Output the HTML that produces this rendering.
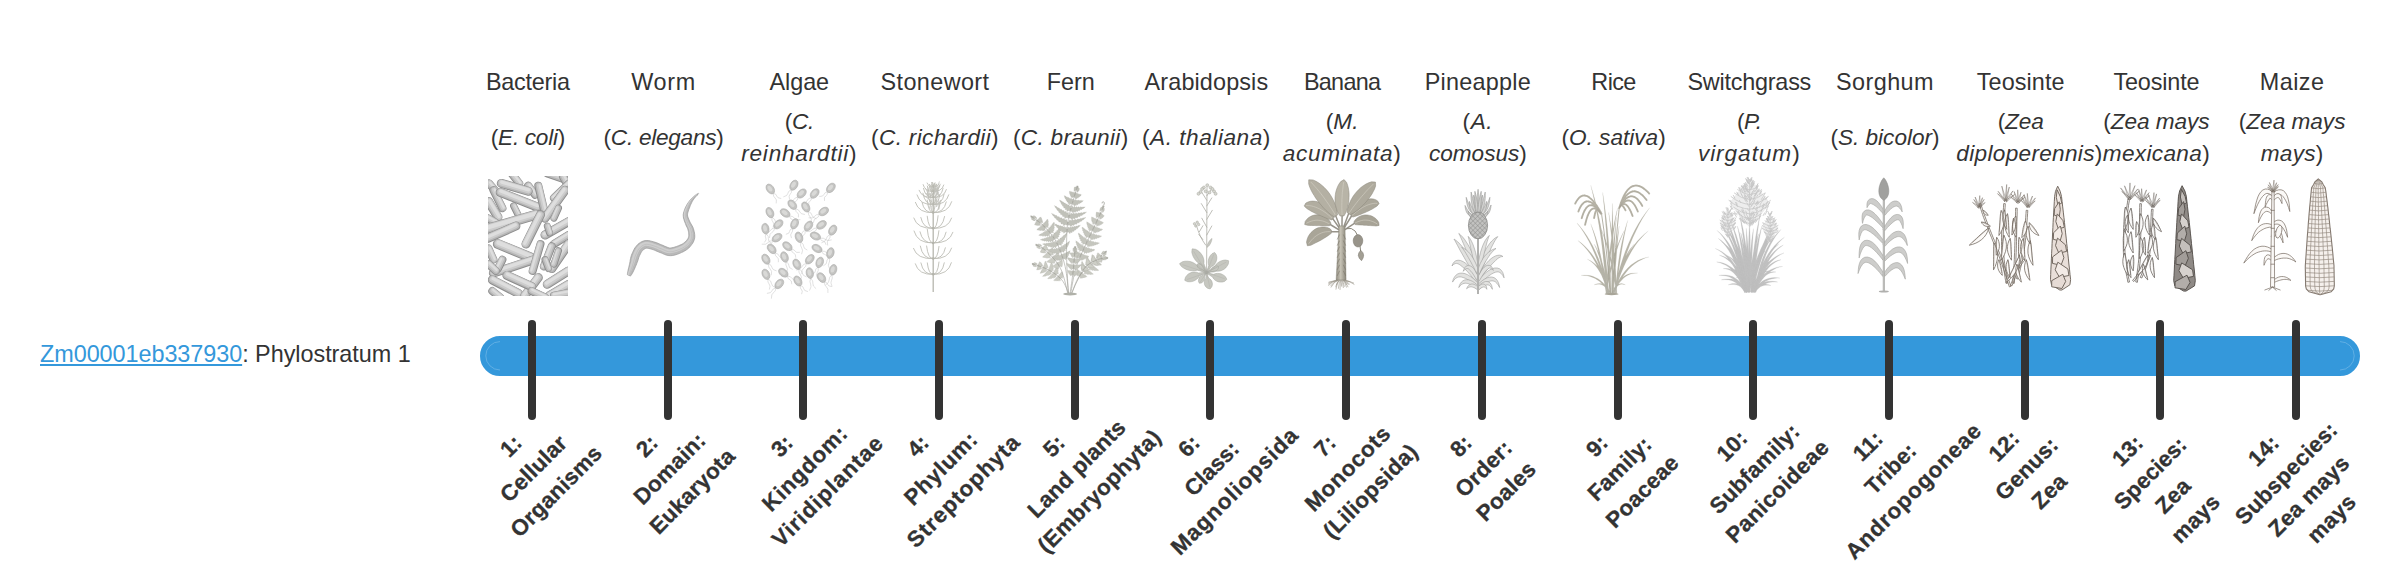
<!DOCTYPE html>
<html lang="en"><head><meta charset="utf-8"><title>Phylostratum timeline</title>
<style>

html,body{margin:0;padding:0}
body{width:2400px;height:580px;background:#fff;position:relative;overflow:hidden;font-family:"Liberation Sans",sans-serif;color:#333}
.t{position:absolute;white-space:nowrap;text-align:center;width:300px}
.cn{font-size:23.40px;line-height:30px;height:30px}
.sn{font-size:22.60px;line-height:30px;height:30px}
.gene{position:absolute;left:40px;white-space:nowrap;font-size:23.4px;line-height:30px}
.gene a{color:#3498db;text-decoration:underline;text-decoration-thickness:1.6px;text-underline-offset:2.2px}
.bar{position:absolute;left:480px;top:336px;width:1868px;height:28px;border:6px solid #3498db;background:#3498db;border-radius:20px}
.tick{position:absolute;top:320px;width:8px;height:100px;border-radius:4px;background:#333}
.lab{position:absolute;width:300px;text-align:center;font-weight:bold;font-size:22.30px;line-height:32px;white-space:nowrap;letter-spacing:0.25px;-webkit-text-stroke:0.3px #333;transform:rotate(-45deg);transform-origin:50% 50%}
.lab div{height:32px}
svg.im{position:absolute;top:176px;overflow:visible}

</style></head><body>
<div class="gene" style="top:338.59px"><a id="g0" style="letter-spacing:-0.050px">Zm00001eb337930</a><span id="g1" style="letter-spacing:-0.027px">: Phylostratum 1</span></div>
<div class="t cn" style="left:377.86px;top:67.19px"><span id="cn0" style="letter-spacing:-0.257px">Bacteria</span></div>
<div class="t sn" style="left:377.86px;top:123.07px"><span id="sn0_0" style="letter-spacing:-0.287px">(<i>E. coli</i>)</span></div>
<svg class="im" style="left:487.86px" width="80" height="120" viewBox="0 0 80 120" ><defs><clipPath id="bc"><rect x="0" y="0" width="80" height="120"/></clipPath><filter id="bf" x="-5%" y="-5%" width="110%" height="110%"><feGaussianBlur stdDeviation="0.45"/></filter></defs><g clip-path="url(#bc)"><g stroke-linecap="round" fill="none" filter="url(#bf)"><path d="M23.4 -2.6 L31.2 7.4" stroke="#8c8c8c" stroke-width="8.0"/><path d="M23.6 -2.8 L31.5 7.3" stroke="#b6b6b6" stroke-width="6.7"/><path d="M24.0 -3.1 L31.9 7.0" stroke="#cdcdcd" stroke-width="4.8"/><path d="M24.5 -3.5 L32.3 6.6" stroke="#dedede" stroke-width="2.2"/><path d="M59.3 -2.6 L78.3 4.1" stroke="#8c8c8c" stroke-width="8.0"/><path d="M59.4 -2.9 L78.4 3.8" stroke="#b6b6b6" stroke-width="6.7"/><path d="M59.5 -3.4 L78.6 3.3" stroke="#cdcdcd" stroke-width="4.8"/><path d="M59.7 -4.0 L78.8 2.8" stroke="#dedede" stroke-width="2.2"/><path d="M75.0 0.7 L81.2 11.9" stroke="#8c8c8c" stroke-width="8.0"/><path d="M75.2 0.6 L81.5 11.8" stroke="#b6b6b6" stroke-width="6.7"/><path d="M75.7 0.3 L81.9 11.5" stroke="#cdcdcd" stroke-width="4.8"/><path d="M76.2 0.0 L82.5 11.2" stroke="#dedede" stroke-width="2.2"/><path d="M40.2 9.7 L46.9 18.7" stroke="#8c8c8c" stroke-width="8.0"/><path d="M40.4 9.5 L47.2 18.5" stroke="#b6b6b6" stroke-width="6.7"/><path d="M40.8 9.2 L47.6 18.2" stroke="#cdcdcd" stroke-width="4.8"/><path d="M41.3 8.8 L48.0 17.8" stroke="#dedede" stroke-width="2.2"/><path d="M1.0 7.4 L8.8 16.4" stroke="#8c8c8c" stroke-width="8.0"/><path d="M1.2 7.2 L9.0 16.2" stroke="#b6b6b6" stroke-width="6.7"/><path d="M1.6 6.9 L9.4 15.9" stroke="#cdcdcd" stroke-width="4.8"/><path d="M2.0 6.5 L9.9 15.5" stroke="#dedede" stroke-width="2.2"/><path d="M0.5 25.4 L9.9 41.1" stroke="#8c8c8c" stroke-width="9.0"/><path d="M0.8 25.2 L10.2 40.9" stroke="#b6b6b6" stroke-width="7.7"/><path d="M1.2 25.0 L10.6 40.7" stroke="#cdcdcd" stroke-width="5.8"/><path d="M1.7 24.7 L11.1 40.4" stroke="#dedede" stroke-width="3.2"/><path d="M5.4 14.2 L14.4 32.1" stroke="#8c8c8c" stroke-width="8.0"/><path d="M5.7 14.0 L14.7 32.0" stroke="#b6b6b6" stroke-width="6.7"/><path d="M6.2 13.8 L15.1 31.7" stroke="#cdcdcd" stroke-width="4.8"/><path d="M6.7 13.5 L15.7 31.5" stroke="#dedede" stroke-width="2.2"/><path d="M66.0 22.0 L81.2 7.4" stroke="#8c8c8c" stroke-width="8.0"/><path d="M65.8 21.8 L81.0 7.2" stroke="#b6b6b6" stroke-width="6.7"/><path d="M65.4 21.4 L80.7 6.9" stroke="#cdcdcd" stroke-width="4.8"/><path d="M65.0 21.0 L80.3 6.4" stroke="#dedede" stroke-width="2.2"/><path d="M25.6 29.9 L30.1 38.8" stroke="#8c8c8c" stroke-width="7.0"/><path d="M25.9 29.7 L30.4 38.7" stroke="#b6b6b6" stroke-width="5.7"/><path d="M26.3 29.5 L30.8 38.5" stroke="#cdcdcd" stroke-width="3.8"/><path d="M26.9 29.2 L31.4 38.2" stroke="#dedede" stroke-width="1.2"/><path d="M-0.2 42.2 L7.7 46.7" stroke="#8c8c8c" stroke-width="8.0"/><path d="M-0.0 41.9 L7.8 46.4" stroke="#b6b6b6" stroke-width="6.7"/><path d="M0.2 41.5 L8.1 46.0" stroke="#cdcdcd" stroke-width="4.8"/><path d="M0.5 41.0 L8.4 45.5" stroke="#dedede" stroke-width="2.2"/><path d="M13.3 7.4 L40.2 15.3" stroke="#8c8c8c" stroke-width="9.0"/><path d="M13.4 7.2 L40.3 15.0" stroke="#b6b6b6" stroke-width="7.7"/><path d="M13.5 6.7 L40.4 14.5" stroke="#cdcdcd" stroke-width="5.8"/><path d="M13.7 6.1 L40.6 13.9" stroke="#dedede" stroke-width="3.2"/><path d="M12.2 16.4 L49.2 31.0" stroke="#8c8c8c" stroke-width="9.0"/><path d="M12.3 16.1 L49.3 30.7" stroke="#b6b6b6" stroke-width="7.7"/><path d="M12.5 15.7 L49.5 30.2" stroke="#cdcdcd" stroke-width="5.8"/><path d="M12.7 15.1 L49.7 29.7" stroke="#dedede" stroke-width="3.2"/><path d="M50.3 9.7 L55.9 33.2" stroke="#8c8c8c" stroke-width="8.0"/><path d="M50.6 9.6 L56.2 33.2" stroke="#b6b6b6" stroke-width="6.7"/><path d="M51.1 9.5 L56.7 33.0" stroke="#cdcdcd" stroke-width="4.8"/><path d="M51.7 9.4 L57.3 32.9" stroke="#dedede" stroke-width="2.2"/><path d="M77.2 14.2 L57.0 42.2" stroke="#8c8c8c" stroke-width="9.0"/><path d="M77.0 14.0 L56.8 42.0" stroke="#b6b6b6" stroke-width="7.7"/><path d="M76.5 13.7 L56.4 41.7" stroke="#cdcdcd" stroke-width="5.8"/><path d="M76.1 13.4 L55.9 41.4" stroke="#dedede" stroke-width="3.2"/><path d="M-0.2 52.7 L48.0 38.8" stroke="#8c8c8c" stroke-width="10.0"/><path d="M-0.2 52.4 L48.0 38.5" stroke="#b6b6b6" stroke-width="8.7"/><path d="M-0.4 52.0 L47.8 38.1" stroke="#cdcdcd" stroke-width="6.8"/><path d="M-0.5 51.4 L47.7 37.5" stroke="#dedede" stroke-width="4.2"/><path d="M-0.2 62.4 L27.9 50.0" stroke="#8c8c8c" stroke-width="9.0"/><path d="M-0.3 62.1 L27.7 49.8" stroke="#b6b6b6" stroke-width="7.7"/><path d="M-0.5 61.6 L27.5 49.3" stroke="#cdcdcd" stroke-width="5.8"/><path d="M-0.7 61.1 L27.3 48.8" stroke="#dedede" stroke-width="3.2"/><path d="M52.5 38.8 L38.0 68.0" stroke="#8c8c8c" stroke-width="9.0"/><path d="M52.3 38.7 L37.7 67.8" stroke="#b6b6b6" stroke-width="7.7"/><path d="M51.8 38.5 L37.2 67.6" stroke="#cdcdcd" stroke-width="5.8"/><path d="M51.3 38.2 L36.7 67.4" stroke="#dedede" stroke-width="3.2"/><path d="M80.6 45.6 L57.0 59.0" stroke="#8c8c8c" stroke-width="9.0"/><path d="M80.4 45.3 L56.9 58.8" stroke="#b6b6b6" stroke-width="7.7"/><path d="M80.2 44.9 L56.6 58.3" stroke="#cdcdcd" stroke-width="5.8"/><path d="M79.9 44.3 L56.3 57.8" stroke="#dedede" stroke-width="3.2"/><path d="M59.3 50.0 L61.5 56.8" stroke="#8c8c8c" stroke-width="7.0"/><path d="M59.5 49.9 L61.8 56.7" stroke="#b6b6b6" stroke-width="5.7"/><path d="M60.0 49.8 L62.3 56.5" stroke="#cdcdcd" stroke-width="3.8"/><path d="M60.6 49.6 L62.8 56.3" stroke="#dedede" stroke-width="1.2"/><path d="M80.6 59.0 L66.0 68.0" stroke="#8c8c8c" stroke-width="8.0"/><path d="M80.4 58.8 L65.8 67.7" stroke="#b6b6b6" stroke-width="6.7"/><path d="M80.1 58.3 L65.6 67.3" stroke="#cdcdcd" stroke-width="4.8"/><path d="M79.8 57.8 L65.3 66.8" stroke="#dedede" stroke-width="2.2"/><path d="M0.5 72.5 L5.4 83.7" stroke="#8c8c8c" stroke-width="8.0"/><path d="M0.8 72.3 L5.7 83.6" stroke="#b6b6b6" stroke-width="6.7"/><path d="M1.2 72.1 L6.2 83.4" stroke="#cdcdcd" stroke-width="4.8"/><path d="M1.8 71.9 L6.7 83.1" stroke="#dedede" stroke-width="2.2"/><path d="M66.0 42.2 L70.5 32.1" stroke="#8c8c8c" stroke-width="7.0"/><path d="M65.7 42.1 L70.2 32.0" stroke="#b6b6b6" stroke-width="5.7"/><path d="M65.3 41.9 L69.7 31.8" stroke="#cdcdcd" stroke-width="3.8"/><path d="M64.7 41.6 L69.2 31.5" stroke="#dedede" stroke-width="1.2"/><path d="M9.9 68.0 L42.4 81.4" stroke="#8c8c8c" stroke-width="10.0"/><path d="M10.0 67.7 L42.6 81.2" stroke="#b6b6b6" stroke-width="8.7"/><path d="M10.2 67.2 L42.7 80.7" stroke="#cdcdcd" stroke-width="6.8"/><path d="M10.5 66.7 L43.0 80.1" stroke="#dedede" stroke-width="4.2"/><path d="M5.4 97.1 L45.8 83.7" stroke="#8c8c8c" stroke-width="9.0"/><path d="M5.4 96.8 L45.7 83.4" stroke="#b6b6b6" stroke-width="7.7"/><path d="M5.2 96.4 L45.6 82.9" stroke="#cdcdcd" stroke-width="5.8"/><path d="M5.0 95.8 L45.4 82.3" stroke="#dedede" stroke-width="3.2"/><path d="M63.7 70.2 L55.9 90.4" stroke="#8c8c8c" stroke-width="8.0"/><path d="M63.5 70.1 L55.6 90.3" stroke="#b6b6b6" stroke-width="6.7"/><path d="M63.0 69.9 L55.2 90.1" stroke="#cdcdcd" stroke-width="4.8"/><path d="M62.4 69.7 L54.6 89.9" stroke="#dedede" stroke-width="2.2"/><path d="M80.6 68.0 L63.7 92.6" stroke="#8c8c8c" stroke-width="9.0"/><path d="M80.3 67.8 L63.5 92.5" stroke="#b6b6b6" stroke-width="7.7"/><path d="M79.9 67.5 L63.1 92.2" stroke="#cdcdcd" stroke-width="5.8"/><path d="M79.4 67.2 L62.6 91.9" stroke="#dedede" stroke-width="3.2"/><path d="M52.5 68.0 L44.7 94.9" stroke="#8c8c8c" stroke-width="8.0"/><path d="M52.2 67.9 L44.4 94.8" stroke="#b6b6b6" stroke-width="6.7"/><path d="M51.8 67.8 L43.9 94.7" stroke="#cdcdcd" stroke-width="4.8"/><path d="M51.2 67.6 L43.3 94.5" stroke="#dedede" stroke-width="2.2"/><path d="M14.4 83.7 L9.9 92.6" stroke="#8c8c8c" stroke-width="8.0"/><path d="M14.1 83.5 L9.7 92.5" stroke="#b6b6b6" stroke-width="6.7"/><path d="M13.7 83.3 L9.2 92.3" stroke="#cdcdcd" stroke-width="4.8"/><path d="M13.2 83.1 L8.7 92.0" stroke="#dedede" stroke-width="2.2"/><path d="M57.0 83.7 L60.4 92.6" stroke="#8c8c8c" stroke-width="7.0"/><path d="M57.3 83.6 L60.7 92.5" stroke="#b6b6b6" stroke-width="5.7"/><path d="M57.8 83.4 L61.1 92.4" stroke="#cdcdcd" stroke-width="3.8"/><path d="M58.3 83.2 L61.7 92.2" stroke="#dedede" stroke-width="1.2"/><path d="M70.5 74.7 L66.0 88.2" stroke="#8c8c8c" stroke-width="7.0"/><path d="M70.2 74.6 L65.7 88.1" stroke="#b6b6b6" stroke-width="5.7"/><path d="M69.7 74.5 L65.2 87.9" stroke="#cdcdcd" stroke-width="3.8"/><path d="M69.1 74.3 L64.7 87.7" stroke="#dedede" stroke-width="1.2"/><path d="M4.3 103.9 L30.1 117.3" stroke="#8c8c8c" stroke-width="9.0"/><path d="M4.5 103.6 L30.3 117.0" stroke="#b6b6b6" stroke-width="7.7"/><path d="M4.7 103.1 L30.5 116.6" stroke="#cdcdcd" stroke-width="5.8"/><path d="M5.0 102.6 L30.8 116.1" stroke="#dedede" stroke-width="3.2"/><path d="M80.6 94.9 L59.3 108.3" stroke="#8c8c8c" stroke-width="9.0"/><path d="M80.4 94.6 L59.1 108.1" stroke="#b6b6b6" stroke-width="7.7"/><path d="M80.1 94.2 L58.8 107.7" stroke="#cdcdcd" stroke-width="5.8"/><path d="M79.8 93.7 L58.5 107.2" stroke="#dedede" stroke-width="3.2"/><path d="M50.3 101.6 L36.8 119.6" stroke="#8c8c8c" stroke-width="9.0"/><path d="M50.1 101.4 L36.6 119.4" stroke="#b6b6b6" stroke-width="7.7"/><path d="M49.7 101.1 L36.2 119.1" stroke="#cdcdcd" stroke-width="5.8"/><path d="M49.2 100.8 L35.7 118.7" stroke="#dedede" stroke-width="3.2"/><path d="M80.6 108.3 L61.5 119.6" stroke="#8c8c8c" stroke-width="9.0"/><path d="M80.4 108.1 L61.4 119.3" stroke="#b6b6b6" stroke-width="7.7"/><path d="M80.2 107.7 L61.1 118.9" stroke="#cdcdcd" stroke-width="5.8"/><path d="M79.9 107.1 L60.8 118.3" stroke="#dedede" stroke-width="3.2"/><path d="M18.9 99.4 L43.6 110.6" stroke="#8c8c8c" stroke-width="9.0"/><path d="M19.0 99.1 L43.7 110.3" stroke="#b6b6b6" stroke-width="7.7"/><path d="M19.2 98.6 L43.9 109.9" stroke="#cdcdcd" stroke-width="5.8"/><path d="M19.5 98.1 L44.1 109.3" stroke="#dedede" stroke-width="3.2"/><path d="M4.3 115.1 L12.2 121.3" stroke="#8c8c8c" stroke-width="8.0"/><path d="M4.5 114.8 L12.4 121.1" stroke="#b6b6b6" stroke-width="6.7"/><path d="M4.8 114.4 L12.7 120.7" stroke="#cdcdcd" stroke-width="4.8"/><path d="M5.2 114.0 L13.0 120.3" stroke="#dedede" stroke-width="2.2"/><path d="M43.6 115.1 L57.0 121.3" stroke="#8c8c8c" stroke-width="8.0"/><path d="M43.7 114.8 L57.1 121.1" stroke="#b6b6b6" stroke-width="6.7"/><path d="M43.9 114.3 L57.4 120.6" stroke="#cdcdcd" stroke-width="4.8"/><path d="M44.2 113.8 L57.6 120.1" stroke="#dedede" stroke-width="2.2"/><path d="M0.5 88.2 L7.7 94.9" stroke="#8c8c8c" stroke-width="8.0"/><path d="M0.7 87.9 L7.9 94.7" stroke="#b6b6b6" stroke-width="6.7"/><path d="M1.1 87.6 L8.2 94.3" stroke="#cdcdcd" stroke-width="4.8"/><path d="M1.5 87.1 L8.6 93.9" stroke="#dedede" stroke-width="2.2"/><path d="M66.0 119.6 L80.6 116.9" stroke="#8c8c8c" stroke-width="8.0"/><path d="M65.9 119.3 L80.5 116.6" stroke="#b6b6b6" stroke-width="6.7"/><path d="M65.8 118.8 L80.4 116.1" stroke="#cdcdcd" stroke-width="4.8"/><path d="M65.7 118.2 L80.3 115.5" stroke="#dedede" stroke-width="2.2"/></g></g></svg>
<div class="t cn" style="left:513.57px;top:67.19px"><span id="cn1" style="letter-spacing:0.700px">Worm</span></div>
<div class="t sn" style="left:513.57px;top:123.07px"><span id="sn1_0" style="letter-spacing:-0.264px">(<i>C. elegans</i>)</span></div>
<svg class="im" style="left:623.57px" width="80" height="120" viewBox="0 0 80 120" ><defs><filter id="wf" x="-5%" y="-5%" width="110%" height="110%"><feGaussianBlur stdDeviation="0.30"/></filter></defs><g filter="url(#wf)"><path d="M74.2 17.3L73.5 17.8L72.6 18.4L71.5 19.2L70.3 20.1L69.1 21.0L68.0 22.0L67.0 23.0L66.1 24.1L65.2 25.3L64.3 26.5L63.4 27.8L62.7 29.1L61.9 30.5L61.2 32.0L60.6 33.6L60.0 35.3L59.5 37.0L59.2 38.8L59.3 40.5L59.5 42.1L60.0 43.7L60.4 45.1L60.9 46.4L61.4 47.6L61.9 48.9L62.4 50.2L63.0 51.3L63.5 52.3L63.8 53.2L64.1 54.2L64.4 55.3L64.6 56.5L64.7 57.8L64.8 58.9L64.8 59.9L64.6 60.7L64.4 61.5L64.1 62.3L63.6 63.0L63.1 63.8L62.5 64.5L61.8 65.3L61.0 66.0L60.2 66.7L59.3 67.4L58.3 68.0L57.2 68.6L56.0 69.1L54.5 69.7L52.7 70.4L50.9 71.0L49.2 71.5L47.6 71.8L46.3 72.0L45.3 71.9L44.3 71.6L43.1 71.2L41.8 70.6L40.3 70.0L38.8 69.3L37.5 68.8L36.2 68.3L34.9 67.7L33.6 67.1L32.1 66.6L30.7 66.1L29.3 65.7L27.8 65.3L26.3 64.9L24.7 64.6L22.9 64.5L21.1 64.6L19.4 65.0L17.9 65.6L16.4 66.4L15.1 67.3L13.9 68.3L12.8 69.4L11.8 70.7L10.8 72.0L10.0 73.4L9.3 74.9L8.7 76.3L8.0 77.8L7.4 79.3L6.9 81.0L6.5 82.6L6.2 84.2L6.0 85.7L5.7 87.2L5.4 88.6L5.1 90.0L4.7 91.5L4.4 92.8L4.1 94.1L3.9 95.2L3.7 96.0L3.6 96.8L3.5 97.4L3.4 97.9L3.4 98.4L3.4 98.7L6.4 100.0L6.7 99.8L7.0 99.4L7.3 99.0L7.7 98.4L8.1 97.7L8.6 96.9L9.1 95.9L9.7 94.7L10.3 93.4L10.9 92.0L11.5 90.6L12.1 89.2L12.7 87.7L13.3 86.1L13.9 84.6L14.3 83.2L14.7 81.8L15.2 80.6L15.7 79.4L16.3 78.2L16.8 77.1L17.4 76.1L17.9 75.3L18.5 74.6L19.1 74.0L19.8 73.4L20.5 73.0L21.1 72.6L21.7 72.4L22.3 72.2L22.9 72.2L23.7 72.3L24.7 72.5L25.9 72.7L27.2 73.1L28.4 73.5L29.5 73.8L30.7 74.3L31.9 74.8L33.2 75.4L34.6 76.0L36.0 76.5L37.3 77.0L38.6 77.6L40.2 78.3L42.0 79.0L44.1 79.5L46.4 79.7L48.8 79.5L51.1 79.0L53.3 78.3L55.4 77.5L57.4 76.6L59.2 75.8L60.7 74.9L62.2 74.0L63.6 73.0L64.8 72.0L65.8 70.9L66.8 69.8L67.7 68.6L68.6 67.4L69.3 66.1L69.9 64.8L70.4 63.3L70.7 61.8L70.8 60.1L70.7 58.5L70.5 57.0L70.2 55.4L69.8 54.0L69.4 52.6L68.9 51.2L68.2 49.9L67.6 48.8L67.0 47.8L66.4 46.8L65.9 45.8L65.4 44.6L64.8 43.3L64.3 42.1L63.9 41.0L63.6 40.0L63.5 38.9L63.6 37.8L63.9 36.4L64.3 35.0L64.8 33.5L65.4 32.0L66.0 30.6L66.4 29.3L67.0 28.0L67.6 26.8L68.2 25.6L68.9 24.4L69.6 23.4L70.4 22.3L71.3 21.2L72.3 20.1L73.2 19.2L74.0 18.4L74.6 17.7Z" fill="#b9b9b9" stroke="#989898" stroke-width="0.7" stroke-linejoin="round"/><path d="M74.3 17.4L73.6 17.9L72.7 18.6L71.7 19.4L70.5 20.3L69.4 21.3L68.4 22.4L67.5 23.4L66.6 24.5L65.8 25.7L65.0 26.9L64.2 28.2L63.5 29.5L62.8 30.9L62.1 32.4L61.5 34.0L60.9 35.6L60.5 37.2L60.3 38.8L60.4 40.4L60.6 41.9L61.0 43.3L61.5 44.6L62.0 45.9L62.5 47.1L63.0 48.4L63.6 49.6L64.1 50.7L64.7 51.7L65.1 52.7L65.4 53.8L65.7 55.0L66.0 56.3L66.2 57.6L66.3 58.8L66.3 60.0L66.2 61.0L65.9 62.0L65.5 62.9L65.0 63.8L64.5 64.7L63.8 65.6L63.0 66.4L62.2 67.2L61.3 68.0L60.4 68.8L59.3 69.5L58.1 70.2L56.8 70.8L55.2 71.5L53.4 72.2L51.5 72.8L49.6 73.4L47.9 73.7L46.3 73.9L45.0 73.8L43.7 73.5L42.4 73.0L41.0 72.4L39.6 71.7L38.1 71.1L36.8 70.6L35.5 70.1L34.2 69.5L32.9 68.9L31.5 68.4L30.1 67.9L28.8 67.5L27.4 67.1L25.9 66.8L24.4 66.5L22.9 66.4L21.4 66.5L20.0 66.9L18.7 67.4L17.4 68.1L16.3 68.8L15.2 69.7L14.2 70.7L13.3 71.8L12.5 73.1L11.7 74.4L11.0 75.7L10.4 77.1L9.8 78.5L9.3 80.0L8.8 81.5L8.3 83.1L8.0 84.7L7.7 86.2L7.3 87.7L6.9 89.1L6.5 90.5L6.1 92.0L5.7 93.3L5.4 94.5L5.1 95.6L4.8 96.4L4.6 97.2L4.4 97.8L4.3 98.3L4.2 98.7L4.1 99.1L5.6 99.7L5.8 99.4L6.1 99.0L6.4 98.6L6.7 98.0L7.0 97.3L7.4 96.4L7.9 95.4L8.4 94.2L8.9 92.9L9.4 91.5L10.0 90.1L10.5 88.7L11.0 87.2L11.5 85.7L12.0 84.1L12.5 82.6L12.9 81.2L13.4 79.9L13.9 78.6L14.5 77.4L15.1 76.2L15.7 75.1L16.4 74.1L17.1 73.3L17.8 72.6L18.6 71.9L19.4 71.3L20.3 70.9L21.1 70.5L22.0 70.3L22.9 70.3L23.9 70.4L25.1 70.6L26.4 70.9L27.7 71.2L29.0 71.6L30.2 72.0L31.4 72.5L32.6 73.0L33.9 73.6L35.3 74.2L36.7 74.7L38.0 75.3L39.4 75.9L40.9 76.6L42.6 77.2L44.4 77.6L46.4 77.8L48.5 77.6L50.6 77.1L52.7 76.5L54.8 75.7L56.7 74.9L58.4 74.1L59.9 73.3L61.3 72.5L62.5 71.6L63.6 70.7L64.6 69.7L65.6 68.7L66.4 67.6L67.2 66.5L67.9 65.4L68.4 64.1L68.9 62.9L69.2 61.5L69.3 60.1L69.3 58.6L69.1 57.2L68.8 55.7L68.5 54.3L68.1 53.0L67.6 51.7L67.1 50.5L66.4 49.4L65.8 48.4L65.3 47.3L64.8 46.2L64.3 45.0L63.7 43.8L63.2 42.5L62.8 41.3L62.5 40.1L62.5 38.9L62.6 37.6L62.9 36.1L63.4 34.6L63.9 33.1L64.5 31.7L65.1 30.3L65.7 28.9L66.3 27.7L67.0 26.4L67.7 25.2L68.4 24.1L69.2 23.0L70.0 22.0L71.0 20.9L72.1 19.9L73.1 19.0L73.9 18.2L74.5 17.6Z" fill="#cecece" transform="translate(-0.5,-0.5)"/><path d="M68.8 22.7L68.0 23.7L67.2 24.9L66.4 26.0L65.6 27.3L64.9 28.5L64.3 29.9L63.7 31.3L63.0 32.8L62.4 34.3L61.9 35.9L61.6 37.4L61.4 38.8L61.5 40.2L61.7 41.6L62.1 42.9L62.6 44.2L63.1 45.5L63.6 46.7L64.1 47.9L64.7 49.0L65.3 50.0L65.9 51.1L66.4 52.2L66.8 53.4L67.1 54.7L67.4 56.0L67.6 57.4L67.8 58.7L67.8 60.0L67.7 61.3L67.4 62.4L67.0 63.5L66.5 64.6L65.8 65.6L65.1 66.6L64.3 67.5L63.4 68.5L62.5 69.3L61.4 70.2L60.3 71.0L59.0 71.8L57.6 72.5L55.9 73.2L54.1 73.9L52.1 74.6L50.1 75.2L48.2 75.7L46.4 75.8L44.7 75.7L43.2 75.3L41.7 74.8L40.2 74.1L38.8 73.5L37.4 72.9L36.0 72.4L34.7 71.8L33.4 71.2L32.1 70.7L30.8 70.2L29.6 69.8L28.2 69.4L26.9 69.0L25.5 68.7L24.2 68.4L22.9 68.3L21.7 68.4L20.6 68.7L19.5 69.1L18.4 69.7L17.5 70.4L16.5 71.2L15.7 72.0L14.8 73.0L14.1 74.1L13.4 75.3L12.8 76.5L12.2 77.9L11.6 79.2L11.1 80.6L10.6 82.1L10.2 83.6L9.8 85.2L9.4 86.7L8.9 88.2L8.5 89.6L8.0 91.0L7.5 92.4L7.0 93.8L6.6 95.0L6.2 96.0L5.9 96.9L5.6 97.6L5.4 98.2" fill="none" stroke="#a9a9a9" stroke-width="0.35"/></g></svg>
<div class="t cn" style="left:649.29px;top:67.19px"><span id="cn2" style="letter-spacing:-0.075px">Algae</span></div>
<div class="t sn" style="left:649.29px;top:107.17px"><span id="sn2_0" style="letter-spacing:-0.300px">(<i>C.</i></span></div>
<div class="t sn" style="left:649.29px;top:138.57px"><span id="sn2_1" style="letter-spacing:0.791px"><i>reinhardtii</i>)</span></div>
<svg class="im" style="left:759.29px" width="80" height="120" viewBox="0 0 80 120" ><defs><filter id="af" x="-5%" y="-5%" width="110%" height="110%"><feGaussianBlur stdDeviation="0.30"/></filter></defs><g filter="url(#af)"><path d="M14.2 17.1 q3.3 0.9 3.6 3.0 t4.4 2.4M14.2 17.1 q-0.1 3.8 1.9 4.9 t1.1 5.4M32.4 13.6 q0.5 3.6 -1.3 4.7 t-0.5 5.2M32.4 13.6 q-3.5 1.6 -3.6 3.9 t-4.5 3.4M39.2 21.1 q-0.7 3.8 -2.9 4.6 t-2.2 5.3M39.2 21.1 q-3.3 0.2 -3.8 2.1 t-4.5 1.4M52.5 21.4 q0.1 3.3 -1.7 3.9 t-0.9 4.5M52.5 21.4 q-3.9 1.2 -4.6 3.6 t-5.3 2.9M68.7 15.8 q-0.1 3.5 -2.0 4.2 t-1.2 4.9M68.7 15.8 q-3.4 0.6 -3.8 2.7 t-4.6 2.0M13.0 41.1 q3.5 2.3 3.6 4.9 t4.5 4.5M13.0 41.1 q-0.7 3.6 1.0 5.0 t0.1 5.4M30.2 39.9 q4.1 0.2 5.3 2.3 t5.9 1.5M30.2 39.9 q1.2 3.5 3.4 3.8 t2.8 4.6M36.5 32.6 q3.7 1.0 4.3 3.3 t5.1 2.6M36.5 32.6 q-0.0 3.4 1.8 4.1 t1.1 4.7M49.3 35.3 q3.5 1.6 3.7 4.0 t4.5 3.5M49.3 35.3 q-0.2 4.1 1.8 5.6 t1.0 6.1M60.6 38.3 q-1.2 3.5 -3.4 3.9 t-2.9 4.7M60.6 38.3 q-4.0 0.1 -5.2 2.2 t-5.8 1.3M7.3 57.7 q2.7 2.8 2.1 5.1 t3.1 4.9M7.3 57.7 q-1.7 2.8 -0.5 4.3 t-1.4 4.4M15.9 51.8 q-0.8 3.9 -3.1 4.7 t-2.3 5.5M15.9 51.8 q-3.8 0.6 -4.5 2.8 t-5.2 2.1M33.4 52.3 q0.8 3.4 -0.9 4.7 t0.0 5.1M33.4 52.3 q-3.0 1.3 -2.8 3.2 t-3.7 2.8M46.6 54.1 q-0.2 4.1 -2.3 5.4 t-1.5 6.0M46.6 54.1 q-3.5 1.2 -3.8 3.4 t-4.6 2.8M58.4 51.8 q-1.4 3.7 -3.8 4.1 t-3.2 4.9M58.4 51.8 q-4.1 0.2 -5.4 2.3 t-6.0 1.5M71.2 58.4 q0.3 3.9 -1.7 5.3 t-0.8 5.8M71.2 58.4 q-3.7 1.9 -4.0 4.5 t-4.8 4.0M14.0 64.6 q-1.1 3.5 -3.2 3.7 t-2.7 4.5M14.0 64.6 q-4.0 0.1 -5.3 2.2 t-5.9 1.4M41.8 66.0 q3.1 2.0 2.8 4.2 t3.7 3.8M41.8 66.0 q-0.9 4.1 0.9 5.9 t-0.1 6.3M60.9 62.2 q4.1 -0.5 5.7 1.3 t6.1 0.4M60.9 62.2 q1.4 3.1 3.3 2.9 t2.9 3.8M32.2 73.4 q3.4 -0.0 4.0 1.8 t4.7 1.1M32.2 73.4 q0.6 3.4 2.6 3.8 t2.0 4.5M62.3 75.0 q4.2 -0.1 5.7 1.9 t6.2 1.1M62.3 75.0 q1.4 3.4 3.6 3.5 t3.1 4.3M70.1 81.8 q1.3 3.6 -0.2 5.4 t0.8 5.6M70.1 81.8 q-2.8 2.1 -2.4 4.1 t-3.3 3.9M15.9 76.7 q3.6 0.9 4.1 3.1 t4.9 2.4M15.9 76.7 q0.2 3.6 2.1 4.4 t1.4 5.1M27.2 85.7 q3.0 1.9 2.7 4.0 t3.7 3.7M27.2 85.7 q-1.0 3.7 0.6 5.3 t-0.3 5.6M9.4 87.6 q3.5 1.6 3.6 3.9 t4.5 3.4M9.4 87.6 q-0.2 4.1 1.9 5.6 t1.0 6.1M39.9 92.7 q3.4 2.0 3.4 4.4 t4.3 3.9M39.9 92.7 q-0.5 4.1 1.4 5.8 t0.5 6.2M47.6 87.1 q-0.5 4.0 -2.8 5.1 t-2.0 5.8M47.6 87.1 q-4.0 1.3 -4.8 3.8 t-5.5 3.2M59.0 91.1 q1.0 3.8 -0.7 5.4 t0.2 5.8M59.0 91.1 q-3.0 1.7 -2.6 3.7 t-3.5 3.3M72.8 98.6 q1.2 3.9 -0.3 5.8 t0.6 6.1M72.8 98.6 q-3.0 2.9 -2.7 5.4 t-3.7 5.2M9.0 102.8 q3.5 2.2 3.5 4.8 t4.4 4.3M9.0 102.8 q-0.7 3.7 1.1 5.2 t0.2 5.6M28.2 99.9 q3.9 0.4 4.9 2.6 t5.6 1.8M28.2 99.9 q0.6 3.4 2.6 3.8 t2.0 4.5M17.1 111.7 q-0.5 4.0 -2.7 5.1 t-2.0 5.8M17.1 111.7 q-3.7 1.0 -4.2 3.2 t-5.0 2.5M41.4 109.3 q3.3 1.3 3.3 3.4 t4.2 2.9M41.4 109.3 q-0.7 3.2 1.0 4.2 t0.2 4.7M51.7 102.1 q2.8 3.0 2.2 5.4 t3.2 5.2M51.7 102.1 q-1.5 3.9 -0.1 6.1 t-1.1 6.3M65.3 105.7 q3.2 0.8 3.4 2.7 t4.2 2.2M65.3 105.7 q0.1 4.0 2.2 5.3 t1.4 5.9" fill="none" stroke="#bdbdbb" stroke-width="0.45"/><g fill="#c4c4c2" stroke="#a9a9a7" stroke-width="0.55"><ellipse cx="11.3" cy="13.0" rx="5.4" ry="3.6" transform="rotate(55 11.3 13.0)"/><ellipse cx="34.9" cy="9.2" rx="5.4" ry="3.6" transform="rotate(-60 34.9 9.2)"/><ellipse cx="42.7" cy="17.5" rx="5.4" ry="3.6" transform="rotate(-45 42.7 17.5)"/><ellipse cx="55.7" cy="17.5" rx="5.4" ry="3.6" transform="rotate(-50 55.7 17.5)"/><ellipse cx="71.9" cy="11.9" rx="5.4" ry="3.6" transform="rotate(-50 71.9 11.9)"/><ellipse cx="10.9" cy="36.6" rx="5.4" ry="3.6" transform="rotate(65 10.9 36.6)"/><ellipse cx="26.1" cy="37.0" rx="5.4" ry="3.6" transform="rotate(35 26.1 37.0)"/><ellipse cx="33.3" cy="28.7" rx="5.4" ry="3.6" transform="rotate(50 33.3 28.7)"/><ellipse cx="46.8" cy="31.0" rx="5.4" ry="3.6" transform="rotate(60 46.8 31.0)"/><ellipse cx="64.7" cy="35.5" rx="5.4" ry="3.6" transform="rotate(-35 64.7 35.5)"/><ellipse cx="6.4" cy="52.7" rx="5.4" ry="3.6" transform="rotate(80 6.4 52.7)"/><ellipse cx="19.4" cy="48.3" rx="5.4" ry="3.6" transform="rotate(-45 19.4 48.3)"/><ellipse cx="35.6" cy="47.8" rx="5.4" ry="3.6" transform="rotate(-65 35.6 47.8)"/><ellipse cx="49.5" cy="50.0" rx="5.4" ry="3.6" transform="rotate(-55 49.5 50.0)"/><ellipse cx="62.5" cy="48.9" rx="5.4" ry="3.6" transform="rotate(-35 62.5 48.9)"/><ellipse cx="73.7" cy="54.1" rx="5.4" ry="3.6" transform="rotate(-60 73.7 54.1)"/><ellipse cx="18.1" cy="61.7" rx="5.4" ry="3.6" transform="rotate(-35 18.1 61.7)"/><ellipse cx="40.0" cy="61.3" rx="5.4" ry="3.6" transform="rotate(70 40.0 61.3)"/><ellipse cx="56.4" cy="60.1" rx="5.4" ry="3.6" transform="rotate(25 56.4 60.1)"/><ellipse cx="28.4" cy="70.2" rx="5.4" ry="3.6" transform="rotate(40 28.4 70.2)"/><ellipse cx="58.0" cy="72.5" rx="5.4" ry="3.6" transform="rotate(30 58.0 72.5)"/><ellipse cx="71.4" cy="77.0" rx="5.4" ry="3.6" transform="rotate(-75 71.4 77.0)"/><ellipse cx="12.7" cy="72.9" rx="5.4" ry="3.6" transform="rotate(50 12.7 72.9)"/><ellipse cx="25.5" cy="81.0" rx="5.4" ry="3.6" transform="rotate(70 25.5 81.0)"/><ellipse cx="6.9" cy="83.2" rx="5.4" ry="3.6" transform="rotate(60 6.9 83.2)"/><ellipse cx="37.8" cy="88.2" rx="5.4" ry="3.6" transform="rotate(65 37.8 88.2)"/><ellipse cx="50.8" cy="83.2" rx="5.4" ry="3.6" transform="rotate(-50 50.8 83.2)"/><ellipse cx="60.7" cy="86.4" rx="5.4" ry="3.6" transform="rotate(-70 60.7 86.4)"/><ellipse cx="74.1" cy="93.8" rx="5.4" ry="3.6" transform="rotate(-75 74.1 93.8)"/><ellipse cx="6.9" cy="98.3" rx="5.4" ry="3.6" transform="rotate(65 6.9 98.3)"/><ellipse cx="24.3" cy="96.7" rx="5.4" ry="3.6" transform="rotate(40 24.3 96.7)"/><ellipse cx="20.3" cy="107.9" rx="5.4" ry="3.6" transform="rotate(-50 20.3 107.9)"/><ellipse cx="38.9" cy="105.0" rx="5.4" ry="3.6" transform="rotate(60 38.9 105.0)"/><ellipse cx="50.8" cy="97.1" rx="5.4" ry="3.6" transform="rotate(80 50.8 97.1)"/><ellipse cx="62.5" cy="101.6" rx="5.4" ry="3.6" transform="rotate(55 62.5 101.6)"/></g><g fill="#d9d9d7" transform="translate(-0.4,-0.4)"><ellipse cx="11.3" cy="13.0" rx="3.2" ry="1.9" transform="rotate(55 11.3 13.0)"/><ellipse cx="34.9" cy="9.2" rx="3.2" ry="1.9" transform="rotate(-60 34.9 9.2)"/><ellipse cx="42.7" cy="17.5" rx="3.2" ry="1.9" transform="rotate(-45 42.7 17.5)"/><ellipse cx="55.7" cy="17.5" rx="3.2" ry="1.9" transform="rotate(-50 55.7 17.5)"/><ellipse cx="71.9" cy="11.9" rx="3.2" ry="1.9" transform="rotate(-50 71.9 11.9)"/><ellipse cx="10.9" cy="36.6" rx="3.2" ry="1.9" transform="rotate(65 10.9 36.6)"/><ellipse cx="26.1" cy="37.0" rx="3.2" ry="1.9" transform="rotate(35 26.1 37.0)"/><ellipse cx="33.3" cy="28.7" rx="3.2" ry="1.9" transform="rotate(50 33.3 28.7)"/><ellipse cx="46.8" cy="31.0" rx="3.2" ry="1.9" transform="rotate(60 46.8 31.0)"/><ellipse cx="64.7" cy="35.5" rx="3.2" ry="1.9" transform="rotate(-35 64.7 35.5)"/><ellipse cx="6.4" cy="52.7" rx="3.2" ry="1.9" transform="rotate(80 6.4 52.7)"/><ellipse cx="19.4" cy="48.3" rx="3.2" ry="1.9" transform="rotate(-45 19.4 48.3)"/><ellipse cx="35.6" cy="47.8" rx="3.2" ry="1.9" transform="rotate(-65 35.6 47.8)"/><ellipse cx="49.5" cy="50.0" rx="3.2" ry="1.9" transform="rotate(-55 49.5 50.0)"/><ellipse cx="62.5" cy="48.9" rx="3.2" ry="1.9" transform="rotate(-35 62.5 48.9)"/><ellipse cx="73.7" cy="54.1" rx="3.2" ry="1.9" transform="rotate(-60 73.7 54.1)"/><ellipse cx="18.1" cy="61.7" rx="3.2" ry="1.9" transform="rotate(-35 18.1 61.7)"/><ellipse cx="40.0" cy="61.3" rx="3.2" ry="1.9" transform="rotate(70 40.0 61.3)"/><ellipse cx="56.4" cy="60.1" rx="3.2" ry="1.9" transform="rotate(25 56.4 60.1)"/><ellipse cx="28.4" cy="70.2" rx="3.2" ry="1.9" transform="rotate(40 28.4 70.2)"/><ellipse cx="58.0" cy="72.5" rx="3.2" ry="1.9" transform="rotate(30 58.0 72.5)"/><ellipse cx="71.4" cy="77.0" rx="3.2" ry="1.9" transform="rotate(-75 71.4 77.0)"/><ellipse cx="12.7" cy="72.9" rx="3.2" ry="1.9" transform="rotate(50 12.7 72.9)"/><ellipse cx="25.5" cy="81.0" rx="3.2" ry="1.9" transform="rotate(70 25.5 81.0)"/><ellipse cx="6.9" cy="83.2" rx="3.2" ry="1.9" transform="rotate(60 6.9 83.2)"/><ellipse cx="37.8" cy="88.2" rx="3.2" ry="1.9" transform="rotate(65 37.8 88.2)"/><ellipse cx="50.8" cy="83.2" rx="3.2" ry="1.9" transform="rotate(-50 50.8 83.2)"/><ellipse cx="60.7" cy="86.4" rx="3.2" ry="1.9" transform="rotate(-70 60.7 86.4)"/><ellipse cx="74.1" cy="93.8" rx="3.2" ry="1.9" transform="rotate(-75 74.1 93.8)"/><ellipse cx="6.9" cy="98.3" rx="3.2" ry="1.9" transform="rotate(65 6.9 98.3)"/><ellipse cx="24.3" cy="96.7" rx="3.2" ry="1.9" transform="rotate(40 24.3 96.7)"/><ellipse cx="20.3" cy="107.9" rx="3.2" ry="1.9" transform="rotate(-50 20.3 107.9)"/><ellipse cx="38.9" cy="105.0" rx="3.2" ry="1.9" transform="rotate(60 38.9 105.0)"/><ellipse cx="50.8" cy="97.1" rx="3.2" ry="1.9" transform="rotate(80 50.8 97.1)"/><ellipse cx="62.5" cy="101.6" rx="3.2" ry="1.9" transform="rotate(55 62.5 101.6)"/></g></g></svg>
<div class="t cn" style="left:785.00px;top:67.19px"><span id="cn3" style="letter-spacing:0.387px">Stonewort</span></div>
<div class="t sn" style="left:785.00px;top:123.07px"><span id="sn3_0" style="letter-spacing:0.338px">(<i>C. richardii</i>)</span></div>
<svg class="im" style="left:895.00px" width="80" height="120" viewBox="0 0 80 120" ><path d="M38.2 52.3 Q22.2 53.1 18.8 42.0M38.2 52.3 Q28.2 53.1 25.8 41.5M38.2 52.3 Q33.6 53.1 32.2 40.2M38.2 52.3 Q41.8 53.1 43.1 39.7M38.2 52.3 Q47.3 53.1 49.6 40.5M38.2 52.3 Q53.3 53.1 56.6 42.1M38.2 66.9 Q22.4 67.7 19.0 55.0M38.2 66.9 Q27.5 67.7 25.0 55.8M38.2 66.9 Q33.7 67.7 32.3 53.4M38.2 66.9 Q42.6 67.7 43.9 54.7M38.2 66.9 Q48.6 67.7 51.1 56.2M38.2 66.9 Q54.4 67.7 57.9 56.3M38.2 82.6 Q22.0 83.4 18.5 72.4M38.2 82.6 Q27.7 83.4 25.3 70.1M38.2 82.6 Q33.1 83.4 31.6 70.0M38.2 82.6 Q42.6 83.4 44.0 70.4M38.2 82.6 Q48.0 83.4 50.4 71.8M38.2 82.6 Q53.3 83.4 56.6 72.1M38.2 98.3 Q23.5 99.1 20.3 87.8M38.2 98.3 Q28.3 99.1 25.9 86.9M38.2 98.3 Q33.7 99.1 32.3 86.9M38.2 98.3 Q42.6 99.1 44.0 86.0M38.2 98.3 Q47.1 99.1 49.3 86.8M38.2 98.3 Q53.2 99.1 56.4 86.7M38.2 36.6 Q23.6 37.4 20.4 26.4M38.2 36.6 Q29.2 37.4 27.0 26.2M38.2 36.6 Q33.6 37.4 32.2 24.1M38.2 36.6 Q36.1 37.4 35.1 24.5M38.2 36.6 Q39.6 37.4 40.4 24.0M38.2 36.6 Q43.8 37.4 45.4 24.7M38.2 36.6 Q48.8 37.4 51.3 25.9M38.2 36.6 Q53.4 37.4 56.7 25.7M38.2 28.5 Q24.9 29.2 22.0 18.9M38.2 28.5 Q30.0 29.2 27.9 17.2M38.2 28.5 Q34.2 29.2 32.9 17.5M38.2 28.5 Q36.2 29.2 35.2 17.2M38.2 28.5 Q40.2 29.2 41.2 16.5M38.2 28.5 Q43.3 29.2 44.8 18.5M38.2 28.5 Q47.1 29.2 49.2 17.9M38.2 28.5 Q50.9 29.2 53.8 18.8M38.2 21.5 Q26.7 22.1 24.1 14.3M38.2 21.5 Q30.5 22.1 28.5 12.4M38.2 21.5 Q34.4 22.1 33.2 13.3M38.2 21.5 Q36.9 22.1 36.0 11.6M38.2 21.5 Q39.1 22.1 39.9 12.6M38.2 21.5 Q42.1 22.1 43.4 11.8M38.2 21.5 Q46.1 22.1 48.1 12.2M38.2 21.5 Q48.9 22.1 51.4 13.5M38.2 15.5 Q30.1 15.9 28.1 8.6M38.2 15.5 Q33.7 15.9 32.3 10.1M38.2 15.5 Q35.4 15.9 34.3 9.8M38.2 15.5 Q37.0 15.9 36.2 9.1M38.2 15.5 Q39.4 15.9 40.2 9.6M38.2 15.5 Q40.3 15.9 41.3 9.3M38.2 15.5 Q43.3 15.9 44.8 9.1M38.2 15.5 Q46.7 15.9 48.8 9.0M38.2 11.0 Q33.5 11.2 32.1 7.0M38.2 11.0 Q35.4 11.2 34.3 8.3M38.2 11.0 Q37.3 11.2 36.6 6.5M38.2 11.0 Q38.2 11.2 37.6 6.4M38.2 11.0 Q38.7 11.2 39.4 7.4M38.2 11.0 Q39.3 11.2 40.1 6.8M38.2 11.0 Q40.8 11.2 41.8 8.2M38.2 11.0 Q42.5 11.2 43.9 8.1" fill="none" stroke="#bdbdb6" stroke-width="0.9" stroke-linecap="round"/><path d="M34.0 19.5 l-3.1 -2.5M42.7 14.2 l-1.1 -4.0M36.4 25.5 l-3.4 -4.0M44.1 20.0 l-5.6 -6.0M33.4 22.3 l-0.1 -4.4M34.1 19.5 l-3.7 -7.3M34.0 12.5 l5.2 -4.1M43.9 23.9 l-5.4 -3.9M36.6 31.0 l2.0 -4.9M41.5 15.7 l3.4 -5.7M44.0 19.3 l-4.2 -6.9M41.1 30.8 l4.6 -6.6M32.5 17.0 l0.2 -5.8M40.5 12.6 l-2.3 -4.8M44.1 33.0 l-0.9 -8.6M34.9 33.0 l-1.4 -4.9M43.0 16.3 l-4.0 -5.9M41.8 30.5 l-0.3 -7.3M41.6 13.9 l2.7 -8.1M41.7 28.5 l-0.2 -4.9M37.0 19.3 l5.0 -7.3M34.2 20.8 l5.9 -4.8M41.9 14.8 l-5.5 -6.5M40.1 15.2 l5.4 -7.1M32.4 19.7 l0.5 -4.6M43.4 33.4 l2.0 -6.3M34.7 21.5 l5.5 -6.0M39.2 17.5 l-2.1 -4.8M43.1 17.7 l-0.8 -4.6M43.1 19.8 l-0.6 -6.9M38.6 21.3 l4.8 -4.4M34.4 23.5 l-5.1 -3.5M37.9 12.1 l2.7 -4.0M38.4 28.0 l0.6 -5.6" fill="none" stroke="#c2c2bb" stroke-width="0.7" stroke-linecap="round"/><path d="M38.2 116 L38.2 9" stroke="#b6b6ae" stroke-width="1.3" fill="none"/><g fill="#b4b4ac"><circle cx="38.2" cy="52.3" r="1.25"/><circle cx="38.2" cy="66.9" r="1.25"/><circle cx="38.2" cy="82.6" r="1.25"/><circle cx="38.2" cy="98.3" r="1.25"/><circle cx="38.2" cy="36.6" r="1.25"/></g></svg>
<div class="t cn" style="left:920.71px;top:67.19px"><span id="cn4" style="letter-spacing:-0.100px">Fern</span></div>
<div class="t sn" style="left:920.71px;top:123.07px"><span id="sn4_0" style="letter-spacing:0.318px">(<i>C. braunii</i>)</span></div>
<svg class="im" style="left:1030.71px" width="80" height="120" viewBox="0 0 80 120" ><defs><filter id="ff" x="-5%" y="-5%" width="110%" height="110%"><feGaussianBlur stdDeviation="0.30"/></filter></defs><g filter="url(#ff)"><path d="M28.3 100.8L27.9 101.1L26.8 99.9L26.9 101.1L26.1 100.6L26.2 101.7L25.5 101.3L25.5 102.3L24.9 102.0L24.7 102.9L24.1 102.7L23.9 103.4L23.4 103.4L23.0 104.0L22.6 104.3L22.6 104.3L23.1 104.5L23.7 104.8L24.2 104.6L24.8 105.0L25.2 104.6L26.0 105.1L26.3 104.5L27.1 105.2L27.3 104.3L28.3 105.1L28.4 104.1L29.4 104.9L29.1 103.3L29.5 103.1ZM30.1 102.5L30.3 102.0L31.9 102.2L31.1 101.3L32.1 101.1L31.2 100.2L32.1 99.9L31.3 99.2L32.0 98.8L31.4 98.1L31.8 97.7L31.3 97.0L31.5 96.6L31.1 96.0L31.0 95.5L31.0 95.5L30.7 95.9L30.1 96.3L30.1 96.8L29.4 97.1L29.6 97.6L28.8 97.9L29.1 98.4L28.1 98.6L28.6 99.2L27.4 99.2L28.0 100.0L26.8 99.9L28.0 101.0L27.8 101.4ZM23.8 97.2L23.2 97.6L21.8 96.7L22.0 98.0L21.0 97.7L21.1 98.9L20.2 98.7L20.2 99.8L19.4 99.6L19.2 100.6L18.5 100.6L18.2 101.4L17.5 101.5L17.1 102.2L16.6 102.7L16.6 102.7L17.3 102.7L18.1 102.8L18.6 102.5L19.5 102.8L20.0 102.2L20.9 102.6L21.3 101.8L22.4 102.3L22.6 101.3L23.8 101.9L23.9 100.8L25.1 101.3L24.7 99.7L25.3 99.3ZM25.8 98.6L25.9 98.0L27.6 97.8L26.7 96.8L27.6 96.3L26.7 95.4L27.5 94.9L26.7 94.0L27.3 93.4L26.6 92.6L27.0 92.0L26.4 91.3L26.6 90.6L26.2 90.0L25.9 89.3L25.9 89.3L25.7 89.9L25.2 90.6L25.3 91.2L24.6 91.8L24.9 92.5L24.0 93.0L24.4 93.7L23.4 94.1L23.9 94.8L22.8 95.2L23.4 96.0L22.2 96.3L23.5 97.3L23.3 97.9ZM18.8 94.1L18.3 94.6L16.8 93.8L17.0 95.1L16.0 94.9L16.2 96.1L15.2 95.9L15.2 97.1L14.4 97.0L14.2 98.0L13.5 98.1L13.2 98.9L12.6 99.1L12.1 99.8L11.6 100.3L11.6 100.4L12.4 100.3L13.2 100.4L13.8 100.0L14.7 100.2L15.1 99.5L16.2 99.8L16.5 99.0L17.6 99.4L17.8 98.4L19.1 98.9L19.1 97.8L20.4 98.2L20.0 96.5L20.5 96.1ZM21.0 95.4L21.1 94.7L22.7 94.3L21.8 93.4L22.7 92.8L21.7 91.9L22.5 91.3L21.6 90.5L22.2 89.8L21.5 89.0L21.8 88.3L21.2 87.6L21.3 86.9L20.8 86.2L20.5 85.5L20.5 85.5L20.3 86.2L19.9 86.9L20.0 87.6L19.4 88.3L19.7 89.0L18.9 89.6L19.3 90.3L18.3 90.8L18.9 91.5L17.7 92.0L18.4 92.8L17.2 93.2L18.6 94.2L18.4 94.8ZM13.6 91.6L13.3 92.0L11.8 91.4L12.3 92.5L11.3 92.3L11.8 93.4L10.9 93.2L11.2 94.2L10.5 94.2L10.6 95.1L10.0 95.1L10.0 95.9L9.5 96.2L9.3 96.8L9.0 97.3L9.0 97.3L9.6 97.2L10.3 97.3L10.7 96.9L11.5 97.1L11.7 96.5L12.6 96.7L12.7 96.0L13.8 96.3L13.8 95.4L14.9 95.8L14.7 94.8L15.9 95.2L15.2 93.7L15.5 93.3ZM15.9 92.6L15.9 92.0L17.4 91.6L16.3 90.9L17.2 90.4L16.1 89.8L16.8 89.2L15.8 88.7L16.3 88.1L15.5 87.6L15.7 87.0L15.0 86.6L15.0 86.0L14.5 85.6L14.2 85.1L14.1 85.1L14.0 85.7L13.7 86.3L13.8 86.8L13.3 87.4L13.7 87.8L13.0 88.4L13.5 88.8L12.6 89.4L13.2 89.8L12.2 90.3L13.0 90.8L11.8 91.3L13.3 91.9L13.3 92.4ZM8.1 89.6L8.0 89.9L6.5 89.2L7.2 90.2L6.4 89.9L7.0 90.8L6.3 90.6L6.8 91.4L6.2 91.3L6.5 92.1L6.0 92.1L6.2 92.7L5.8 92.9L5.8 93.4L5.7 93.8L5.7 93.9L6.1 93.8L6.7 94.0L6.9 93.7L7.6 93.9L7.7 93.4L8.5 93.7L8.4 93.1L9.3 93.5L9.1 92.7L10.2 93.1L9.8 92.3L10.9 92.7L10.0 91.5L10.2 91.2ZM10.5 90.4L10.4 90.1L12.0 89.7L10.8 89.3L11.7 88.9L10.6 88.6L11.2 88.1L10.2 87.8L10.7 87.4L9.8 87.1L10.1 86.7L9.4 86.5L9.4 86.1L8.9 85.9L8.6 85.6L8.6 85.6L8.4 86.0L8.1 86.4L8.2 86.7L7.7 87.2L8.1 87.4L7.4 87.9L7.9 88.1L7.0 88.5L7.7 88.8L6.6 89.1L7.5 89.4L6.4 89.7L7.9 90.1L7.9 90.4ZM2.6 87.8L2.6 88.0L1.3 87.2L2.1 88.0L1.4 87.5L2.1 88.3L1.5 87.9L2.1 88.7L1.7 88.4L2.2 89.0L1.8 88.9L2.1 89.4L2.0 89.5L2.1 89.9L2.2 90.2L2.2 90.2L2.4 90.3L2.9 90.5L2.9 90.3L3.5 90.7L3.4 90.3L4.1 90.8L3.8 90.3L4.7 90.8L4.3 90.2L5.2 90.7L4.7 90.0L5.7 90.6L4.6 89.5L4.7 89.4ZM5.0 88.6L5.0 88.4L6.5 88.2L5.3 88.1L6.2 87.8L5.1 87.7L5.7 87.4L4.8 87.4L5.2 87.1L4.4 87.0L4.7 86.8L4.1 86.8L4.1 86.6L3.6 86.5L3.4 86.5L3.4 86.5L3.2 86.7L2.8 86.9L2.9 87.1L2.3 87.3L2.7 87.4L1.9 87.7L2.5 87.7L1.5 87.9L2.2 88.0L1.2 88.2L2.0 88.2L0.9 88.4L2.4 88.5L2.4 88.6Z" fill="#cacbc3" stroke="#adaea6" stroke-width="0.25"/><path d="M37.5 117.3L37.0 116.2L36.4 114.8L35.8 113.1L35.0 111.2L34.1 109.2L33.1 107.3L32.0 105.5L30.8 103.9L29.4 102.4L27.9 101.0L26.3 99.6L24.6 98.3L22.9 97.1L21.0 95.9L19.2 94.8L17.3 93.8L15.3 92.8L13.0 91.8L10.7 90.9L8.3 90.1L6.0 89.4L4.0 88.7L2.2 88.2L0.9 87.7" fill="none" stroke="#9fa098" stroke-width="0.6"/><path d="M50.3 98.3L50.0 97.9L51.1 96.6L49.8 96.9L50.4 96.0L49.1 96.2L49.5 95.4L48.4 95.5L48.7 94.8L47.7 94.8L47.8 94.2L47.0 94.0L46.9 93.5L46.3 93.2L45.8 92.8L45.8 92.8L45.7 93.4L45.5 94.0L45.7 94.5L45.3 95.2L45.8 95.6L45.3 96.4L46.0 96.7L45.3 97.7L46.3 97.8L45.5 98.9L46.6 98.9L45.8 100.0L47.6 99.5L47.8 100.0ZM48.6 100.5L49.1 100.7L49.1 102.5L50.0 101.4L50.2 102.5L51.1 101.5L51.5 102.3L52.2 101.4L52.7 102.1L53.4 101.3L53.8 101.7L54.4 101.1L55.0 101.3L55.5 100.8L56.0 100.6L56.1 100.6L55.6 100.2L55.1 99.7L54.6 99.8L54.2 99.0L53.6 99.3L53.3 98.4L52.8 98.8L52.5 97.7L51.9 98.3L51.8 97.1L51.1 97.8L51.0 96.5L50.0 98.0L49.5 97.8ZM54.9 93.9L54.7 93.3L56.0 92.0L54.6 91.9L55.2 91.0L53.9 90.8L54.4 90.0L53.2 89.7L53.6 88.9L52.6 88.5L52.8 87.8L52.0 87.2L52.0 86.5L51.4 86.0L51.0 85.3L51.0 85.3L50.8 86.0L50.4 86.8L50.7 87.5L50.1 88.3L50.6 88.9L49.9 89.8L50.7 90.4L49.9 91.4L50.8 91.8L49.9 92.9L51.0 93.3L50.1 94.4L52.0 94.4L52.2 95.1ZM52.9 95.8L53.5 96.1L53.3 98.0L54.5 97.2L54.7 98.4L55.9 97.6L56.3 98.6L57.4 97.9L57.8 98.7L58.8 98.1L59.4 98.7L60.3 98.2L60.9 98.5L61.7 98.2L62.4 98.1L62.4 98.1L61.8 97.7L61.3 97.0L60.6 96.9L60.2 96.1L59.5 96.2L59.2 95.2L58.4 95.5L58.2 94.2L57.3 94.7L57.3 93.3L56.3 93.8L56.3 92.4L54.9 93.6L54.3 93.2ZM59.9 89.8L59.7 89.1L61.0 87.8L59.6 87.6L60.3 86.7L58.9 86.4L59.4 85.6L58.2 85.2L58.6 84.4L57.6 83.9L57.9 83.2L57.1 82.6L57.1 81.9L56.5 81.2L56.1 80.5L56.1 80.5L55.9 81.3L55.5 82.1L55.7 82.8L55.2 83.6L55.6 84.3L54.9 85.2L55.7 85.8L54.9 86.9L55.8 87.4L54.9 88.5L56.0 88.9L55.1 90.1L57.0 90.2L57.2 90.8ZM57.8 91.6L58.5 91.9L58.2 93.8L59.5 93.1L59.7 94.3L61.0 93.5L61.3 94.6L62.5 93.9L63.0 94.7L64.0 94.2L64.6 94.8L65.5 94.4L66.2 94.7L67.0 94.4L67.8 94.4L67.8 94.4L67.2 93.9L66.6 93.2L65.9 93.1L65.5 92.2L64.7 92.3L64.4 91.3L63.5 91.5L63.4 90.3L62.4 90.7L62.4 89.3L61.4 89.8L61.4 88.3L59.9 89.4L59.3 89.1ZM64.8 85.4L64.5 84.9L65.9 83.7L64.6 83.7L65.3 82.9L63.9 82.9L64.5 82.2L63.3 82.0L63.8 81.3L62.8 81.1L63.0 80.5L62.2 80.1L62.3 79.5L61.7 79.1L61.3 78.6L61.3 78.6L61.1 79.1L60.7 79.8L60.9 80.3L60.3 81.0L60.8 81.5L60.1 82.3L60.8 82.7L60.0 83.6L60.9 83.9L59.9 84.9L61.0 85.1L60.1 86.2L61.9 86.0L62.1 86.6ZM62.7 87.3L63.2 87.5L62.9 89.3L64.0 88.5L64.1 89.6L65.2 88.7L65.4 89.7L66.4 88.9L66.8 89.7L67.6 89.0L68.0 89.6L68.8 89.1L69.3 89.3L70.0 89.0L70.6 88.9L70.6 88.9L70.1 88.5L69.7 87.8L69.2 87.8L68.9 87.0L68.3 87.1L68.1 86.1L67.4 86.5L67.3 85.3L66.6 85.8L66.7 84.5L65.8 85.1L65.9 83.7L64.6 85.0L64.1 84.7ZM69.6 81.1L69.5 80.7L71.0 79.8L69.6 79.9L70.4 79.3L69.2 79.4L69.8 78.9L68.7 78.9L69.1 78.4L68.2 78.3L68.5 77.9L67.8 77.7L67.8 77.3L67.3 77.1L66.9 76.7L66.9 76.7L66.7 77.1L66.3 77.6L66.4 77.9L65.8 78.4L66.3 78.8L65.5 79.4L66.1 79.6L65.2 80.3L66.1 80.5L65.1 81.3L66.1 81.3L65.1 82.1L66.8 81.8L66.9 82.2ZM67.6 82.9L67.9 83.1L67.4 84.8L68.4 83.8L68.3 84.9L69.2 84.0L69.3 84.8L70.1 84.0L70.2 84.7L70.9 84.0L71.2 84.5L71.7 83.9L72.1 84.1L72.6 83.7L73.0 83.6L73.0 83.6L72.7 83.2L72.5 82.6L72.1 82.6L72.0 81.9L71.6 82.1L71.6 81.2L71.1 81.6L71.2 80.5L70.6 81.0L70.9 79.8L70.1 80.5L70.5 79.2L69.3 80.6L69.0 80.4ZM74.5 76.8L74.4 76.6L76.0 75.8L74.8 76.2L75.6 75.7L74.4 76.0L75.1 75.7L74.1 75.9L74.6 75.6L73.7 75.7L74.0 75.5L73.3 75.5L73.4 75.3L72.9 75.3L72.6 75.1L72.6 75.1L72.3 75.3L71.8 75.6L72.0 75.7L71.3 76.0L71.7 76.2L70.9 76.5L71.5 76.6L70.6 77.1L71.3 77.1L70.3 77.7L71.2 77.5L70.1 78.2L71.8 77.7L71.8 77.9ZM72.4 78.6L72.6 78.6L71.9 80.3L72.7 79.2L72.5 80.2L73.2 79.2L73.1 79.9L73.7 79.1L73.7 79.7L74.1 78.9L74.2 79.3L74.6 78.7L74.7 78.8L75.0 78.4L75.3 78.2L75.3 78.2L75.2 77.9L75.2 77.3L75.0 77.4L75.1 76.7L74.8 77.0L75.0 76.1L74.7 76.6L75.0 75.6L74.6 76.2L75.0 75.1L74.5 75.9L75.0 74.7L74.0 76.1L73.9 76.0Z" fill="#c8c9c1" stroke="#adaea6" stroke-width="0.25"/><path d="M40.9 117.3L41.4 116.0L42.0 114.2L42.8 112.0L43.6 109.7L44.6 107.2L45.7 104.8L46.8 102.5L48.0 100.5L49.4 98.7L50.8 97.1L52.4 95.6L54.1 94.1L55.8 92.6L57.5 91.2L59.3 89.7L61.0 88.2L62.9 86.5L64.9 84.7L67.0 82.8L69.1 80.9L71.1 79.1L72.9 77.5L74.5 76.2L75.6 75.2" fill="none" stroke="#9fa098" stroke-width="0.6"/><path d="M27.5 88.0L27.1 88.2L26.2 86.4L26.1 87.9L25.5 86.9L25.4 88.3L24.9 87.6L24.6 88.8L24.1 88.2L23.8 89.2L23.4 88.8L23.0 89.6L22.5 89.5L22.1 90.0L21.6 90.3L21.6 90.3L22.1 90.6L22.5 91.2L23.0 91.0L23.5 91.8L24.0 91.4L24.5 92.3L25.0 91.6L25.6 92.7L26.0 91.8L26.7 93.0L27.0 91.9L27.8 93.1L27.8 91.2L28.3 91.1ZM29.2 90.6L29.4 90.2L31.2 91.0L30.4 89.7L31.5 89.9L30.7 88.7L31.7 88.8L31.0 87.7L31.8 87.6L31.2 86.7L31.7 86.5L31.3 85.7L31.6 85.3L31.3 84.7L31.2 84.2L31.2 84.1L30.7 84.4L30.0 84.6L30.0 85.1L29.1 85.1L29.2 85.7L28.2 85.6L28.5 86.2L27.3 86.0L27.8 86.8L26.5 86.3L27.1 87.2L25.7 86.7L27.0 88.2L26.6 88.6ZM23.2 82.3L22.6 82.6L21.4 81.0L21.4 82.5L20.5 81.7L20.4 83.1L19.6 82.5L19.4 83.7L18.7 83.2L18.4 84.3L17.7 84.0L17.3 84.8L16.7 84.8L16.1 85.4L15.5 85.7L15.6 85.7L16.2 86.0L16.9 86.4L17.4 86.2L18.2 86.9L18.7 86.4L19.5 87.2L20.0 86.5L21.0 87.5L21.4 86.5L22.4 87.6L22.7 86.4L23.8 87.5L23.7 85.5L24.3 85.3ZM25.1 84.7L25.4 84.1L27.3 84.6L26.5 83.3L27.7 83.3L26.8 82.1L27.9 81.8L27.1 80.8L27.9 80.4L27.3 79.5L27.9 79.0L27.4 78.2L27.7 77.6L27.4 76.9L27.3 76.2L27.3 76.2L26.8 76.7L26.1 77.1L26.0 77.7L25.1 78.0L25.3 78.6L24.2 78.8L24.5 79.5L23.2 79.5L23.7 80.4L22.3 80.2L22.9 81.2L21.4 81.0L22.7 82.5L22.4 83.0ZM18.3 77.1L17.8 77.4L16.5 75.9L16.6 77.4L15.7 76.7L15.8 78.1L15.0 77.5L14.9 78.7L14.3 78.3L14.0 79.4L13.4 79.1L13.1 80.0L12.5 80.0L12.1 80.6L11.6 81.0L11.6 81.1L12.3 81.2L12.9 81.7L13.4 81.4L14.2 82.0L14.6 81.5L15.5 82.2L15.9 81.5L16.8 82.3L17.1 81.4L18.2 82.3L18.3 81.2L19.4 82.2L19.1 80.2L19.7 80.0ZM20.4 79.3L20.6 78.8L22.6 79.1L21.6 77.9L22.7 77.8L21.8 76.7L22.8 76.5L21.9 75.5L22.7 75.1L21.9 74.3L22.4 73.8L21.9 73.1L22.1 72.6L21.7 71.9L21.5 71.3L21.5 71.3L21.1 71.8L20.4 72.2L20.4 72.7L19.6 73.1L19.8 73.7L18.7 73.9L19.2 74.5L17.9 74.6L18.5 75.4L17.1 75.3L17.8 76.2L16.3 76.1L17.8 77.4L17.5 77.9ZM12.8 72.5L12.5 72.7L11.2 71.3L11.7 72.7L10.9 72.0L11.3 73.3L10.6 72.7L10.9 73.9L10.3 73.5L10.4 74.5L10.0 74.2L9.9 75.1L9.6 75.1L9.4 75.7L9.2 76.1L9.2 76.1L9.6 76.3L10.2 76.7L10.5 76.4L11.1 77.0L11.3 76.5L12.1 77.2L12.2 76.4L13.1 77.2L13.1 76.3L14.1 77.2L13.9 76.1L15.0 77.1L14.3 75.3L14.6 75.1ZM15.2 74.3L15.3 73.9L17.3 74.1L16.0 73.3L17.1 73.2L16.0 72.4L16.9 72.2L15.8 71.6L16.5 71.3L15.6 70.7L16.0 70.4L15.3 69.9L15.5 69.5L15.0 69.1L14.7 68.7L14.7 68.7L14.4 69.1L13.8 69.4L13.9 69.8L13.1 70.0L13.4 70.4L12.4 70.6L13.0 71.0L11.8 71.1L12.5 71.6L11.2 71.6L12.1 72.1L10.6 72.1L12.3 73.0L12.2 73.3ZM6.6 68.9L6.5 69.1L5.1 67.8L5.9 68.9L5.1 68.2L5.9 69.3L5.3 68.7L5.9 69.7L5.5 69.3L5.9 70.1L5.6 69.9L5.9 70.6L5.7 70.6L5.8 71.1L5.8 71.5L5.8 71.5L6.1 71.6L6.6 72.0L6.6 71.8L7.2 72.4L7.2 72.0L7.9 72.6L7.7 72.0L8.5 72.8L8.2 72.0L9.2 72.9L8.7 72.0L9.8 72.8L8.6 71.3L8.8 71.2ZM9.2 70.3L9.2 70.2L11.1 70.2L9.8 69.8L10.8 69.7L9.5 69.4L10.4 69.2L9.2 69.0L9.8 68.8L8.9 68.6L9.3 68.4L8.5 68.2L8.6 68.1L8.0 67.9L7.7 67.8L7.7 67.8L7.4 68.0L6.9 68.2L7.0 68.4L6.3 68.5L6.7 68.7L5.7 68.8L6.3 68.9L5.2 69.0L6.0 69.2L4.7 69.1L5.7 69.4L4.3 69.3L6.1 69.7L6.1 69.9Z" fill="#cccdc5" stroke="#adaea6" stroke-width="0.25"/><path d="M36.8 117.3L36.3 115.4L35.7 112.7L34.9 109.5L34.1 106.0L33.1 102.4L32.0 98.8L30.9 95.5L29.6 92.6L28.2 90.1L26.7 87.7L25.0 85.4L23.2 83.2L21.4 81.1L19.6 79.2L17.8 77.4L16.2 75.8L14.6 74.4L12.9 73.1L11.2 72.0L9.5 71.1L8.0 70.2L6.6 69.5L5.4 68.9L4.5 68.4" fill="none" stroke="#9fa098" stroke-width="0.6"/><path d="M54.2 91.9L54.0 91.6L55.1 90.4L54.0 90.8L54.5 90.1L53.4 90.5L53.8 89.9L52.9 90.1L53.2 89.6L52.3 89.7L52.5 89.2L51.7 89.2L51.7 88.8L51.1 88.7L50.8 88.5L50.7 88.5L50.7 88.9L50.4 89.4L50.6 89.7L50.2 90.3L50.6 90.5L50.1 91.2L50.7 91.3L50.1 92.1L50.9 92.1L50.2 93.0L51.1 92.9L50.3 93.9L51.9 93.2L52.1 93.5ZM52.8 94.0L53.1 94.1L53.1 95.7L53.7 94.7L53.9 95.6L54.5 94.6L54.8 95.4L55.3 94.5L55.6 95.0L56.1 94.3L56.5 94.6L56.9 94.0L57.2 94.1L57.6 93.7L57.9 93.4L57.9 93.4L57.6 93.1L57.3 92.7L56.9 92.8L56.6 92.1L56.3 92.4L56.1 91.6L55.7 92.0L55.6 91.0L55.1 91.7L55.1 90.5L54.6 91.3L54.6 90.0L53.8 91.5L53.5 91.4ZM58.7 88.0L58.6 87.6L60.0 86.7L58.7 86.6L59.4 86.0L58.2 85.9L58.8 85.3L57.8 85.1L58.2 84.6L57.3 84.3L57.6 83.9L56.9 83.5L57.0 83.0L56.5 82.6L56.2 82.2L56.2 82.2L56.0 82.6L55.5 83.1L55.7 83.6L55.1 84.2L55.5 84.6L54.8 85.2L55.4 85.6L54.5 86.3L55.3 86.6L54.4 87.4L55.3 87.7L54.3 88.5L56.0 88.4L56.1 88.9ZM56.7 89.6L57.1 89.8L56.6 91.4L57.6 90.7L57.6 91.7L58.6 91.0L58.7 91.9L59.6 91.3L59.9 91.9L60.6 91.4L61.0 91.9L61.6 91.5L62.0 91.7L62.6 91.5L63.2 91.4L63.2 91.4L62.8 91.0L62.6 90.4L62.1 90.3L61.9 89.6L61.4 89.7L61.3 88.8L60.7 89.1L60.8 88.0L60.1 88.4L60.4 87.2L59.5 87.8L59.8 86.5L58.6 87.6L58.2 87.3ZM64.0 85.3L63.9 84.9L65.5 84.3L64.3 84.0L65.1 83.5L64.0 83.2L64.7 82.8L63.7 82.4L64.2 82.0L63.4 81.6L63.8 81.2L63.2 80.7L63.4 80.3L63.0 79.8L62.8 79.3L62.8 79.3L62.5 79.7L61.9 80.1L62.0 80.6L61.3 80.9L61.6 81.4L60.7 81.9L61.2 82.3L60.3 82.8L61.0 83.3L59.9 83.8L60.8 84.2L59.6 84.8L61.3 85.1L61.3 85.6ZM61.7 86.4L62.0 86.7L61.1 88.1L62.3 87.6L62.1 88.6L63.2 88.1L63.1 88.9L64.1 88.5L64.1 89.2L65.0 88.8L65.2 89.4L65.9 89.1L66.2 89.4L66.9 89.3L67.4 89.3L67.4 89.3L67.1 88.8L67.0 88.2L66.6 88.1L66.6 87.3L66.1 87.3L66.3 86.4L65.6 86.6L66.0 85.6L65.2 85.9L65.7 84.8L64.8 85.1L65.4 84.0L63.9 84.8L63.6 84.5ZM69.6 83.2L69.6 82.9L71.2 82.7L70.0 82.4L70.9 82.2L69.8 81.8L70.6 81.7L69.6 81.3L70.2 81.1L69.5 80.7L69.9 80.5L69.3 80.1L69.5 79.8L69.2 79.4L69.0 79.1L69.0 79.0L68.7 79.3L68.1 79.4L68.1 79.7L67.4 79.8L67.7 80.2L66.8 80.4L67.2 80.8L66.2 81.0L66.9 81.4L65.7 81.6L66.5 82.0L65.3 82.3L66.9 82.7L66.9 83.0ZM67.1 83.8L67.3 84.1L66.1 85.2L67.3 84.8L66.8 85.6L67.9 85.2L67.5 85.9L68.5 85.5L68.3 86.1L69.2 85.8L69.1 86.3L69.8 86.0L70.0 86.3L70.5 86.2L70.9 86.2L70.9 86.2L70.9 85.8L71.0 85.3L70.7 85.1L70.9 84.5L70.5 84.5L70.9 83.8L70.4 83.9L70.9 83.1L70.2 83.4L71.0 82.5L70.1 82.8L71.0 81.9L69.5 82.6L69.3 82.3ZM75.5 82.5L75.5 82.3L77.1 82.7L76.0 82.2L76.8 82.4L75.8 81.9L76.5 82.1L75.6 81.7L76.1 81.8L75.4 81.3L75.8 81.4L75.3 81.0L75.4 80.9L75.1 80.6L74.9 80.3L74.9 80.3L74.6 80.3L74.1 80.2L74.2 80.4L73.5 80.2L73.7 80.5L72.9 80.3L73.3 80.7L72.4 80.5L73.0 80.9L71.8 80.8L72.6 81.2L71.4 81.0L72.9 81.6L72.9 81.7ZM72.9 82.6L73.0 82.7L71.6 83.5L72.7 83.2L72.0 83.7L73.1 83.4L72.6 83.9L73.5 83.6L73.1 84.0L73.9 83.7L73.7 84.0L74.4 83.8L74.4 84.0L74.8 83.8L75.1 83.8L75.1 83.8L75.2 83.5L75.5 83.1L75.4 83.1L75.8 82.6L75.5 82.7L76.1 82.2L75.6 82.4L76.4 81.8L75.8 82.1L76.8 81.5L75.9 81.8L77.0 81.2L75.4 81.7L75.4 81.6Z" fill="#cecfc7" stroke="#adaea6" stroke-width="0.25"/><path d="M40.4 117.3L41.4 115.3L42.7 112.5L44.2 109.2L46.0 105.5L47.8 101.8L49.6 98.3L51.5 95.1L53.2 92.6L54.9 90.7L56.6 89.1L58.3 87.8L60.1 86.7L61.8 85.8L63.5 85.0L65.1 84.3L66.6 83.7L68.2 83.1L69.7 82.7L71.3 82.4L72.7 82.2L74.1 82.1L75.3 82.0L76.4 82.0L77.2 81.9" fill="none" stroke="#9fa098" stroke-width="0.6"/><path d="M31.7 80.2L31.0 80.2L30.4 78.3L29.6 79.7L29.0 78.6L28.2 79.9L27.6 79.0L26.8 80.0L26.2 79.3L25.3 80.1L24.7 79.6L23.9 80.2L23.2 79.9L22.3 80.2L21.5 80.3L21.5 80.3L22.2 80.8L22.7 81.5L23.5 81.6L24.1 82.5L24.9 82.3L25.5 83.4L26.3 82.9L27.0 84.2L27.9 83.4L28.5 84.8L29.4 83.8L30.1 85.3L30.9 83.4L31.7 83.4ZM32.7 83.1L33.3 82.7L35.0 83.7L34.8 82.1L36.0 82.5L35.8 80.9L36.9 81.0L36.7 79.6L37.7 79.5L37.6 78.3L38.4 78.0L38.3 76.9L38.9 76.4L38.9 75.5L39.2 74.7L39.2 74.7L38.5 75.1L37.6 75.3L37.2 75.9L36.1 76.0L35.9 76.8L34.8 76.6L34.7 77.5L33.4 77.1L33.5 78.2L32.1 77.6L32.2 78.8L30.8 78.1L31.4 80.1L30.7 80.5ZM29.3 73.4L28.3 73.5L27.3 71.6L26.4 73.0L25.4 72.0L24.5 73.3L23.6 72.4L22.6 73.5L21.8 72.8L20.7 73.6L19.8 73.1L18.8 73.6L17.8 73.3L16.8 73.7L15.7 73.8L15.7 73.8L16.6 74.3L17.5 75.0L18.5 75.1L19.3 76.0L20.4 75.8L21.3 76.9L22.3 76.4L23.3 77.6L24.4 76.8L25.4 78.2L26.4 77.2L27.4 78.6L28.4 76.6L29.4 76.6ZM30.3 76.3L31.1 75.6L33.1 76.4L32.9 74.7L34.4 74.8L34.2 73.1L35.6 73.0L35.4 71.4L36.6 71.1L36.5 69.7L37.5 69.2L37.5 67.9L38.2 67.2L38.3 66.1L38.7 65.1L38.6 65.1L37.8 65.7L36.8 66.2L36.3 67.0L35.1 67.3L34.8 68.3L33.5 68.3L33.3 69.4L31.8 69.3L31.8 70.5L30.2 70.2L30.2 71.5L28.5 71.1L29.0 73.2L28.3 73.8ZM26.3 66.8L25.3 66.9L24.0 65.1L23.1 66.6L22.0 65.6L21.1 67.0L20.0 66.2L19.0 67.3L18.0 66.7L16.9 67.5L15.9 67.1L14.8 67.7L13.7 67.4L12.6 67.8L11.5 68.0L11.5 68.0L12.5 68.4L13.5 69.1L14.6 69.2L15.6 70.1L16.7 69.8L17.8 70.8L18.9 70.2L20.0 71.4L21.2 70.6L22.3 71.9L23.4 70.8L24.6 72.1L25.6 70.1L26.6 70.0ZM27.6 69.6L28.4 68.8L30.5 69.4L30.3 67.6L31.8 67.6L31.6 65.8L33.0 65.5L32.9 63.9L34.0 63.4L33.9 62.0L34.9 61.3L34.9 60.0L35.6 59.1L35.7 57.9L36.1 56.8L36.0 56.8L35.2 57.6L34.2 58.2L33.7 59.1L32.4 59.6L32.1 60.6L30.8 60.9L30.6 62.1L29.1 62.1L29.0 63.4L27.3 63.2L27.3 64.7L25.6 64.4L26.2 66.5L25.4 67.2ZM22.6 60.5L21.7 60.8L20.3 59.1L19.6 60.7L18.5 59.9L17.8 61.4L16.8 60.7L16.0 62.0L15.0 61.5L14.2 62.5L13.2 62.2L12.2 63.0L11.3 62.8L10.3 63.4L9.3 63.7L9.3 63.7L10.3 64.0L11.3 64.6L12.3 64.4L13.3 65.2L14.3 64.7L15.4 65.6L16.4 64.9L17.6 65.9L18.5 64.9L19.7 66.1L20.5 64.8L21.9 66.0L22.4 63.9L23.4 63.7ZM24.3 63.1L24.9 62.3L27.0 62.7L26.5 61.0L28.0 60.8L27.5 59.1L28.7 58.7L28.3 57.2L29.4 56.6L29.0 55.3L29.8 54.6L29.6 53.3L30.1 52.5L30.0 51.3L30.2 50.3L30.1 50.3L29.5 51.1L28.6 51.7L28.2 52.7L27.1 53.2L27.0 54.2L25.7 54.6L25.8 55.7L24.3 55.9L24.5 57.1L22.9 57.1L23.1 58.5L21.4 58.4L22.4 60.3L21.7 61.1ZM18.1 54.8L17.3 55.1L15.9 53.6L15.7 55.2L14.6 54.5L14.4 56.0L13.4 55.4L13.0 56.8L12.1 56.3L11.6 57.4L10.8 57.2L10.1 58.1L9.3 58.1L8.6 58.7L7.8 59.1L7.8 59.2L8.7 59.4L9.6 59.8L10.3 59.5L11.3 60.2L12.0 59.6L13.1 60.4L13.7 59.6L14.9 60.5L15.5 59.4L16.7 60.4L17.2 59.2L18.4 60.2L18.5 58.1L19.3 57.8ZM20.1 57.1L20.5 56.4L22.5 56.7L21.7 55.2L23.0 55.0L22.2 53.6L23.4 53.2L22.7 51.9L23.6 51.4L23.0 50.2L23.6 49.6L23.1 48.6L23.5 47.8L23.2 46.9L23.1 46.0L23.1 46.0L22.6 46.7L21.8 47.3L21.7 48.1L20.8 48.6L20.9 49.5L19.7 49.8L20.0 50.8L18.6 51.0L19.0 52.0L17.5 52.0L18.1 53.2L16.4 53.2L17.7 54.8L17.3 55.5ZM13.1 49.6L12.6 49.8L11.2 48.4L11.3 49.9L10.4 49.1L10.4 50.6L9.6 50.0L9.4 51.3L8.7 50.9L8.5 52.0L7.8 51.7L7.4 52.6L6.8 52.6L6.3 53.3L5.8 53.7L5.8 53.7L6.5 53.9L7.2 54.3L7.8 54.0L8.5 54.6L9.1 54.1L9.9 54.9L10.4 54.1L11.4 54.9L11.7 53.9L12.8 54.9L13.0 53.7L14.2 54.7L13.9 52.7L14.5 52.5ZM15.2 51.7L15.5 51.2L17.5 51.5L16.5 50.3L17.7 50.1L16.7 49.0L17.7 48.7L16.9 47.7L17.7 47.2L16.9 46.3L17.5 45.8L16.9 45.0L17.2 44.5L16.8 43.7L16.6 43.1L16.6 43.1L16.2 43.6L15.5 44.1L15.5 44.7L14.6 45.1L14.8 45.7L13.7 46.0L14.1 46.7L12.8 46.8L13.4 47.6L12.0 47.6L12.7 48.5L11.2 48.4L12.6 49.8L12.3 50.3ZM7.5 44.9L7.2 45.1L5.9 43.7L6.3 45.1L5.5 44.4L5.9 45.7L5.2 45.1L5.4 46.3L4.8 45.9L4.9 46.9L4.4 46.7L4.4 47.6L4.0 47.6L3.8 48.2L3.5 48.6L3.5 48.7L4.0 48.8L4.6 49.2L4.9 48.9L5.6 49.5L5.8 49.0L6.6 49.7L6.7 48.9L7.6 49.8L7.6 48.8L8.7 49.8L8.5 48.6L9.7 49.6L9.0 47.8L9.3 47.6ZM9.9 46.7L10.0 46.4L12.0 46.6L10.8 45.7L11.9 45.6L10.7 44.8L11.6 44.6L10.6 43.9L11.3 43.6L10.4 43.0L10.9 42.6L10.1 42.1L10.3 41.8L9.8 41.3L9.5 40.9L9.5 40.9L9.2 41.3L8.6 41.6L8.7 42.0L7.9 42.3L8.2 42.7L7.2 42.9L7.7 43.3L6.5 43.4L7.3 43.9L5.9 43.9L6.8 44.5L5.3 44.4L7.0 45.3L6.9 45.7ZM1.6 40.7L1.5 40.8L0.2 39.4L0.9 40.6L0.2 39.8L0.9 41.0L0.4 40.4L0.8 41.4L0.4 40.9L0.8 41.8L0.5 41.6L0.7 42.3L0.5 42.3L0.5 42.8L0.5 43.2L0.5 43.2L0.8 43.4L1.1 43.9L1.3 43.7L1.8 44.3L1.8 43.8L2.4 44.6L2.3 44.0L3.1 44.8L2.8 44.0L3.8 45.0L3.4 44.0L4.3 45.1L3.4 43.4L3.5 43.3ZM4.1 42.5L4.1 42.3L6.0 42.6L4.7 42.0L5.8 42.1L4.5 41.5L5.4 41.5L4.3 41.1L4.9 40.9L4.0 40.6L4.4 40.5L3.6 40.2L3.8 40.0L3.2 39.8L2.9 39.7L2.9 39.7L2.6 39.8L2.0 40.0L2.1 40.1L1.4 40.2L1.7 40.4L0.8 40.4L1.4 40.6L0.2 40.6L1.0 40.8L-0.3 40.7L0.6 41.0L-0.8 40.8L1.1 41.4L1.0 41.6Z" fill="#c3c4bc" stroke="#adaea6" stroke-width="0.25"/><path d="M37.5 117.3L37.3 115.2L37.0 112.4L36.7 109.1L36.4 105.4L35.9 101.5L35.4 97.6L34.8 93.8L34.1 90.4L33.3 87.2L32.4 83.9L31.3 80.6L30.2 77.4L29.0 74.2L27.8 71.2L26.5 68.4L25.2 65.7L23.8 63.3L22.3 61.1L20.8 59.0L19.3 57.0L17.7 55.1L16.0 53.4L14.4 51.7L12.8 50.0L11.1 48.4L9.3 46.9L7.3 45.4L5.4 44.0L3.6 42.8L2.0 41.6L0.6 40.7L-0.4 40.0" fill="none" stroke="#9fa098" stroke-width="0.6"/><path d="M50.2 79.6L49.7 79.2L50.6 77.3L49.2 78.0L49.5 76.8L48.1 77.4L48.3 76.3L47.0 76.7L47.2 75.8L46.0 76.0L46.0 75.3L44.9 75.2L44.7 74.7L43.9 74.5L43.2 74.1L43.2 74.1L43.3 74.8L43.2 75.7L43.7 76.1L43.4 77.1L44.1 77.4L43.8 78.6L44.7 78.7L44.3 80.0L45.4 80.0L44.9 81.4L46.1 81.1L45.6 82.7L47.5 81.7L47.9 82.1ZM48.9 82.6L49.6 82.6L50.1 84.6L50.9 83.2L51.5 84.3L52.2 82.9L52.9 83.8L53.6 82.5L54.3 83.1L54.9 82.1L55.6 82.4L56.2 81.5L56.8 81.5L57.4 80.9L58.0 80.4L58.0 80.4L57.3 80.2L56.6 79.8L55.9 80.0L55.2 79.3L54.7 79.7L54.0 78.8L53.5 79.5L52.8 78.3L52.3 79.2L51.7 77.7L51.1 78.8L50.6 77.3L49.8 79.2L49.2 79.2ZM53.4 72.8L52.7 72.2L53.6 70.2L51.9 70.7L52.2 69.3L50.6 69.7L50.7 68.6L49.3 68.7L49.3 67.7L48.0 67.7L47.9 66.8L46.8 66.5L46.4 65.7L45.5 65.3L44.8 64.8L44.8 64.8L45.0 65.7L44.9 66.7L45.5 67.4L45.3 68.5L46.1 69.0L45.9 70.3L46.9 70.6L46.6 72.1L47.8 72.2L47.4 73.8L48.8 73.7L48.4 75.4L50.4 74.6L51.0 75.2ZM52.0 75.7L52.9 75.7L53.5 77.8L54.5 76.4L55.4 77.6L56.3 76.2L57.2 77.1L58.1 75.9L59.0 76.5L59.9 75.5L60.8 75.8L61.5 74.9L62.4 74.9L63.2 74.3L64.0 73.8L64.0 73.8L63.1 73.6L62.2 73.1L61.4 73.4L60.5 72.7L59.7 73.1L58.8 72.2L58.1 72.8L57.3 71.6L56.5 72.5L55.8 71.0L54.9 72.1L54.2 70.5L53.2 72.4L52.4 72.3ZM56.6 66.0L55.9 65.3L56.7 63.3L55.0 63.7L55.2 62.3L53.6 62.6L53.7 61.4L52.2 61.5L52.1 60.4L50.8 60.2L50.6 59.3L49.5 59.0L49.1 58.1L48.1 57.6L47.3 57.0L47.3 57.0L47.5 58.0L47.5 59.1L48.2 59.8L48.0 61.0L48.9 61.6L48.7 63.0L49.8 63.4L49.5 64.9L50.8 65.1L50.4 66.8L51.9 66.7L51.5 68.5L53.6 67.7L54.2 68.4ZM55.2 68.9L56.2 68.9L56.9 71.0L58.0 69.7L58.9 70.8L60.0 69.5L60.9 70.4L61.9 69.2L62.9 69.8L63.9 68.7L64.8 69.1L65.7 68.2L66.7 68.2L67.5 67.5L68.4 67.1L68.4 67.0L67.4 66.8L66.5 66.4L65.6 66.6L64.6 65.9L63.7 66.4L62.8 65.4L61.9 66.1L61.0 64.9L60.2 65.7L59.4 64.3L58.4 65.3L57.7 63.7L56.5 65.6L55.6 65.5ZM59.8 59.1L59.1 58.5L59.9 56.5L58.3 57.0L58.5 55.6L56.9 56.0L57.1 54.8L55.6 55.0L55.6 53.9L54.3 53.9L54.2 53.0L53.0 52.7L52.7 51.9L51.7 51.5L51.0 51.0L51.0 51.0L51.2 51.9L51.2 52.9L51.7 53.6L51.6 54.8L52.4 55.3L52.2 56.6L53.2 56.9L52.9 58.4L54.2 58.5L53.8 60.2L55.2 60.1L54.8 61.7L56.8 60.9L57.4 61.6ZM58.4 62.0L59.3 62.1L60.0 64.2L61.0 62.8L61.9 63.9L62.9 62.5L63.8 63.4L64.7 62.2L65.6 62.8L66.5 61.8L67.4 62.1L68.2 61.2L69.1 61.2L69.9 60.5L70.7 60.1L70.7 60.1L69.8 59.9L68.8 59.4L68.0 59.7L67.1 59.0L66.3 59.4L65.4 58.5L64.6 59.2L63.8 57.9L63.0 58.8L62.3 57.4L61.4 58.4L60.7 56.8L59.6 58.8L58.8 58.6ZM63.0 52.3L62.5 51.8L63.5 49.9L61.9 50.5L62.3 49.3L60.8 49.7L61.0 48.7L59.7 48.9L59.8 48.0L58.6 48.1L58.6 47.3L57.5 47.2L57.3 46.5L56.4 46.2L55.8 45.8L55.7 45.8L55.8 46.6L55.7 47.5L56.2 48.0L55.9 49.1L56.7 49.4L56.3 50.6L57.3 50.8L56.8 52.2L58.0 52.2L57.5 53.7L58.8 53.5L58.2 55.1L60.2 54.2L60.7 54.7ZM61.6 55.2L62.4 55.2L62.9 57.3L63.8 55.9L64.4 57.1L65.3 55.7L66.0 56.6L66.8 55.4L67.5 56.0L68.2 55.0L69.0 55.3L69.7 54.5L70.4 54.5L71.0 53.8L71.7 53.4L71.7 53.4L70.9 53.2L70.2 52.7L69.5 52.9L68.7 52.2L68.1 52.6L67.4 51.7L66.8 52.3L66.1 51.1L65.4 52.0L64.9 50.5L64.2 51.5L63.6 50.0L62.7 51.9L62.0 51.8ZM66.3 45.5L65.9 45.1L67.0 43.4L65.6 44.1L66.1 43.0L64.7 43.6L65.1 42.6L63.8 43.0L64.1 42.3L62.9 42.5L63.0 41.8L62.1 41.8L61.9 41.3L61.1 41.2L60.6 40.9L60.6 40.9L60.6 41.5L60.3 42.3L60.7 42.7L60.4 43.6L61.0 43.8L60.5 44.9L61.4 44.9L60.8 46.1L61.9 46.0L61.2 47.4L62.4 47.1L61.8 48.5L63.6 47.5L63.9 47.9ZM64.9 48.4L65.5 48.4L65.8 50.5L66.5 49.1L67.0 50.2L67.7 48.8L68.2 49.7L68.8 48.5L69.4 49.2L70.0 48.1L70.5 48.5L71.0 47.6L71.6 47.7L72.0 47.1L72.5 46.7L72.5 46.7L72.0 46.4L71.4 45.9L70.9 46.1L70.3 45.3L69.8 45.8L69.3 44.8L68.8 45.5L68.4 44.2L67.9 45.1L67.5 43.7L66.9 44.7L66.6 43.2L65.9 45.1L65.3 45.0ZM69.6 38.7L69.3 38.4L70.5 36.8L69.2 37.6L69.8 36.7L68.6 37.4L69.0 36.6L67.9 37.2L68.2 36.5L67.2 36.9L67.4 36.4L66.6 36.6L66.5 36.2L65.8 36.3L65.4 36.1L65.3 36.1L65.3 36.6L65.0 37.2L65.3 37.4L64.8 38.2L65.4 38.3L64.8 39.2L65.5 39.1L64.9 40.2L65.8 39.9L65.0 41.2L66.1 40.7L65.3 42.0L67.0 40.8L67.2 41.1ZM68.2 41.6L68.6 41.6L68.7 43.6L69.3 42.2L69.6 43.3L70.0 41.9L70.4 42.8L70.8 41.6L71.3 42.2L71.6 41.2L72.0 41.5L72.3 40.7L72.6 40.8L72.9 40.2L73.2 39.8L73.2 39.8L72.8 39.5L72.4 39.0L72.1 39.2L71.7 38.4L71.4 38.8L71.0 37.8L70.8 38.5L70.5 37.3L70.2 38.2L70.0 36.7L69.6 37.8L69.4 36.3L68.9 38.3L68.6 38.2ZM72.5 31.7L72.3 31.6L73.5 30.0L72.5 31.0L73.1 30.1L72.1 31.1L72.6 30.4L71.7 31.2L72.1 30.7L71.3 31.2L71.5 30.9L70.8 31.3L70.8 31.1L70.3 31.3L69.9 31.4L69.9 31.4L69.7 31.7L69.4 32.2L69.6 32.2L69.0 32.8L69.5 32.7L68.8 33.5L69.4 33.3L68.7 34.2L69.5 33.8L68.7 35.0L69.6 34.3L68.7 35.5L70.2 34.1L70.3 34.3ZM71.3 34.7L71.5 34.6L71.6 36.6L71.8 35.2L72.0 36.3L72.2 34.8L72.4 35.7L72.6 34.5L72.8 35.1L72.9 34.1L73.2 34.5L73.2 33.6L73.4 33.7L73.4 33.1L73.5 32.8L73.5 32.8L73.3 32.5L73.0 31.9L72.9 32.1L72.7 31.3L72.6 31.8L72.4 30.8L72.3 31.4L72.2 30.2L72.1 31.1L72.0 29.7L71.9 30.8L71.8 29.3L71.6 31.3L71.4 31.3Z" fill="#c5c6be" stroke="#adaea6" stroke-width="0.25"/><path d="M39.7 117.3L40.1 115.2L40.6 112.5L41.1 109.2L41.8 105.6L42.5 101.8L43.3 97.8L44.3 94.0L45.3 90.4L46.6 86.9L48.0 83.4L49.5 79.8L51.2 76.2L52.8 72.6L54.5 69.1L56.1 65.7L57.7 62.4L59.2 59.1L60.7 55.8L62.3 52.6L63.8 49.4L65.3 46.4L66.6 43.6L67.8 41.1L68.9 38.8L69.7 36.9L70.4 35.3L71.0 33.9L71.5 32.7L71.9 31.6L72.2 30.8L72.4 30.0L72.7 29.4" fill="none" stroke="#9fa098" stroke-width="0.6"/><path d="M36.6 53.4L35.6 53.0L35.4 50.9L33.9 51.8L33.5 50.4L32.0 51.2L31.5 50.0L30.1 50.6L29.5 49.6L28.2 49.9L27.5 49.0L26.3 49.0L25.5 48.3L24.3 48.2L23.3 47.8L23.3 47.8L24.0 48.7L24.5 49.7L25.4 50.2L25.9 51.5L27.0 51.7L27.4 53.1L28.7 53.1L29.1 54.7L30.4 54.4L30.8 56.1L32.3 55.6L32.7 57.3L34.4 56.0L35.4 56.4ZM36.4 56.4L37.4 56.1L39.0 57.7L39.6 56.0L41.0 56.7L41.6 55.0L42.9 55.4L43.5 54.0L44.7 54.1L45.3 52.8L46.4 52.6L47.0 51.5L48.0 51.0L48.6 50.0L49.4 49.3L49.4 49.3L48.3 49.5L47.2 49.5L46.3 50.2L45.1 50.0L44.3 50.8L43.0 50.3L42.4 51.3L41.0 50.6L40.4 51.7L39.0 50.7L38.4 52.0L37.0 51.0L36.6 53.1L35.6 53.3ZM37.3 46.3L36.1 45.7L35.7 43.4L33.9 44.1L33.2 42.5L31.4 43.1L30.7 41.7L28.9 41.9L28.2 40.7L26.5 40.7L25.7 39.6L24.1 39.3L23.1 38.4L21.7 37.9L20.5 37.3L20.5 37.3L21.3 38.4L22.0 39.7L23.2 40.5L23.8 42.0L25.2 42.5L25.8 44.1L27.3 44.4L27.9 46.1L29.6 46.1L30.2 48.0L32.0 47.8L32.6 49.7L34.7 48.6L35.9 49.2ZM37.0 49.3L38.3 49.0L40.1 50.6L41.2 48.9L42.8 49.5L43.9 47.9L45.5 48.3L46.5 46.7L48.0 46.8L49.0 45.4L50.5 45.2L51.4 43.9L52.7 43.5L53.8 42.3L54.9 41.5L54.9 41.5L53.5 41.8L52.0 41.9L50.8 42.6L49.3 42.5L48.2 43.3L46.6 42.9L45.5 44.0L43.9 43.3L42.9 44.5L41.3 43.5L40.2 44.8L38.6 43.8L37.7 45.9L36.3 46.2ZM38.7 39.3L37.5 38.7L37.4 36.4L35.6 36.9L35.1 35.4L33.3 35.8L32.8 34.4L31.1 34.6L30.5 33.3L28.9 33.2L28.2 32.1L26.7 31.8L25.9 30.8L24.6 30.3L23.4 29.6L23.4 29.6L24.1 30.8L24.7 32.1L25.7 32.9L26.2 34.3L27.5 34.9L27.9 36.5L29.3 36.9L29.7 38.6L31.3 38.7L31.7 40.6L33.4 40.5L33.8 42.4L35.9 41.4L37.1 42.1ZM38.1 42.3L39.4 42.1L41.0 43.8L42.1 42.2L43.6 43.0L44.7 41.4L46.2 42.0L47.2 40.5L48.7 40.8L49.7 39.5L51.1 39.4L52.1 38.2L53.4 37.9L54.4 36.9L55.5 36.1L55.5 36.1L54.2 36.3L52.8 36.3L51.6 36.9L50.1 36.6L49.0 37.3L47.6 36.8L46.5 37.7L45.0 36.9L44.0 38.0L42.5 36.9L41.4 38.1L40.0 36.9L39.0 39.0L37.7 39.1ZM40.5 32.4L39.6 31.9L39.9 29.7L38.2 30.2L38.0 28.8L36.4 29.3L36.2 28.0L34.7 28.2L34.3 27.1L32.9 27.1L32.5 26.1L31.2 25.8L30.6 25.0L29.5 24.6L28.5 24.0L28.5 24.0L29.0 25.0L29.3 26.1L30.1 26.8L30.3 28.2L31.4 28.7L31.5 30.1L32.7 30.4L32.8 32.0L34.2 32.1L34.3 33.8L35.8 33.6L35.9 35.4L37.9 34.5L38.7 35.1ZM39.7 35.4L40.8 35.3L42.0 37.1L43.0 35.6L44.2 36.5L45.2 35.1L46.4 35.7L47.3 34.4L48.5 34.8L49.3 33.6L50.5 33.7L51.3 32.7L52.4 32.5L53.2 31.7L54.2 31.0L54.2 31.0L53.1 31.1L51.9 30.9L50.9 31.3L49.7 30.8L48.8 31.5L47.6 30.7L46.7 31.5L45.6 30.6L44.7 31.5L43.5 30.3L42.6 31.5L41.5 30.1L40.6 32.1L39.5 32.1ZM42.4 25.5L41.7 25.1L42.2 23.1L40.8 23.8L40.8 22.5L39.4 23.2L39.3 22.0L38.0 22.5L37.9 21.5L36.7 21.7L36.4 20.9L35.3 20.9L34.9 20.2L33.9 20.0L33.2 19.6L33.2 19.6L33.5 20.4L33.6 21.4L34.2 21.9L34.3 23.0L35.1 23.3L35.1 24.6L36.1 24.7L36.0 26.1L37.2 26.0L37.0 27.5L38.3 27.2L38.2 28.8L40.0 27.7L40.6 28.2ZM41.6 28.4L42.4 28.4L43.4 30.2L44.1 28.7L45.0 29.7L45.7 28.2L46.7 28.9L47.3 27.6L48.2 28.1L48.8 26.9L49.7 27.1L50.3 26.2L51.1 26.0L51.7 25.3L52.3 24.7L52.3 24.7L51.5 24.7L50.6 24.4L49.9 24.7L48.9 24.2L48.3 24.8L47.3 24.0L46.7 24.8L45.8 23.8L45.2 24.7L44.3 23.5L43.7 24.6L42.8 23.2L42.2 25.2L41.4 25.2ZM44.4 18.6L44.0 18.4L44.7 16.5L43.5 17.4L43.8 16.3L42.6 17.1L42.8 16.1L41.7 16.7L41.8 15.9L40.8 16.3L40.7 15.7L39.8 15.8L39.6 15.4L38.8 15.4L38.3 15.2L38.3 15.2L38.4 15.8L38.3 16.5L38.7 16.8L38.5 17.7L39.2 17.8L38.9 18.9L39.7 18.8L39.3 20.1L40.3 19.8L39.9 21.2L41.0 20.7L40.6 22.2L42.1 20.9L42.5 21.3ZM43.5 21.6L44.0 21.5L44.7 23.4L45.1 22.0L45.8 22.9L46.2 21.6L46.9 22.3L47.2 21.1L47.9 21.6L48.2 20.5L48.8 20.8L49.2 19.9L49.7 19.9L50.0 19.2L50.4 18.8L50.4 18.8L49.9 18.6L49.2 18.3L48.8 18.5L48.1 17.9L47.7 18.4L47.1 17.5L46.8 18.2L46.1 17.1L45.8 18.0L45.2 16.7L44.9 17.8L44.3 16.4L43.9 18.3L43.4 18.3ZM46.6 11.8L46.4 11.7L47.4 10.1L46.4 11.1L46.9 10.2L45.9 11.1L46.4 10.4L45.5 11.1L45.8 10.6L45.0 11.1L45.1 10.7L44.5 11.1L44.4 10.9L43.9 11.1L43.5 11.1L43.5 11.1L43.4 11.4L43.1 12.0L43.3 12.1L42.9 12.7L43.4 12.6L42.9 13.5L43.5 13.2L42.9 14.3L43.6 13.8L43.0 15.0L43.8 14.4L43.2 15.6L44.5 14.2L44.6 14.4ZM45.6 14.7L45.9 14.7L46.1 16.6L46.3 15.2L46.7 16.2L46.8 14.8L47.2 15.6L47.3 14.4L47.6 15.0L47.7 14.0L48.0 14.4L48.1 13.6L48.3 13.6L48.4 13.0L48.5 12.7L48.5 12.7L48.2 12.4L47.9 12.0L47.7 12.1L47.4 11.4L47.3 11.8L46.9 10.9L46.9 11.6L46.6 10.4L46.5 11.3L46.2 10.0L46.1 11.0L45.9 9.6L45.8 11.5L45.6 11.5Z" fill="#c0c1b9" stroke="#adaea6" stroke-width="0.25"/><path d="M37.5 117.3L37.3 114.7L37.1 111.3L36.8 107.2L36.5 102.6L36.3 97.8L36.0 92.9L35.8 88.1L35.7 83.7L35.6 79.4L35.6 75.0L35.6 70.6L35.6 66.2L35.7 61.8L35.8 57.7L36.1 53.7L36.4 50.0L36.8 46.7L37.3 43.5L37.9 40.6L38.5 37.9L39.2 35.2L39.9 32.7L40.6 30.1L41.3 27.6L42.0 25.0L42.7 22.4L43.5 19.8L44.3 17.3L45.0 14.9L45.7 12.8L46.3 11.0L46.7 9.7" fill="none" stroke="#9fa098" stroke-width="0.6"/><path d="M42.4 96.6L42.0 96.4L42.4 94.8L41.4 95.6L41.5 94.7L40.6 95.5L40.6 94.7L39.7 95.3L39.7 94.6L38.9 95.1L38.7 94.5L38.0 94.8L37.7 94.4L37.0 94.5L36.5 94.4L36.5 94.4L36.7 94.9L36.8 95.6L37.2 95.8L37.2 96.6L37.7 96.6L37.7 97.6L38.4 97.4L38.3 98.5L39.1 98.1L39.0 99.4L39.8 98.8L39.7 100.1L40.8 98.9L41.3 99.1ZM42.1 99.2L42.6 99.1L43.4 100.6L43.6 99.3L44.3 100.0L44.5 98.8L45.2 99.3L45.3 98.2L46.0 98.5L46.1 97.6L46.7 97.7L46.9 96.9L47.3 96.8L47.5 96.2L47.8 95.8L47.8 95.7L47.3 95.7L46.7 95.5L46.3 95.8L45.7 95.4L45.4 95.8L44.7 95.2L44.5 95.9L43.8 95.0L43.6 95.8L42.9 94.8L42.8 95.8L42.1 94.7L42.0 96.4L41.6 96.5ZM43.1 90.5L42.5 90.2L42.7 88.5L41.6 89.3L41.5 88.3L40.5 89.1L40.4 88.2L39.4 88.8L39.2 88.0L38.3 88.4L38.0 87.8L37.1 88.0L36.7 87.5L36.0 87.5L35.3 87.4L35.3 87.4L35.6 88.0L35.8 88.7L36.4 89.0L36.5 89.9L37.2 90.0L37.3 91.0L38.1 90.9L38.2 92.1L39.1 91.8L39.1 93.1L40.1 92.6L40.2 93.9L41.4 92.7L42.0 93.0ZM42.8 93.1L43.4 92.9L44.4 94.3L44.7 93.0L45.6 93.7L45.9 92.4L46.7 92.9L47.0 91.7L47.8 92.0L48.1 91.0L48.8 91.0L49.0 90.1L49.6 90.0L50.0 89.2L50.4 88.7L50.4 88.7L49.7 88.8L49.0 88.6L48.5 89.0L47.7 88.7L47.3 89.2L46.4 88.7L46.1 89.4L45.3 88.6L45.0 89.5L44.1 88.5L43.8 89.5L42.9 88.5L42.8 90.3L42.2 90.4ZM43.6 84.3L43.1 84.1L43.3 82.4L42.3 83.3L42.2 82.3L41.2 83.1L41.1 82.2L40.2 82.8L40.1 82.1L39.2 82.5L38.9 81.9L38.1 82.1L37.7 81.7L37.0 81.8L36.4 81.6L36.4 81.6L36.7 82.2L36.8 82.9L37.4 83.2L37.4 84.0L38.1 84.1L38.2 85.1L38.9 84.9L39.0 86.1L39.8 85.8L39.8 87.1L40.8 86.5L40.8 87.9L42.0 86.6L42.5 86.9ZM43.4 86.9L43.9 86.8L44.9 88.2L45.2 86.9L46.0 87.6L46.2 86.3L47.0 86.8L47.2 85.6L48.0 85.9L48.2 84.9L48.8 85.0L49.1 84.1L49.6 84.0L49.9 83.3L50.3 82.8L50.2 82.8L49.6 82.8L48.9 82.7L48.5 83.0L47.7 82.6L47.4 83.2L46.6 82.6L46.3 83.3L45.5 82.6L45.2 83.4L44.4 82.4L44.2 83.4L43.4 82.4L43.3 84.1L42.7 84.2ZM44.1 78.2L43.7 78.0L44.1 76.4L43.3 77.4L43.4 76.4L42.6 77.3L42.6 76.5L41.8 77.2L41.8 76.6L41.1 77.1L41.0 76.7L40.4 77.0L40.1 76.7L39.6 76.9L39.1 76.8L39.1 76.9L39.2 77.3L39.2 77.9L39.6 78.0L39.6 78.8L40.1 78.7L40.0 79.6L40.6 79.4L40.5 80.5L41.2 80.0L41.0 81.3L41.8 80.6L41.6 81.9L42.7 80.5L43.0 80.7ZM43.9 80.8L44.2 80.7L45.0 82.1L45.1 80.9L45.7 81.6L45.8 80.4L46.4 80.9L46.5 79.8L47.0 80.2L47.1 79.3L47.6 79.4L47.6 78.6L48.0 78.5L48.1 77.9L48.3 77.5L48.3 77.5L47.8 77.5L47.3 77.2L47.0 77.5L46.4 77.1L46.3 77.5L45.6 76.9L45.5 77.5L44.9 76.7L44.8 77.5L44.2 76.5L44.1 77.4L43.5 76.4L43.5 78.0L43.2 78.1ZM44.5 72.0L44.4 72.0L44.9 70.4L44.3 71.5L44.5 70.6L43.9 71.6L44.2 70.9L43.6 71.7L43.7 71.2L43.2 71.8L43.3 71.5L42.8 71.9L42.7 71.8L42.3 72.0L42.0 72.1L42.0 72.2L42.0 72.5L41.8 72.9L42.0 73.0L41.8 73.6L42.1 73.4L41.9 74.2L42.3 73.9L42.0 74.8L42.5 74.3L42.2 75.4L42.8 74.7L42.5 75.9L43.3 74.5L43.4 74.6ZM44.3 74.6L44.5 74.6L45.1 76.1L45.0 74.9L45.4 75.7L45.3 74.5L45.7 75.1L45.5 74.1L45.9 74.5L45.8 73.7L46.1 73.9L46.0 73.2L46.2 73.3L46.1 72.8L46.1 72.5L46.1 72.4L45.8 72.3L45.5 72.0L45.4 72.1L45.0 71.6L45.0 72.0L44.5 71.3L44.6 71.8L44.2 70.9L44.3 71.6L43.8 70.6L44.0 71.4L43.5 70.3L43.8 71.9L43.6 72.0Z" fill="#c6c7bf" stroke="#adaea6" stroke-width="0.25"/><path d="M39.1 117.3L39.3 115.6L39.6 113.3L40.1 110.6L40.5 107.6L41.0 104.4L41.4 101.2L41.8 98.0L42.2 94.9L42.5 91.7L42.8 88.3L43.1 84.7L43.4 81.2L43.7 77.8L43.9 74.7L44.1 72.1L44.2 70.2" fill="none" stroke="#9fa098" stroke-width="0.6"/><path d="M72.7 29.4 q1.5 -3 0 -3.6 q-2 -0.3 -1.6 1.6" fill="none" stroke="#a5a69e" stroke-width="0.8"/><ellipse cx="39.1" cy="118.0" rx="7" ry="1.5" fill="#b0b1a9"/></g></svg>
<div class="t cn" style="left:1056.43px;top:67.19px"><span id="cn5" style="letter-spacing:0.130px">Arabidopsis</span></div>
<div class="t sn" style="left:1056.43px;top:123.07px"><span id="sn5_0" style="letter-spacing:0.542px">(<i>A. thaliana</i>)</span></div>
<svg class="im" style="left:1166.43px" width="80" height="120" viewBox="0 0 80 120" ><path d="M40.8 96.2L38.7 95.0L36.7 93.8L34.6 92.6L32.5 91.3L30.8 89.1L28.7 87.5L26.5 86.3L24.1 85.5L21.6 85.2L19.1 85.2L16.5 85.7L13.7 87.5L13.6 87.9L15.5 90.6L17.6 92.1L19.7 93.2L21.8 94.0L24.0 94.5L26.3 94.8L28.7 94.7L31.3 94.2L33.6 94.8L35.9 95.5L38.1 96.3L40.4 97.1ZM41.0 96.5L40.3 94.3L39.5 92.0L38.7 89.8L37.9 87.6L38.0 84.8L37.5 82.3L36.6 80.0L35.3 78.0L33.7 76.1L31.8 74.5L29.6 73.3L26.4 72.8L26.1 73.0L25.8 76.2L26.4 78.6L27.3 80.8L28.4 82.7L29.7 84.5L31.2 86.1L33.0 87.6L35.3 88.9L36.6 90.8L37.8 92.8L39.0 94.8L40.1 96.9ZM41.0 96.9L42.0 95.4L43.1 93.9L44.1 92.4L45.2 90.8L47.2 89.7L48.6 88.2L49.7 86.5L50.4 84.8L50.8 82.9L50.8 80.9L50.4 78.9L48.8 76.6L48.5 76.5L46.0 77.7L44.6 79.2L43.6 80.7L42.9 82.3L42.4 83.9L42.2 85.6L42.3 87.5L42.7 89.6L42.2 91.4L41.6 93.1L40.9 94.8L40.2 96.5ZM40.8 97.2L42.8 96.6L44.9 96.0L46.9 95.4L49.0 94.9L51.5 95.2L53.9 95.0L56.0 94.3L58.0 93.3L59.7 91.9L61.1 90.1L62.3 88.1L62.7 85.0L62.4 84.6L59.4 84.0L57.1 84.3L55.1 84.9L53.3 85.8L51.7 86.9L50.2 88.2L48.9 89.9L47.7 92.1L45.9 93.2L44.1 94.2L42.3 95.2L40.4 96.2ZM40.4 97.1L41.9 98.1L43.4 99.0L45.0 100.0L46.5 101.0L47.7 102.9L49.2 104.3L50.9 105.3L52.7 105.9L54.6 106.1L56.5 106.0L58.5 105.4L60.7 103.6L60.8 103.2L59.5 100.7L58.0 99.4L56.4 98.4L54.9 97.8L53.3 97.5L51.6 97.4L49.7 97.6L47.6 98.3L45.9 97.9L44.2 97.4L42.5 96.8L40.8 96.2ZM40.5 96.2L38.5 96.4L36.6 96.6L34.6 96.8L32.6 97.0L30.3 96.2L28.1 96.0L26.1 96.3L24.1 97.0L22.3 98.0L20.8 99.4L19.5 101.2L18.7 104.1L18.9 104.5L21.7 105.7L23.8 105.8L25.8 105.6L27.5 105.1L29.2 104.3L30.7 103.2L32.1 101.9L33.5 100.0L35.2 99.1L37.0 98.5L38.9 97.8L40.7 97.2ZM40.1 96.7L40.1 98.1L40.0 99.5L39.9 101.0L39.8 102.4L38.8 104.0L38.3 105.6L38.3 107.2L38.6 108.7L39.2 110.0L40.2 111.2L41.6 112.3L44.0 112.9L44.3 112.8L45.8 110.8L46.3 109.2L46.4 107.8L46.2 106.5L45.8 105.3L45.1 104.1L44.1 103.0L42.6 102.0L42.1 100.7L41.7 99.3L41.4 98.0L41.0 96.6ZM40.3 96.5L39.5 97.2L38.7 97.9L37.9 98.6L37.1 99.4L35.7 99.7L34.6 100.3L33.7 101.1L33.1 102.1L32.7 103.1L32.5 104.3L32.5 105.6L33.3 107.2L33.5 107.3L35.3 107.0L36.3 106.4L37.1 105.6L37.8 104.8L38.2 104.0L38.5 103.0L38.7 101.9L38.6 100.5L39.1 99.6L39.6 98.7L40.2 97.8L40.8 96.9ZM40.7 97.0L41.8 96.7L42.9 96.4L44.0 96.1L45.1 95.8L46.5 96.1L47.8 96.0L49.0 95.6L50.0 95.1L51.0 94.3L51.7 93.4L52.4 92.2L52.5 90.5L52.4 90.3L50.7 89.9L49.5 90.0L48.4 90.3L47.4 90.8L46.5 91.3L45.8 92.1L45.0 93.0L44.4 94.2L43.5 94.8L42.5 95.4L41.5 95.9L40.5 96.4ZM40.8 96.5L40.2 95.6L39.6 94.7L39.0 93.8L38.4 92.9L38.2 91.5L37.7 90.4L37.0 89.5L36.2 88.7L35.2 88.1L34.1 87.8L32.9 87.6L31.2 88.1L31.1 88.3L31.2 89.9L31.7 91.0L32.3 91.9L33.0 92.6L33.8 93.2L34.7 93.7L35.8 94.0L37.1 94.1L38.0 94.8L38.8 95.4L39.6 96.2L40.4 96.9Z" fill="#c6c7c0" stroke="#a3a49d" stroke-width="0.5"/><path d="M40.6 96.7 L16.4 88.6M40.6 96.7 L27.7 75.3M40.6 96.7 L47.8 78.5M40.6 96.7 L60.4 86.0M40.6 96.7 L58.7 102.7M40.6 96.7 L21.0 103.5M40.6 96.7 L43.8 111.2M40.6 96.7 L34.1 106.2M40.6 96.7 L51.3 91.0M40.6 96.7 L32.1 89.0" stroke="#aeafa8" stroke-width="0.4" fill="none"/><path d="M40.6 97.1 L41.0 11.5M39.7 69.1 Q33.5 61.0 30.3 48.9M40.8 59.0 l5.0 -9.0M40.8 51.2 l-5.0 -9.0M40.8 43.3 l5.5 -9.0M40.8 36.6 l-5.5 -9.0M40.8 29.9 l5.0 -8.0M40.8 24.3 l-5.0 -8.0M40.8 19.8 l5.0 -7.0M36.8 63.5 l-4.0 -5.0M33.4 55.7 l3.5 -6.0" fill="none" stroke="#a9aaa2" stroke-width="0.75" stroke-linecap="round"/><path d="M41.0 71.4L42.0 70.7L42.8 70.0L43.5 69.2L44.1 68.3L44.6 67.4L45.0 66.5L45.4 65.5L45.7 64.5L45.9 63.5L46.0 62.4L46.0 62.3L45.2 63.0L44.4 63.8L43.7 64.6L43.0 65.4L42.5 66.3L42.0 67.2L41.6 68.1L41.3 69.1L41.1 70.2L41.0 71.3Z" fill="#c6c7c0" stroke="#a3a49d" stroke-width="0.4"/><g fill="#d6d7d0" stroke="#a6a79f" stroke-width="0.5"><circle cx="34.5" cy="16.0" r="1.5"/><circle cx="37.9" cy="11.5" r="1.5"/><circle cx="41.3" cy="9.2" r="1.5"/><circle cx="44.6" cy="11.5" r="1.5"/><circle cx="48.0" cy="15.3" r="1.5"/><circle cx="39.7" cy="15.3" r="1.5"/><circle cx="43.5" cy="16.4" r="1.5"/><circle cx="36.1" cy="13.0" r="1.5"/><circle cx="46.4" cy="13.0" r="1.5"/><circle cx="32.5" cy="17.8" r="1.5"/><circle cx="49.6" cy="17.8" r="1.5"/><circle cx="28.5" cy="47.8" r="1.2"/><circle cx="31.2" cy="46.2" r="1.2"/><circle cx="32.7" cy="48.5" r="1.2"/><circle cx="29.8" cy="50.0" r="1.2"/></g></svg>
<div class="t cn" style="left:1192.14px;top:67.19px"><span id="cn6" style="letter-spacing:-0.700px">Banana</span></div>
<div class="t sn" style="left:1192.14px;top:107.17px"><span id="sn6_0" style="letter-spacing:0.100px">(<i>M.</i></span></div>
<div class="t sn" style="left:1192.14px;top:138.57px"><span id="sn6_1" style="letter-spacing:0.678px"><i>acuminata</i>)</span></div>
<svg class="im" style="left:1302.14px" width="80" height="120" viewBox="0 0 80 120" ><defs><linearGradient id="bng" x1="0" x2="1"><stop offset="0" stop-color="#928e82"/><stop offset="0.45" stop-color="#c6c2b5"/><stop offset="1" stop-color="#8b877b"/></linearGradient><filter id="bnf" x="-5%" y="-5%" width="110%" height="110%"><feGaussianBlur stdDeviation="0.35"/></filter></defs><g filter="url(#bnf)"><path d="M36.0 103.9 Q30.4 105.4 26.7 106.0M36.1 103.9 Q30.0 105.4 26.1 107.1M36.2 103.9 Q30.1 105.4 26.3 108.3M36.4 103.9 Q30.1 105.4 26.3 109.6M36.6 103.9 Q31.7 105.4 28.5 110.2M36.9 103.9 Q31.9 105.4 28.9 111.5M37.2 103.9 Q35.6 105.4 34.1 109.3M37.6 103.9 Q35.3 105.4 33.6 111.3M38.0 103.9 Q35.5 105.4 33.9 113.6M38.4 103.9 Q37.1 105.4 36.4 112.7M38.8 103.9 Q38.3 105.4 38.0 113.9M39.2 103.9 Q39.4 105.4 39.6 110.6M39.6 103.9 Q40.7 105.4 41.4 112.0M40.0 103.9 Q41.3 105.4 42.4 110.8M40.4 103.9 Q42.9 105.4 44.6 111.6M40.8 103.9 Q44.0 105.4 46.1 111.2M41.1 103.9 Q43.0 105.4 44.7 108.8M41.4 103.9 Q44.3 105.4 46.6 108.8M41.6 103.9 Q45.1 105.4 47.7 108.3M41.8 103.9 Q48.4 105.4 52.4 108.5M41.9 103.9 Q48.1 105.4 52.0 107.2M42.0 103.9 Q45.3 105.4 48.1 105.8" fill="none" stroke="#9a968a" stroke-width="0.6"/><path d="M29.4 54.0L27.3 52.3L24.9 51.4L22.5 51.0L20.0 51.0L17.5 51.4L15.2 52.1L12.9 53.3L10.9 54.8L9.0 56.5L7.4 58.6L6.1 60.8L5.1 63.4L4.5 66.2L5.4 69.8L5.4 69.8L8.9 69.2L11.2 68.1L13.1 67.1L14.9 66.2L16.5 65.4L17.9 64.7L19.2 64.0L20.5 63.2L21.7 62.5L22.9 61.7L24.2 60.9L25.7 59.9L27.3 58.8L29.3 57.3Z" fill="#a9a598" stroke="#8b877b" stroke-width="0.5"/><path d="M29.3 55.7L27.3 55.6L25.3 55.7L23.3 55.9L21.4 56.3L19.6 56.9L17.8 57.7L16.1 58.6L14.4 59.7L12.7 61.0L11.2 62.4L9.6 64.0L8.2 65.8L6.7 67.7" fill="none" stroke="#d6d3c8" stroke-width="0.55"/><path d="M29.0 47.2L27.7 44.9L26.0 43.0L24.0 41.5L22.0 40.3L19.7 39.5L17.4 39.0L15.1 38.8L12.8 39.0L10.5 39.6L8.4 40.5L6.4 41.8L4.7 43.4L3.2 45.4L2.7 48.5L2.7 48.5L5.6 49.3L7.6 49.4L9.4 49.4L11.0 49.5L12.4 49.5L13.8 49.6L15.1 49.6L16.4 49.6L17.8 49.6L19.3 49.7L21.0 49.7L22.9 49.8L25.0 49.8L27.5 49.7Z" fill="#ada99c" stroke="#8b877b" stroke-width="0.5"/><path d="M28.2 48.5L26.3 47.3L24.4 46.4L22.5 45.6L20.7 45.0L18.8 44.6L16.9 44.3L15.1 44.2L13.3 44.3L11.5 44.6L9.7 45.0L7.9 45.6L6.2 46.4L4.4 47.3" fill="none" stroke="#d6d3c8" stroke-width="0.55"/><path d="M53.1 48.6L55.5 48.8L57.4 48.9L59.1 49.0L60.6 49.1L62.0 49.2L63.3 49.3L64.6 49.3L65.9 49.4L67.2 49.5L68.7 49.6L70.3 49.7L72.1 49.8L74.1 50.0L77.1 49.4L77.1 49.4L76.7 46.3L75.3 44.2L73.7 42.5L71.8 41.2L69.8 40.1L67.7 39.4L65.4 39.0L63.2 38.9L60.9 39.3L58.7 39.9L56.7 40.9L54.8 42.3L53.1 43.9L51.8 46.1Z" fill="#a7a396" stroke="#8b877b" stroke-width="0.5"/><path d="M52.4 47.4L54.3 46.4L56.1 45.6L57.9 45.0L59.7 44.5L61.5 44.2L63.2 44.1L65.0 44.2L66.8 44.4L68.5 44.8L70.2 45.4L72.0 46.1L73.7 47.0L75.4 48.1" fill="none" stroke="#d6d3c8" stroke-width="0.55"/><path d="M32.0 41.7L30.6 38.5L28.9 35.8L27.0 33.4L24.9 31.3L22.7 29.5L20.4 27.9L18.1 26.7L15.6 25.8L13.2 25.3L10.7 25.1L8.3 25.3L6.0 26.0L3.8 27.1L2.2 29.9L2.2 29.9L4.2 32.1L5.8 33.2L7.3 34.1L8.7 34.9L10.1 35.7L11.7 36.5L13.3 37.3L15.0 38.1L17.0 39.0L19.1 39.9L21.4 40.9L23.9 42.0L26.6 43.1L29.9 44.0Z" fill="#b1ada0" stroke="#8b877b" stroke-width="0.5"/><path d="M30.9 42.9L28.6 40.8L26.4 38.9L24.2 37.1L22.0 35.6L19.8 34.2L17.7 33.0L15.7 32.0L13.6 31.2L11.6 30.5L9.7 30.0L7.8 29.7L5.9 29.6L4.0 29.6" fill="none" stroke="#d6d3c8" stroke-width="0.55"/><path d="M50.6 41.1L53.7 40.2L56.4 39.2L58.9 38.3L61.1 37.3L63.1 36.5L65.0 35.6L66.6 34.9L68.2 34.1L69.6 33.4L71.0 32.6L72.3 31.8L73.7 30.9L75.2 29.9L77.1 27.6L77.1 27.6L75.6 24.9L73.6 23.7L71.4 23.0L69.0 22.8L66.7 22.9L64.3 23.5L61.9 24.3L59.6 25.5L57.4 26.9L55.3 28.7L53.3 30.7L51.4 33.0L49.8 35.7L48.5 38.8Z" fill="#aba79a" stroke="#8b877b" stroke-width="0.5"/><path d="M49.5 40.0L51.8 38.0L53.9 36.1L56.1 34.5L58.2 33.0L60.3 31.7L62.3 30.6L64.3 29.6L66.2 28.8L68.1 28.2L70.0 27.7L71.8 27.4L73.6 27.3L75.4 27.4" fill="none" stroke="#d6d3c8" stroke-width="0.55"/><path d="M35.5 39.0L35.1 35.1L34.3 31.5L33.1 28.1L31.7 24.9L30.1 21.8L28.4 18.9L26.4 16.1L24.3 13.6L22.0 11.2L19.5 9.0L16.9 7.0L14.0 5.3L11.0 3.9L6.7 3.8L6.7 3.9L6.7 8.1L7.7 11.1L9.0 14.0L10.4 16.7L12.0 19.3L13.6 21.9L15.4 24.4L17.3 26.9L19.3 29.3L21.4 31.8L23.7 34.2L26.2 36.5L29.0 38.8L32.2 40.9Z" fill="#b4b0a3" stroke="#8b877b" stroke-width="0.5"/><path d="M33.8 40.0L32.1 36.9L30.3 34.0L28.4 31.1L26.6 28.3L24.7 25.6L22.8 22.9L20.9 20.3L18.9 17.7L17.0 15.3L15.0 12.8L12.9 10.5L10.9 8.2L8.8 6.0" fill="none" stroke="#d6d3c8" stroke-width="0.55"/><path d="M48.2 38.8L51.4 37.1L54.2 35.2L56.7 33.2L59.0 31.1L61.2 29.0L63.2 26.9L65.1 24.7L66.8 22.5L68.5 20.2L70.0 17.9L71.3 15.5L72.6 12.9L73.6 10.1L73.5 6.1L73.5 6.1L69.5 5.8L66.6 6.8L63.9 8.1L61.3 9.7L58.9 11.5L56.7 13.6L54.6 15.8L52.6 18.2L50.8 20.8L49.2 23.6L47.8 26.5L46.5 29.6L45.5 33.0L45.1 36.6Z" fill="#aeaa9d" stroke="#8b877b" stroke-width="0.5"/><path d="M46.6 37.7L48.5 35.0L50.3 32.4L52.2 29.8L54.1 27.4L56.0 24.9L57.9 22.6L59.8 20.3L61.8 18.1L63.7 15.9L65.6 13.8L67.6 11.8L69.6 9.8L71.5 7.9" fill="none" stroke="#d6d3c8" stroke-width="0.55"/><path d="M42.0 39.9L43.6 37.1L44.7 34.4L45.5 31.8L46.1 29.2L46.6 26.7L46.9 24.2L47.0 21.7L47.1 19.3L47.0 16.8L46.7 14.3L46.3 11.8L45.6 9.2L44.7 6.6L42.1 3.6L42.1 3.6L38.7 5.6L37.0 8.0L35.7 10.4L34.7 13.0L33.9 15.6L33.4 18.3L33.1 21.0L33.0 23.7L33.1 26.4L33.5 29.2L34.2 31.9L35.1 34.7L36.3 37.4L38.2 40.1Z" fill="#b8b4a7" stroke="#8b877b" stroke-width="0.5"/><path d="M40.1 40.0L40.0 37.2L39.9 34.5L39.8 31.9L39.8 29.2L39.9 26.6L39.9 23.9L40.1 21.3L40.2 18.8L40.4 16.2L40.7 13.6L41.0 11.1L41.3 8.6L41.7 6.1" fill="none" stroke="#d6d3c8" stroke-width="0.55"/><path d="M39.9 55.7 L29.3 55.7M39.9 55.7 L28.2 48.5M39.9 55.7 L52.4 47.4M39.9 55.7 L30.9 42.9M39.9 55.7 L49.5 40.0M39.9 55.7 L33.8 40.0M39.9 55.7 L46.6 37.7M39.9 55.7 L40.1 40.0" fill="none" stroke="#97938a" stroke-width="1.5" stroke-linecap="round"/><path d="M34.1 103.9 L44.1 103.9 L43.0 50.0 L37.0 50.0 Z" fill="url(#bng)" stroke="#827e72" stroke-width="0.4"/><path d="M35.2 63.5 l2.4 -5 M43.7 63.5 l-2.4 -5M35.2 69.6 l2.4 -5 M43.7 69.6 l-2.4 -5M35.2 75.6 l2.4 -5 M43.7 75.6 l-2.4 -5M35.2 81.7 l2.4 -5 M43.7 81.7 l-2.4 -5M35.2 87.7 l2.4 -5 M43.7 87.7 l-2.4 -5M35.2 93.8 l2.4 -5 M43.7 93.8 l-2.4 -5M35.2 99.8 l2.4 -5 M43.7 99.8 l-2.4 -5" stroke="#7a766a" stroke-width="0.6" fill="none"/><path d="M44.4 52.7 Q55.1 49.7 57.8 68.0 L58.7 75.8" fill="none" stroke="#8b877b" stroke-width="1"/><ellipse cx="56.0" cy="64.8" rx="4.8" ry="6.2" fill="#98948a" stroke="#78746a" stroke-width="0.5"/><path d="M58.7 74.2 q5.5 4.5 0.8 10.5 q-6 -5 -0.8 -10.5z" fill="#a39f94" stroke="#78746a" stroke-width="0.5"/></g></svg>
<div class="t cn" style="left:1327.86px;top:67.19px"><span id="cn7" style="letter-spacing:0.262px">Pineapple</span></div>
<div class="t sn" style="left:1327.86px;top:107.17px"><span id="sn7_0" style="letter-spacing:0.550px">(<i>A.</i></span></div>
<div class="t sn" style="left:1327.86px;top:138.57px"><span id="sn7_1" style="letter-spacing:-0.029px"><i>comosus</i>)</span></div>
<svg class="im" style="left:1437.86px" width="80" height="120" viewBox="0 0 80 120" ><path d="M41.7 98.8L40.1 93.7L38.6 88.8L37.0 84.2L35.4 79.9L33.8 75.9L32.0 72.3L30.2 69.0L28.3 66.0L26.5 63.3L24.6 61.0L22.7 59.1L20.8 57.4L20.8 57.5L21.9 59.6L23.0 62.0L24.2 64.7L25.4 67.6L26.7 70.7L28.1 74.1L29.6 77.7L31.2 81.6L32.9 85.8L34.7 90.2L36.5 94.9L38.4 99.9Z" fill="#e2e2e0" stroke="#979795" stroke-width="0.55" stroke-linejoin="round"/><path d="M41.7 99.9L43.5 94.9L45.3 90.3L47.0 86.0L48.7 82.0L50.3 78.3L51.8 75.0L53.2 71.9L54.6 69.1L55.9 66.6L57.2 64.3L58.5 62.3L59.8 60.6L59.8 60.6L57.8 61.6L55.8 63.1L53.8 65.0L51.8 67.3L49.9 70.0L48.0 73.0L46.2 76.4L44.5 80.2L42.9 84.4L41.4 88.9L39.9 93.7L38.4 98.8Z" fill="#e2e2e0" stroke="#979795" stroke-width="0.55" stroke-linejoin="round"/><path d="M41.6 100.8L39.2 95.8L36.9 91.1L34.6 86.7L32.4 82.7L30.2 79.0L28.0 75.6L25.9 72.7L23.7 70.0L21.7 67.8L19.7 65.8L17.8 64.3L16.1 63.0L16.0 63.1L17.1 64.9L18.2 67.0L19.5 69.4L20.9 72.0L22.4 74.9L24.2 78.0L26.1 81.4L28.2 85.1L30.6 89.0L33.1 93.2L35.7 97.7L38.5 102.5Z" fill="#e2e2e0" stroke="#979795" stroke-width="0.55" stroke-linejoin="round"/><path d="M41.5 103.7L44.4 99.8L47.1 96.2L49.6 93.1L52.0 90.4L54.1 88.0L56.1 86.0L57.8 84.3L59.3 82.9L60.7 81.9L62.1 81.1L63.4 80.7L64.9 80.5L64.9 80.5L63.6 79.6L61.8 79.2L59.8 79.3L57.6 79.9L55.4 81.0L53.1 82.6L50.7 84.7L48.4 87.3L46.0 90.3L43.6 93.7L41.1 97.5L38.5 101.7Z" fill="#e2e2e0" stroke="#979795" stroke-width="0.55" stroke-linejoin="round"/><path d="M41.5 105.1L38.5 100.4L35.7 96.2L32.9 92.7L30.3 89.7L27.7 87.3L25.1 85.6L22.5 84.5L20.1 84.2L17.8 84.7L16.1 86.0L14.8 87.8L14.0 89.9L14.0 90.0L15.6 88.4L17.2 87.6L18.5 87.4L19.7 87.7L21.1 88.3L22.7 89.4L24.6 91.0L26.9 93.0L29.5 95.7L32.3 98.9L35.3 102.7L38.6 107.1Z" fill="#e2e2e0" stroke="#979795" stroke-width="0.55" stroke-linejoin="round"/><path d="M41.3 108.4L44.8 104.9L48.0 102.1L50.9 99.8L53.5 98.1L55.7 96.9L57.5 96.2L59.0 95.9L60.3 95.9L61.7 96.4L63.2 97.5L64.7 99.3L66.0 101.8L66.1 101.8L65.6 98.9L64.7 96.4L63.4 94.4L61.6 92.8L59.3 92.0L56.6 92.0L53.9 92.8L51.1 94.2L48.2 96.3L45.2 99.0L42.1 102.3L38.8 106.1Z" fill="#e2e2e0" stroke="#979795" stroke-width="0.55" stroke-linejoin="round"/><path d="M41.2 108.3L38.1 105.2L35.2 102.5L32.3 100.4L29.6 98.7L26.9 97.6L24.3 97.1L21.8 97.2L19.5 98.0L17.7 99.4L16.3 101.3L15.2 103.5L14.5 106.1L14.5 106.1L16.0 104.0L17.6 102.4L19.2 101.4L20.7 101.0L22.2 100.9L23.7 101.1L25.6 101.7L27.7 102.5L30.1 103.8L32.8 105.6L35.7 107.9L38.9 110.6Z" fill="#e2e2e0" stroke="#979795" stroke-width="0.55" stroke-linejoin="round"/><path d="M41.1 111.7L43.8 109.5L46.3 107.8L48.6 106.5L50.5 105.6L52.2 105.1L53.6 104.9L54.9 104.9L56.2 105.2L57.5 106.0L58.9 107.3L60.3 109.1L61.6 111.5L61.6 111.5L61.1 108.8L60.3 106.4L59.2 104.4L57.8 102.8L56.0 101.6L53.8 101.0L51.5 101.1L49.1 101.8L46.7 103.0L44.2 104.7L41.6 106.9L39.0 109.4Z" fill="#e2e2e0" stroke="#979795" stroke-width="0.55" stroke-linejoin="round"/><path d="M41.0 110.6L38.8 108.6L36.7 106.8L34.6 105.4L32.5 104.4L30.4 103.8L28.4 103.7L26.5 104.0L24.8 104.9L23.4 106.1L22.3 107.6L21.4 109.4L20.8 111.5L20.8 111.5L22.1 109.8L23.4 108.6L24.8 107.8L26.0 107.4L27.2 107.2L28.4 107.3L29.7 107.5L31.1 108.0L32.8 108.7L34.7 109.7L36.8 111.1L39.1 112.8Z" fill="#e2e2e0" stroke="#979795" stroke-width="0.55" stroke-linejoin="round"/><path d="M41.0 113.4L42.8 111.9L44.4 110.7L45.9 109.9L47.2 109.4L48.2 109.1L49.0 108.9L49.8 108.9L50.5 109.1L51.5 109.5L52.4 110.4L53.4 111.6L54.4 113.3L54.4 113.3L54.1 111.3L53.7 109.6L53.0 108.2L52.1 106.9L50.8 106.0L49.2 105.5L47.6 105.5L45.9 106.0L44.2 106.9L42.5 108.1L40.8 109.6L39.1 111.4Z" fill="#e2e2e0" stroke="#979795" stroke-width="0.55" stroke-linejoin="round"/><path d="M41.5 98.0L40.7 93.1L40.0 88.5L39.2 84.2L38.4 80.2L37.6 76.5L36.6 73.2L35.6 70.2L34.6 67.5L33.5 65.2L32.4 63.2L31.3 61.6L30.2 60.4L30.2 60.4L30.6 62.0L31.0 63.8L31.4 66.0L31.9 68.4L32.5 71.1L33.1 74.1L33.9 77.4L34.7 81.0L35.6 84.9L36.6 89.1L37.6 93.7L38.6 98.5Z" fill="#e2e2e0" stroke="#979795" stroke-width="0.55" stroke-linejoin="round"/><path d="M41.5 98.5L42.4 93.6L43.4 89.1L44.4 84.9L45.3 80.9L46.2 77.3L47.1 73.9L47.8 70.8L48.5 68.0L49.2 65.5L49.9 63.3L50.6 61.2L51.3 59.5L51.2 59.5L49.9 60.8L48.5 62.6L47.2 64.6L45.9 67.1L44.7 69.8L43.6 72.9L42.5 76.3L41.6 80.1L40.8 84.1L40.0 88.4L39.3 93.1L38.6 98.0Z" fill="#e2e2e0" stroke="#979795" stroke-width="0.55" stroke-linejoin="round"/><path d="M41.3 103.2L40.0 100.0L38.6 97.1L37.2 94.7L35.8 92.7L34.3 91.1L32.7 90.1L30.9 89.6L29.2 89.7L27.7 90.5L26.7 91.8L25.9 93.4L25.2 95.3L25.3 95.3L26.5 93.8L27.8 92.9L28.8 92.5L29.6 92.5L30.2 92.7L30.8 93.2L31.7 94.0L32.9 95.2L34.2 96.8L35.6 98.9L37.1 101.4L38.7 104.5Z" fill="#e2e2e0" stroke="#979795" stroke-width="0.55" stroke-linejoin="round"/><path d="M41.3 104.9L43.1 101.8L44.7 99.2L46.2 97.0L47.6 95.3L48.8 94.0L49.8 93.0L50.5 92.5L51.1 92.1L51.9 92.0L52.9 92.3L54.0 93.1L55.3 94.4L55.3 94.4L54.7 92.6L53.9 91.1L52.8 90.0L51.3 89.4L49.5 89.4L47.8 90.0L46.2 91.2L44.7 92.8L43.2 94.9L41.7 97.4L40.2 100.3L38.8 103.7Z" fill="#e2e2e0" stroke="#979795" stroke-width="0.55" stroke-linejoin="round"/><path d="M41.4 96.6L40.2 93.2L38.9 90.1L37.6 87.1L36.3 84.4L34.9 81.9L33.4 79.6L31.9 77.6L30.3 75.8L28.6 74.3L27.0 73.1L25.3 72.1L23.7 71.3L23.7 71.4L24.8 72.7L25.9 74.2L27.0 75.8L28.1 77.6L29.2 79.5L30.4 81.6L31.6 83.8L33.0 86.2L34.3 88.8L35.8 91.5L37.2 94.5L38.7 97.7Z" fill="#e2e2e0" stroke="#979795" stroke-width="0.55" stroke-linejoin="round"/><path d="M41.4 98.1L42.7 94.9L44.1 92.0L45.5 89.3L46.9 86.7L48.3 84.4L49.6 82.3L50.9 80.3L52.2 78.4L53.6 76.7L55.0 75.2L56.4 73.7L58.0 72.5L58.0 72.5L56.0 73.0L54.0 73.9L52.1 75.1L50.2 76.5L48.4 78.2L46.6 80.2L45.0 82.4L43.6 84.9L42.2 87.6L41.0 90.6L39.8 93.7L38.7 97.1Z" fill="#e2e2e0" stroke="#979795" stroke-width="0.55" stroke-linejoin="round"/><path d="M40.8 112.0L39.7 110.8L38.6 109.8L37.4 109.0L36.2 108.4L35.0 108.0L33.7 108.0L32.5 108.3L31.4 108.8L30.5 109.6L29.7 110.5L29.1 111.6L28.6 112.8L28.6 112.8L29.6 112.0L30.6 111.4L31.5 111.1L32.3 110.9L33.0 110.9L33.7 110.9L34.4 111.1L35.2 111.3L36.0 111.6L37.0 112.1L38.1 112.8L39.3 113.7Z" fill="#e2e2e0" stroke="#979795" stroke-width="0.55" stroke-linejoin="round"/><path d="M40.9 113.7L42.0 112.8L42.9 112.1L43.8 111.6L44.5 111.3L45.0 111.2L45.4 111.0L45.7 111.0L46.2 111.0L46.7 111.2L47.4 111.6L48.1 112.3L48.8 113.3L48.8 113.3L48.7 112.0L48.5 110.9L48.1 110.0L47.5 109.1L46.6 108.5L45.6 108.1L44.4 108.1L43.3 108.5L42.3 109.0L41.2 109.8L40.2 110.8L39.2 112.0Z" fill="#e2e2e0" stroke="#979795" stroke-width="0.55" stroke-linejoin="round"/><path d="M40.0 118.1 L40.0 61.3" stroke="#9c9c9a" stroke-width="2"/><path d="M40.0 118.1 L40.0 61.3" stroke="#dcdcda" stroke-width="0.7"/><path d="M40.1 42.0L40.7 38.4L41.0 34.8L41.2 31.2L41.2 27.6L41.1 24.0L40.9 20.4L40.5 16.9L40.1 13.3L40.0 13.3L39.6 16.9L39.2 20.4L39.0 24.0L38.9 27.6L38.9 31.2L39.1 34.8L39.4 38.4L40.0 42.0Z" fill="#d2d2d0" stroke="#8f8f8d" stroke-width="0.5"/><path d="M40.1 42.0L39.2 38.6L38.3 35.4L37.3 32.2L36.4 29.0L35.5 25.8L34.7 22.6L34.0 19.3L33.1 16.0L33.1 16.0L33.0 19.4L33.1 22.8L33.5 26.2L34.1 29.6L35.1 32.9L36.5 36.0L38.1 39.1L40.0 42.0Z" fill="#d2d2d0" stroke="#8f8f8d" stroke-width="0.5"/><path d="M40.1 42.0L42.0 39.1L43.6 36.1L45.0 32.9L46.1 29.6L46.8 26.3L47.2 22.8L47.3 19.4L47.2 16.0L47.2 16.0L46.3 19.3L45.5 22.6L44.7 25.8L43.8 29.0L42.8 32.2L41.9 35.4L40.9 38.6L40.0 42.0Z" fill="#d2d2d0" stroke="#8f8f8d" stroke-width="0.5"/><path d="M40.1 41.9L38.2 39.4L36.3 37.0L34.6 34.6L33.1 32.2L31.7 29.7L30.5 27.1L29.3 24.3L28.2 21.3L28.2 21.3L28.4 24.5L28.9 27.6L29.7 30.6L31.0 33.4L32.8 36.0L34.9 38.3L37.3 40.3L40.0 42.0Z" fill="#d2d2d0" stroke="#8f8f8d" stroke-width="0.5"/><path d="M40.1 42.0L42.7 40.3L45.2 38.3L47.3 36.0L49.1 33.4L50.4 30.6L51.2 27.6L51.7 24.5L51.9 21.3L51.9 21.3L50.8 24.3L49.6 27.1L48.4 29.7L47.0 32.2L45.5 34.6L43.8 37.0L41.9 39.4L40.0 41.9Z" fill="#d2d2d0" stroke="#8f8f8d" stroke-width="0.5"/><path d="M40.0 41.9L37.7 40.7L35.6 39.6L33.7 38.4L32.1 37.2L30.7 35.7L29.5 33.9L28.3 31.7L27.0 29.4L27.0 29.4L27.3 32.0L27.9 34.6L28.9 36.9L30.5 38.9L32.5 40.4L34.8 41.4L37.4 41.9L40.0 42.0Z" fill="#d2d2d0" stroke="#8f8f8d" stroke-width="0.5"/><path d="M40.0 42.0L42.8 41.8L45.3 41.2L47.7 40.2L49.7 38.6L51.2 36.6L52.2 34.2L52.8 31.6L53.1 29.0L53.0 29.0L51.9 31.3L50.7 33.5L49.4 35.4L48.0 37.0L46.5 38.3L44.6 39.5L42.4 40.7L40.0 41.9Z" fill="#d2d2d0" stroke="#8f8f8d" stroke-width="0.5"/><path d="M40.1 42.0L40.1 39.0L39.9 36.1L39.5 33.2L39.0 30.3L38.3 27.5L37.5 24.7L36.6 21.9L35.6 19.1L35.6 19.1L35.6 22.1L35.9 25.0L36.2 27.9L36.6 30.8L37.2 33.6L38.0 36.4L38.9 39.2L40.0 42.0Z" fill="#d2d2d0" stroke="#8f8f8d" stroke-width="0.5"/><path d="M40.1 42.0L41.2 39.2L42.1 36.4L42.9 33.6L43.4 30.8L43.9 27.9L44.2 25.0L44.4 22.1L44.5 19.1L44.5 19.1L43.5 21.9L42.6 24.7L41.8 27.5L41.1 30.3L40.6 33.2L40.2 36.1L40.0 39.0L40.0 42.0Z" fill="#d2d2d0" stroke="#8f8f8d" stroke-width="0.5"/><path d="M40.0 41.9L38.3 41.3L36.8 40.7L35.5 40.2L34.4 39.6L33.4 38.9L32.4 37.9L31.3 36.6L30.2 35.2L30.2 35.3L30.5 37.1L31.0 38.8L31.9 40.3L33.1 41.6L34.7 42.3L36.4 42.6L38.2 42.5L40.0 42.0Z" fill="#d2d2d0" stroke="#8f8f8d" stroke-width="0.5"/><path d="M40.0 42.0L41.8 42.5L43.6 42.6L45.4 42.3L47.0 41.6L48.2 40.3L49.1 38.8L49.6 37.1L49.9 35.3L49.9 35.2L48.8 36.6L47.7 37.9L46.7 38.9L45.7 39.6L44.6 40.2L43.3 40.7L41.7 41.3L40.0 41.9Z" fill="#d2d2d0" stroke="#8f8f8d" stroke-width="0.5"/><path d="M40.1 42.0L40.3 38.6L40.2 35.2L40.0 31.8L39.6 28.5L39.1 25.2L38.5 21.9L37.8 18.6L36.9 15.3L36.9 15.3L36.8 18.7L36.9 22.1L37.0 25.4L37.3 28.8L37.7 32.1L38.3 35.4L39.1 38.7L40.0 42.0Z" fill="#d2d2d0" stroke="#8f8f8d" stroke-width="0.5"/><path d="M40.1 42.0L41.0 38.7L41.8 35.4L42.4 32.1L42.8 28.8L43.1 25.4L43.2 22.1L43.3 18.7L43.2 15.3L43.2 15.3L42.3 18.6L41.6 21.9L40.9 25.2L40.4 28.5L40.1 31.8L39.9 35.2L39.8 38.6L40.0 42.0Z" fill="#d2d2d0" stroke="#8f8f8d" stroke-width="0.5"/><path d="M40.1 41.9L38.8 39.8L37.5 37.8L36.3 35.9L35.2 34.0L34.2 32.0L33.3 29.9L32.4 27.7L31.5 25.4L31.5 25.4L31.5 27.9L31.7 30.3L32.2 32.8L33.1 35.1L34.4 37.2L36.0 39.0L37.9 40.6L40.0 42.0Z" fill="#d2d2d0" stroke="#8f8f8d" stroke-width="0.5"/><path d="M40.1 42.0L42.2 40.6L44.1 39.0L45.7 37.2L47.0 35.1L47.9 32.8L48.4 30.3L48.6 27.9L48.6 25.4L48.6 25.4L47.7 27.7L46.8 29.9L45.9 32.0L44.9 34.0L43.8 35.9L42.6 37.8L41.3 39.8L40.0 41.9Z" fill="#d2d2d0" stroke="#8f8f8d" stroke-width="0.5"/><defs><pattern id="pp" width="3.3" height="3.3" patternUnits="userSpaceOnUse" patternTransform="rotate(45)"><rect width="3.3" height="3.3" fill="#c2c2c0"/><path d="M0 0H3.3M0 0V3.3" stroke="#888886" stroke-width="0.8"/></pattern></defs><ellipse cx="40.0" cy="49.4" rx="9.6" ry="13.4" fill="url(#pp)" stroke="#858583" stroke-width="0.75"/></svg>
<div class="t cn" style="left:1463.57px;top:67.19px"><span id="cn8" style="letter-spacing:-0.600px">Rice</span></div>
<div class="t sn" style="left:1463.57px;top:123.07px"><span id="sn8_0" style="letter-spacing:0.010px">(<i>O. sativa</i>)</span></div>
<svg class="im" style="left:1573.57px" width="80" height="120" viewBox="0 0 80 120" ><defs><filter id="rf" x="-5%" y="-5%" width="110%" height="110%"><feGaussianBlur stdDeviation="0.25"/></filter></defs><g filter="url(#rf)"><path d="M34.9 117.7L34.1 106.7L33.1 96.0L32.1 85.6L30.9 75.7L29.5 66.1L28.0 56.8L26.4 48.0L24.6 39.5L22.8 31.4L20.9 23.6L18.8 16.2L16.7 9.2L16.7 9.2L18.4 16.3L20.1 23.8L21.7 31.6L23.3 39.8L24.8 48.3L26.2 57.1L27.6 66.4L29.0 75.9L30.4 85.8L31.8 96.1L33.1 106.8L34.4 117.8ZM37.1 117.7L36.8 107.4L36.5 97.5L36.1 87.8L35.5 78.5L34.9 69.6L34.2 60.9L33.4 52.7L32.6 44.7L31.6 37.1L30.7 29.9L29.7 23.0L28.6 16.4L28.6 16.4L29.3 23.0L30.0 30.0L30.7 37.2L31.3 44.8L32.0 52.8L32.6 61.1L33.2 69.7L33.9 78.6L34.6 87.9L35.3 97.5L35.9 107.5L36.6 117.8ZM38.7 117.8L38.9 108.6L39.1 99.7L39.2 91.2L39.3 82.9L39.3 74.9L39.3 67.3L39.2 59.9L39.1 52.9L38.9 46.1L38.8 39.6L38.6 33.5L38.5 27.6L38.4 27.6L38.3 33.5L38.1 39.6L38.0 46.1L37.8 52.9L37.7 59.9L37.7 67.3L37.6 74.9L37.6 82.9L37.7 91.2L37.8 99.7L38.0 108.6L38.2 117.8ZM34.2 117.7L32.6 109.9L30.8 102.5L28.9 95.4L26.7 88.7L24.4 82.3L21.8 76.2L19.1 70.5L16.2 65.2L13.2 60.2L10.0 55.6L6.7 51.3L3.3 47.3L3.2 47.4L6.4 51.5L9.4 56.0L12.3 60.7L15.1 65.8L17.8 71.2L20.3 76.9L22.7 82.9L25.1 89.3L27.4 95.9L29.6 102.9L31.7 110.2L33.7 117.8ZM34.9 117.7L33.3 111.4L31.5 105.4L29.5 99.8L27.4 94.5L25.0 89.5L22.5 84.9L19.8 80.7L16.9 76.7L13.8 73.2L10.7 70.0L7.4 67.1L3.9 64.6L3.9 64.6L7.1 67.4L10.1 70.5L13.1 73.9L15.8 77.5L18.5 81.5L21.0 85.8L23.4 90.3L25.8 95.2L28.1 100.4L30.3 105.9L32.4 111.7L34.4 117.8ZM35.5 117.7L34.4 113.1L33.2 108.7L31.8 104.7L30.3 101.0L28.6 97.6L26.7 94.6L24.7 91.8L22.7 89.4L20.5 87.4L18.2 85.7L15.8 84.3L13.3 83.2L13.3 83.2L15.6 84.6L17.8 86.2L19.8 88.1L21.8 90.2L23.7 92.7L25.4 95.4L27.2 98.4L28.8 101.7L30.5 105.2L32.1 109.1L33.6 113.3L35.1 117.8ZM36.0 117.7L34.4 114.4L32.7 111.5L30.8 108.8L28.8 106.5L26.5 104.4L24.1 102.7L21.5 101.4L18.9 100.3L16.1 99.6L13.2 99.2L10.2 99.1L7.1 99.4L7.1 99.4L10.2 99.5L13.1 99.8L15.9 100.5L18.5 101.4L21.0 102.5L23.3 103.9L25.6 105.6L27.7 107.5L29.8 109.7L31.8 112.1L33.7 114.8L35.6 117.9ZM36.8 117.7L36.0 115.6L35.0 113.7L34.0 112.1L32.8 110.6L31.4 109.5L30.0 108.6L28.5 108.0L26.9 107.6L25.2 107.6L23.5 107.7L21.8 108.1L20.1 108.8L20.1 108.8L21.9 108.4L23.6 108.3L25.2 108.3L26.7 108.6L28.1 109.0L29.4 109.7L30.6 110.5L31.9 111.6L33.1 112.8L34.2 114.2L35.4 115.9L36.5 117.8ZM40.5 117.8L42.8 108.7L45.3 100.0L47.8 91.6L50.5 83.6L53.2 76.0L56.0 68.6L58.9 61.6L62.0 54.9L65.2 48.6L68.5 42.6L72.0 37.0L75.7 31.7L75.7 31.7L71.7 36.7L67.8 42.2L64.2 48.1L60.7 54.3L57.4 60.9L54.3 67.9L51.3 75.3L48.6 83.0L46.1 91.1L43.9 99.6L41.8 108.5L40.0 117.7ZM40.1 117.8L42.3 110.5L44.6 103.7L47.1 97.2L49.7 91.0L52.3 85.3L55.0 79.9L57.9 74.8L60.9 70.1L64.0 65.8L67.3 61.9L70.7 58.2L74.3 55.0L74.3 55.0L70.5 58.0L66.8 61.4L63.2 65.2L59.8 69.4L56.6 74.0L53.6 79.1L50.7 84.5L48.0 90.3L45.6 96.6L43.4 103.3L41.4 110.3L39.5 117.7ZM39.6 117.9L41.9 112.8L44.3 108.1L46.8 103.8L49.4 99.9L52.1 96.4L54.9 93.1L57.8 90.2L60.9 87.7L64.2 85.5L67.6 83.7L71.2 82.1L75.0 81.0L75.0 81.0L71.1 81.8L67.3 83.0L63.7 84.6L60.2 86.7L56.9 89.1L53.7 92.0L50.8 95.3L48.0 99.0L45.5 103.1L43.2 107.6L41.0 112.4L39.1 117.7ZM39.1 117.8L40.7 114.4L42.4 111.3L44.2 108.6L46.0 106.1L47.9 104.0L49.8 102.1L51.8 100.5L54.0 99.3L56.2 98.3L58.6 97.6L61.1 97.2L63.8 97.1L63.8 97.1L61.1 96.9L58.5 97.0L55.9 97.5L53.5 98.3L51.1 99.5L48.9 101.0L46.8 102.9L44.9 105.2L43.1 107.8L41.5 110.8L40.0 114.1L38.7 117.7ZM38.2 117.8L39.1 115.9L40.1 114.2L41.0 112.7L42.0 111.5L43.0 110.5L44.0 109.7L45.0 109.0L46.1 108.6L47.3 108.3L48.6 108.3L50.0 108.4L51.5 108.8L51.5 108.8L50.0 108.1L48.6 107.7L47.3 107.6L45.9 107.7L44.6 108.0L43.3 108.6L42.1 109.5L41.0 110.7L40.1 112.1L39.2 113.8L38.5 115.6L37.8 117.7ZM33.3 117.7L33.0 110.0L32.6 102.6L32.1 95.4L31.5 88.5L30.8 81.8L30.1 75.4L29.2 69.2L28.3 63.3L27.3 57.6L26.3 52.2L25.2 47.1L24.1 42.2L24.1 42.2L24.9 47.1L25.7 52.3L26.4 57.8L27.2 63.4L27.9 69.4L28.6 75.5L29.2 82.0L29.9 88.6L30.7 95.5L31.4 102.7L32.1 110.1L32.8 117.8ZM41.8 117.8L42.7 110.3L43.6 103.2L44.6 96.2L45.5 89.5L46.5 83.1L47.4 76.8L48.4 70.8L49.4 65.1L50.4 59.6L51.5 54.3L52.6 49.2L53.7 44.4L53.7 44.4L52.2 49.2L50.8 54.1L49.5 59.4L48.2 64.9L47.0 70.6L45.9 76.6L44.9 82.8L44.0 89.3L43.2 96.0L42.5 103.0L41.9 110.3L41.4 117.7ZM36.4 117.8L36.4 110.6L36.3 103.7L36.1 97.1L35.9 90.7L35.7 84.5L35.3 78.5L34.9 72.8L34.5 67.4L34.0 62.1L33.5 57.1L33.0 52.3L32.4 47.8L32.4 47.8L32.7 52.4L32.9 57.2L33.1 62.2L33.4 67.4L33.6 72.9L33.9 78.6L34.2 84.6L34.5 90.7L34.8 97.1L35.2 103.8L35.6 110.7L36.0 117.8ZM39.6 117.8L40.1 110.9L40.6 104.2L41.1 97.8L41.6 91.6L42.1 85.7L42.5 79.9L42.9 74.4L43.4 69.1L43.8 64.0L44.3 59.1L44.7 54.5L45.2 50.0L45.2 50.0L44.4 54.4L43.6 59.0L42.9 63.9L42.3 68.9L41.7 74.2L41.1 79.8L40.6 85.5L40.1 91.5L39.8 97.7L39.5 104.2L39.3 110.9L39.1 117.7ZM32.6 117.7L31.9 110.6L31.0 103.7L30.1 97.0L29.0 90.6L27.8 84.4L26.5 78.4L25.1 72.7L23.6 67.2L22.0 62.0L20.3 57.0L18.5 52.3L16.7 47.8L16.7 47.8L18.2 52.4L19.7 57.2L21.2 62.3L22.5 67.5L23.8 73.0L25.1 78.7L26.3 84.7L27.6 90.8L28.8 97.2L29.9 103.8L31.1 110.7L32.2 117.8ZM41.4 117.8L42.7 112.0L44.0 106.5L45.4 101.4L46.9 96.5L48.4 91.9L49.9 87.7L51.5 83.7L53.1 80.0L54.8 76.5L56.6 73.4L58.5 70.6L60.4 68.0L60.4 68.0L58.2 70.4L56.1 73.1L54.1 76.1L52.1 79.5L50.3 83.1L48.6 87.1L47.0 91.5L45.5 96.1L44.2 101.0L43.0 106.3L41.9 111.9L40.9 117.7ZM33.7 117.7L33.1 112.0L32.4 106.6L31.6 101.5L30.7 96.6L29.7 92.0L28.6 87.7L27.3 83.7L26.0 80.0L24.6 76.5L23.2 73.4L21.7 70.5L20.1 68.0L20.1 68.0L21.4 70.7L22.6 73.6L23.8 76.9L25.0 80.3L26.1 84.1L27.2 88.1L28.2 92.4L29.3 96.9L30.3 101.7L31.3 106.8L32.3 112.1L33.3 117.8ZM42.7 117.7L42.4 109.5L42.1 101.5L41.7 93.8L41.2 86.3L40.6 79.1L39.9 72.2L39.2 65.6L38.4 59.3L37.5 53.2L36.6 47.4L35.6 41.8L34.7 36.6L34.6 36.6L35.3 41.9L36.0 47.5L36.6 53.3L37.3 59.4L37.9 65.7L38.5 72.4L39.1 79.3L39.7 86.4L40.3 93.9L41.0 101.6L41.6 109.5L42.3 117.8ZM32.6 117.8L33.5 109.1L34.3 100.7L35.2 92.6L36.1 84.7L36.9 77.2L37.8 69.9L38.7 62.9L39.6 56.2L40.6 49.7L41.5 43.6L42.6 37.7L43.6 32.1L43.6 32.1L42.2 37.6L40.9 43.5L39.7 49.6L38.5 56.0L37.4 62.7L36.4 69.7L35.5 77.0L34.6 84.6L33.9 92.4L33.2 100.6L32.7 109.0L32.2 117.7ZM43.1 117.7L42.3 111.0L41.5 104.6L40.5 98.3L39.4 92.3L38.1 86.5L36.8 80.9L35.4 75.6L33.8 70.5L32.2 65.6L30.5 60.9L28.7 56.5L26.8 52.3L26.8 52.3L28.4 56.6L29.9 61.1L31.4 65.8L32.8 70.8L34.2 75.9L35.5 81.3L36.8 86.8L38.0 92.6L39.3 98.6L40.5 104.7L41.6 111.2L42.7 117.8ZM32.2 117.8L33.4 111.4L34.7 105.2L36.0 99.2L37.4 93.5L38.9 87.9L40.3 82.5L41.8 77.4L43.4 72.4L45.0 67.6L46.7 63.1L48.5 58.7L50.3 54.5L50.3 54.5L48.2 58.6L46.2 62.8L44.3 67.3L42.4 72.1L40.7 77.0L39.0 82.2L37.5 87.5L36.1 93.1L34.8 99.0L33.7 105.0L32.7 111.3L31.7 117.7ZM37.8 117.8L38.2 110.0L38.7 102.4L39.1 95.2L39.5 88.1L39.9 81.4L40.3 74.9L40.6 68.6L41.0 62.6L41.4 56.8L41.7 51.3L42.1 46.1L42.5 41.1L42.5 41.1L41.8 46.0L41.2 51.3L40.6 56.8L40.0 62.5L39.5 68.5L39.0 74.8L38.5 81.3L38.2 88.1L37.9 95.1L37.7 102.4L37.5 109.9L37.3 117.8Z" fill="#b7b4a7" stroke="#b4b1a4" stroke-width="0.12"/><path d="M36.2 117.8 Q32.4 68.0 27.5 37.7M38.5 117.8 Q41.4 68.0 45.2 32.1" fill="none" stroke="#a29f92" stroke-width="0.8"/><path d="M27.5 37.7 Q11.1 7.4 1.2 27.6M27.5 37.7 Q12.2 14.2 4.4 35.5M27.2 37.7 Q14.5 18.7 7.7 42.2M26.8 37.7 Q16.7 23.1 11.1 48.9M26.8 37.7 Q22.3 27.6 20.1 42.2M45.2 32.1 Q55.9 -3.8 75.2 17.5M45.2 32.1 Q57.1 3.0 72.8 24.3M45.2 32.1 Q57.1 9.7 68.3 29.9M45.2 32.1 Q55.9 15.3 63.8 35.5M45.2 32.1 Q51.5 20.9 58.6 40.0M45.2 32.1 Q47.0 25.4 51.5 34.3" fill="none" stroke="#bab7aa" stroke-width="1.9" stroke-linecap="round" stroke-dasharray="1.3 0.45" stroke-dashoffset="-3"/><path d="M27.5 37.7 Q11.1 7.4 1.2 27.6M27.5 37.7 Q12.2 14.2 4.4 35.5M27.2 37.7 Q14.5 18.7 7.7 42.2M26.8 37.7 Q16.7 23.1 11.1 48.9M26.8 37.7 Q22.3 27.6 20.1 42.2M45.2 32.1 Q55.9 -3.8 75.2 17.5M45.2 32.1 Q57.1 3.0 72.8 24.3M45.2 32.1 Q57.1 9.7 68.3 29.9M45.2 32.1 Q55.9 15.3 63.8 35.5M45.2 32.1 Q51.5 20.9 58.6 40.0M45.2 32.1 Q47.0 25.4 51.5 34.3" fill="none" stroke="#a3a094" stroke-width="0.4"/><ellipse cx="37.6" cy="118.0" rx="7" ry="1.2" fill="#a8a598"/></g></svg>
<div class="t cn" style="left:1599.29px;top:67.19px"><span id="cn9" style="letter-spacing:-0.230px">Switchgrass</span></div>
<div class="t sn" style="left:1599.29px;top:107.17px"><span id="sn9_0" style="letter-spacing:-0.400px">(<i>P.</i></span></div>
<div class="t sn" style="left:1599.29px;top:138.57px"><span id="sn9_1" style="letter-spacing:0.950px"><i>virgatum</i>)</span></div>
<svg class="im" style="left:1709.29px" width="80" height="120" viewBox="0 0 80 120" ><defs><filter id="sf" x="-5%" y="-5%" width="110%" height="110%"><feGaussianBlur stdDeviation="0.30"/></filter></defs><g filter="url(#sf)"><path d="M36.3 116.1L34.9 108.7L33.4 101.6L31.7 95.0L29.8 88.7L27.7 82.9L25.4 77.6L22.9 72.6L20.3 68.1L17.4 64.1L14.5 60.4L11.4 57.3L8.1 54.5L8.1 54.5L11.1 57.6L13.9 61.0L16.5 64.7L19.0 68.9L21.4 73.4L23.7 78.3L25.9 83.7L28.0 89.4L30.0 95.5L32.0 102.0L33.9 108.9L35.7 116.3ZM36.3 116.1L34.9 110.3L33.2 104.9L31.4 99.8L29.4 95.2L27.1 90.9L24.6 87.0L22.0 83.6L19.1 80.5L16.1 77.9L13.0 75.7L9.7 73.9L6.3 72.5L6.3 72.5L9.5 74.2L12.5 76.3L15.4 78.8L18.1 81.5L20.6 84.6L23.1 88.1L25.4 91.9L27.6 96.0L29.8 100.5L31.9 105.4L33.9 110.6L35.7 116.3ZM37.5 116.1L36.0 111.6L34.4 107.4L32.6 103.5L30.5 100.0L28.2 96.9L25.8 94.2L23.1 91.8L20.3 89.9L17.3 88.3L14.2 87.1L11.0 86.3L7.7 85.9L7.7 85.9L10.9 86.8L13.9 87.9L16.8 89.3L19.5 91.1L22.0 93.2L24.4 95.5L26.7 98.2L28.9 101.1L31.0 104.4L33.1 108.0L35.0 112.0L36.9 116.3ZM36.5 116.1L35.2 113.0L33.8 110.1L32.1 107.6L30.3 105.3L28.2 103.4L26.0 101.9L23.6 100.6L21.0 99.7L18.4 99.2L15.7 98.9L12.8 99.0L9.9 99.4L9.9 99.4L12.9 99.4L15.6 99.7L18.2 100.3L20.6 101.1L22.8 102.2L25.0 103.4L27.0 105.0L28.9 106.7L30.8 108.7L32.6 110.9L34.3 113.5L36.0 116.3ZM37.9 116.0L37.1 114.2L36.1 112.5L35.0 111.0L33.6 109.8L32.1 108.8L30.5 108.1L28.8 107.6L27.0 107.4L25.2 107.4L23.3 107.6L21.3 108.1L19.3 108.8L19.4 108.8L21.4 108.5L23.4 108.5L25.2 108.6L26.8 108.8L28.4 109.2L29.8 109.8L31.2 110.5L32.5 111.3L33.7 112.3L35.0 113.4L36.2 114.8L37.4 116.3ZM46.0 116.3L47.9 109.7L49.9 103.6L52.0 97.8L54.2 92.4L56.4 87.3L58.7 82.6L61.2 78.2L63.7 74.1L66.4 70.4L69.3 67.0L72.3 64.0L75.4 61.3L75.4 61.2L72.0 63.7L68.7 66.5L65.5 69.7L62.6 73.3L59.7 77.3L57.1 81.7L54.6 86.5L52.4 91.6L50.3 97.2L48.5 103.2L46.9 109.5L45.5 116.1ZM44.9 116.3L46.8 111.2L48.8 106.5L50.9 102.2L53.1 98.2L55.4 94.5L57.8 91.1L60.3 88.0L62.9 85.2L65.7 82.7L68.6 80.5L71.7 78.6L75.0 77.0L75.0 76.9L71.5 78.2L68.2 79.8L65.0 81.7L61.9 84.1L59.0 86.8L56.3 89.9L53.8 93.4L51.4 97.2L49.3 101.4L47.5 106.0L45.8 110.9L44.3 116.1ZM45.6 116.3L47.4 112.6L49.2 109.3L51.2 106.3L53.2 103.5L55.4 101.0L57.5 98.7L59.8 96.7L62.3 94.9L64.9 93.4L67.6 92.1L70.5 91.1L73.6 90.4L73.6 90.4L70.4 90.7L67.3 91.4L64.4 92.4L61.5 93.7L58.8 95.3L56.3 97.3L53.9 99.6L51.7 102.3L49.7 105.3L48.0 108.6L46.4 112.2L45.0 116.1ZM45.5 116.3L47.1 114.0L48.8 111.9L50.6 110.0L52.4 108.4L54.3 106.9L56.2 105.6L58.3 104.5L60.5 103.6L62.9 102.9L65.4 102.4L68.1 102.1L70.9 102.1L70.9 102.1L68.1 101.7L65.3 101.6L62.7 101.8L60.1 102.2L57.6 103.0L55.3 104.0L53.1 105.3L51.1 106.9L49.3 108.8L47.7 111.0L46.2 113.4L45.0 116.0ZM44.7 116.3L45.8 114.9L47.0 113.7L48.2 112.7L49.4 111.9L50.7 111.1L51.9 110.5L53.3 110.0L54.8 109.6L56.4 109.3L58.1 109.2L60.0 109.2L61.9 109.5L62.0 109.5L60.0 108.8L58.2 108.4L56.4 108.1L54.6 108.1L52.9 108.3L51.3 108.7L49.7 109.4L48.3 110.3L47.0 111.4L45.9 112.8L45.0 114.3L44.2 116.0ZM36.2 116.1L35.3 107.8L34.2 99.7L33.0 92.0L31.6 84.7L30.0 77.7L28.2 71.1L26.3 64.8L24.3 58.9L22.1 53.3L19.8 48.1L17.4 43.3L14.9 38.8L14.9 38.8L17.0 43.5L19.1 48.4L21.0 53.7L22.9 59.4L24.7 65.3L26.4 71.6L28.0 78.2L29.7 85.1L31.2 92.4L32.8 100.0L34.3 107.9L35.7 116.2ZM37.8 116.2L37.1 108.5L36.3 101.2L35.4 94.2L34.4 87.5L33.2 81.1L31.9 75.0L30.4 69.3L28.8 63.9L27.2 58.8L25.4 54.1L23.5 49.6L21.6 45.6L21.6 45.6L23.2 49.8L24.6 54.3L26.1 59.2L27.4 64.3L28.8 69.7L30.0 75.4L31.3 81.5L32.5 87.8L33.7 94.4L34.9 101.4L36.0 108.6L37.2 116.2ZM38.1 116.2L37.8 109.0L37.4 102.2L37.0 95.6L36.4 89.3L35.7 83.4L34.9 77.7L33.9 72.3L33.0 67.3L31.9 62.5L30.8 58.0L29.6 53.9L28.3 50.0L28.3 50.0L29.2 54.0L30.0 58.2L30.8 62.7L31.5 67.5L32.3 72.6L33.0 78.0L33.7 83.6L34.4 89.5L35.2 95.8L36.0 102.3L36.8 109.1L37.5 116.2ZM43.5 116.2L44.3 109.1L45.1 102.3L45.9 95.8L46.7 89.6L47.4 83.6L48.1 78.0L48.9 72.6L49.7 67.5L50.4 62.7L51.3 58.2L52.1 54.0L53.0 50.0L53.0 50.0L51.7 53.9L50.5 58.0L49.3 62.5L48.2 67.3L47.2 72.3L46.3 77.7L45.4 83.4L44.7 89.3L44.1 95.6L43.6 102.2L43.2 109.0L42.9 116.2ZM44.4 116.2L45.7 109.4L46.9 102.8L48.3 96.5L49.6 90.6L51.0 84.8L52.4 79.4L53.8 74.2L55.3 69.3L56.8 64.6L58.5 60.3L60.2 56.1L62.0 52.3L61.9 52.3L59.8 56.0L57.7 59.9L55.8 64.2L53.9 68.8L52.2 73.7L50.5 78.9L49.0 84.4L47.7 90.1L46.5 96.2L45.5 102.6L44.6 109.2L43.9 116.1ZM43.5 116.2L45.1 108.6L46.7 101.3L48.5 94.4L50.3 87.9L52.2 81.7L54.1 75.8L56.1 70.3L58.1 65.1L60.3 60.3L62.6 55.8L65.0 51.6L67.6 47.8L67.5 47.8L64.7 51.4L61.9 55.4L59.3 59.8L56.8 64.5L54.5 69.7L52.3 75.2L50.3 81.1L48.4 87.4L46.8 94.0L45.3 101.0L44.0 108.4L42.9 116.1ZM38.3 116.1L37.1 109.9L35.8 103.9L34.2 98.4L32.5 93.2L30.6 88.4L28.5 84.0L26.2 80.0L23.7 76.3L21.1 73.1L18.4 70.2L15.6 67.8L12.6 65.7L12.6 65.7L15.3 68.1L17.8 70.8L20.2 73.8L22.5 77.1L24.7 80.8L26.8 84.8L28.7 89.2L30.7 93.9L32.6 98.9L34.4 104.3L36.1 110.1L37.7 116.3ZM46.3 116.3L47.8 110.4L49.5 104.9L51.2 99.7L52.9 94.9L54.7 90.4L56.6 86.2L58.5 82.4L60.6 78.9L62.7 75.7L64.9 72.8L67.3 70.2L69.8 68.0L69.8 68.0L67.0 69.9L64.3 72.3L61.8 75.0L59.3 78.1L57.1 81.6L54.9 85.4L52.9 89.6L51.1 94.2L49.5 99.2L48.1 104.5L46.8 110.1L45.7 116.1ZM38.1 116.1L37.1 111.1L36.1 106.3L34.8 101.9L33.4 97.9L31.9 94.2L30.1 90.9L28.2 88.0L26.2 85.5L24.1 83.3L21.8 81.5L19.5 80.2L17.1 79.2L17.1 79.2L19.3 80.5L21.3 82.2L23.3 84.1L25.1 86.4L26.8 89.0L28.5 91.9L30.1 95.1L31.6 98.6L33.2 102.5L34.7 106.7L36.1 111.3L37.5 116.3ZM44.5 116.3L45.9 111.9L47.3 107.9L48.7 104.2L50.2 100.8L51.7 97.7L53.2 94.9L54.8 92.4L56.5 90.1L58.3 88.1L60.1 86.4L62.1 84.9L64.2 83.7L64.2 83.7L61.9 84.5L59.6 85.7L57.5 87.2L55.4 89.1L53.5 91.3L51.6 93.9L49.9 96.8L48.4 100.0L47.1 103.6L45.9 107.5L44.9 111.7L44.0 116.1ZM37.7 116.2L37.1 109.9L36.5 104.0L35.8 98.4L34.9 93.1L33.9 88.0L32.7 83.3L31.5 78.8L30.1 74.7L28.7 70.9L27.1 67.4L25.5 64.1L23.8 61.3L23.8 61.3L25.1 64.3L26.4 67.7L27.6 71.3L28.7 75.1L29.8 79.3L30.9 83.7L31.9 88.4L33.0 93.4L34.0 98.7L35.1 104.2L36.1 110.1L37.1 116.2ZM42.0 116.2L43.1 110.4L44.3 104.8L45.4 99.4L46.6 94.4L47.9 89.6L49.1 85.1L50.3 80.9L51.6 76.9L53.0 73.1L54.4 69.7L55.9 66.5L57.5 63.5L57.5 63.5L55.5 66.3L53.7 69.3L51.9 72.7L50.3 76.4L48.7 80.3L47.3 84.6L45.9 89.1L44.7 94.0L43.7 99.1L42.8 104.5L42.1 110.2L41.4 116.1ZM39.8 116.2L39.6 109.7L39.3 103.6L38.9 97.7L38.5 92.1L37.9 86.7L37.2 81.6L36.4 76.8L35.6 72.2L34.7 68.0L33.8 64.0L32.8 60.2L31.7 56.8L31.7 56.8L32.3 60.3L33.0 64.1L33.6 68.2L34.2 72.5L34.8 77.0L35.3 81.8L35.9 86.9L36.5 92.3L37.2 97.9L37.8 103.7L38.5 109.8L39.2 116.2ZM41.0 116.2L41.7 109.9L42.5 104.0L43.2 98.2L43.9 92.7L44.6 87.5L45.3 82.5L46.0 77.8L46.7 73.3L47.4 69.1L48.1 65.1L48.8 61.4L49.6 57.9L49.6 57.9L48.4 61.3L47.3 64.9L46.2 68.8L45.2 73.0L44.3 77.5L43.4 82.2L42.7 87.2L42.0 92.5L41.5 98.0L41.0 103.8L40.7 109.9L40.4 116.2ZM39.6 116.2L39.8 109.3L39.8 102.7L39.9 96.4L39.8 90.3L39.7 84.6L39.4 79.1L39.2 73.9L38.9 69.0L38.5 64.4L38.1 60.1L37.7 56.0L37.3 52.3L37.3 52.3L37.3 56.1L37.3 60.1L37.4 64.5L37.4 69.1L37.5 74.0L37.6 79.2L37.7 84.6L37.8 90.4L38.1 96.4L38.4 102.7L38.7 109.3L39.0 116.2ZM40.8 116.2L41.2 109.4L41.7 102.8L42.1 96.6L42.5 90.6L42.8 84.9L43.1 79.4L43.3 74.3L43.5 69.4L43.8 64.8L44.0 60.5L44.2 56.5L44.5 52.7L44.5 52.7L43.8 56.4L43.2 60.5L42.6 64.7L42.1 69.3L41.6 74.2L41.2 79.3L40.8 84.8L40.5 90.5L40.3 96.5L40.2 102.8L40.2 109.3L40.2 116.2ZM37.0 116.1L36.4 112.4L35.6 109.0L34.8 105.9L33.8 103.1L32.6 100.7L31.3 98.5L29.9 96.7L28.3 95.2L26.7 94.0L25.0 93.2L23.3 92.7L21.6 92.6L21.6 92.7L23.2 93.2L24.7 93.9L26.1 94.9L27.3 96.2L28.6 97.7L29.7 99.5L30.9 101.6L32.0 103.9L33.1 106.5L34.3 109.5L35.4 112.7L36.4 116.3ZM43.5 116.3L44.6 113.1L45.8 110.2L47.0 107.5L48.3 105.2L49.5 103.1L50.7 101.2L52.0 99.6L53.3 98.2L54.8 97.0L56.3 96.1L57.9 95.4L59.7 94.9L59.7 94.9L57.8 95.0L56.0 95.3L54.2 96.0L52.4 97.1L50.8 98.4L49.2 100.1L47.8 102.0L46.5 104.3L45.4 106.8L44.5 109.7L43.6 112.8L42.9 116.1ZM38.9 116.1L38.5 113.4L38.0 110.9L37.3 108.6L36.6 106.6L35.7 104.9L34.7 103.5L33.5 102.4L32.3 101.6L31.0 101.1L29.7 101.0L28.4 101.1L27.2 101.6L27.2 101.6L28.5 101.6L29.6 101.8L30.6 102.2L31.5 102.8L32.4 103.6L33.2 104.7L34.0 106.0L34.8 107.5L35.7 109.3L36.6 111.3L37.5 113.6L38.3 116.3ZM43.7 116.3L44.6 113.8L45.4 111.7L46.2 109.8L47.0 108.2L47.8 106.8L48.6 105.6L49.3 104.6L50.1 103.9L50.9 103.3L51.8 102.9L52.9 102.7L54.1 102.7L54.1 102.7L52.9 102.3L51.7 102.1L50.5 102.2L49.3 102.7L48.2 103.4L47.1 104.4L46.1 105.7L45.3 107.3L44.6 109.2L44.0 111.3L43.5 113.6L43.2 116.1ZM40.1 116.2L40.0 111.0L39.8 106.0L39.6 101.2L39.3 96.6L38.8 92.2L38.3 88.1L37.7 84.2L37.1 80.5L36.3 77.0L35.6 73.8L34.8 70.8L33.9 68.0L33.9 68.0L34.4 70.9L34.8 74.0L35.2 77.2L35.6 80.7L36.0 84.4L36.4 88.3L36.8 92.5L37.3 96.8L37.8 101.3L38.4 106.1L38.9 111.0L39.5 116.2ZM42.3 116.2L42.8 111.0L43.3 106.1L43.8 101.3L44.3 96.8L44.7 92.5L45.1 88.3L45.5 84.4L45.9 80.7L46.2 77.2L46.6 73.9L47.0 70.9L47.4 68.0L47.4 68.0L46.6 70.8L45.8 73.8L45.1 77.1L44.4 80.5L43.8 84.2L43.2 88.1L42.8 92.3L42.4 96.6L42.1 101.2L41.9 106.0L41.7 111.0L41.7 116.2ZM36.9 116.1L35.7 108.3L34.4 100.8L32.8 93.7L31.2 87.0L29.3 80.7L27.2 74.8L24.9 69.3L22.5 64.2L20.0 59.5L17.3 55.2L14.5 51.3L11.5 47.8L11.5 47.8L14.1 51.5L16.6 55.6L19.0 60.0L21.2 64.8L23.4 70.0L25.4 75.5L27.4 81.4L29.3 87.6L31.1 94.2L32.9 101.1L34.7 108.5L36.3 116.2ZM45.8 116.2L47.5 109.0L49.3 102.1L51.2 95.6L53.1 89.4L55.2 83.7L57.2 78.3L59.4 73.2L61.7 68.5L64.1 64.2L66.6 60.3L69.3 56.7L72.0 53.4L72.0 53.4L68.9 56.4L66.0 59.8L63.1 63.6L60.4 67.8L57.9 72.5L55.5 77.5L53.3 83.0L51.3 88.8L49.5 95.1L47.9 101.7L46.5 108.7L45.2 116.1ZM37.9 116.1L37.1 109.3L36.1 102.7L35.1 96.4L33.9 90.5L32.5 84.8L31.0 79.5L29.3 74.6L27.6 69.9L25.7 65.6L23.7 61.5L21.6 57.9L19.4 54.5L19.3 54.5L21.2 58.1L22.9 61.9L24.6 66.0L26.2 70.4L27.7 75.1L29.2 80.1L30.6 85.4L32.0 90.9L33.4 96.8L34.7 103.0L36.0 109.4L37.3 116.2ZM43.5 116.2L44.8 110.1L46.2 104.3L47.7 98.8L49.2 93.5L50.7 88.5L52.2 83.8L53.8 79.4L55.5 75.2L57.3 71.3L59.1 67.7L61.0 64.4L63.1 61.3L63.1 61.2L60.7 64.1L58.4 67.3L56.2 70.8L54.2 74.6L52.3 78.7L50.5 83.2L48.8 87.9L47.3 93.0L46.0 98.3L44.8 104.0L43.8 109.9L42.9 116.1ZM38.0 116.1L36.7 110.9L35.2 106.1L33.6 101.6L31.7 97.5L29.6 93.8L27.3 90.5L24.8 87.6L22.2 85.1L19.4 83.0L16.5 81.3L13.5 80.0L10.4 79.2L10.4 79.2L13.3 80.4L16.1 82.0L18.7 83.9L21.2 86.1L23.5 88.7L25.8 91.6L27.9 94.8L30.0 98.4L32.0 102.3L33.9 106.6L35.7 111.2L37.5 116.3ZM46.7 116.3L48.3 111.8L50.0 107.6L51.9 103.8L53.7 100.3L55.7 97.2L57.6 94.3L59.7 91.8L61.9 89.6L64.2 87.7L66.7 86.0L69.3 84.7L72.0 83.7L72.0 83.7L69.1 84.3L66.3 85.3L63.6 86.7L61.0 88.5L58.5 90.6L56.2 93.2L54.0 96.1L52.0 99.4L50.3 103.1L48.7 107.1L47.3 111.4L46.1 116.1ZM40.5 116.2L40.1 107.8L39.8 99.8L39.3 92.1L38.7 84.8L38.0 77.8L37.2 71.2L36.2 64.9L35.2 59.0L34.2 53.4L33.0 48.2L31.8 43.3L30.6 38.8L30.6 38.8L31.4 43.4L32.2 48.4L33.0 53.6L33.8 59.2L34.6 65.2L35.3 71.4L36.0 78.1L36.8 85.0L37.5 92.3L38.3 99.9L39.1 107.9L39.9 116.2ZM42.9 116.2L43.6 108.1L44.3 100.4L45.0 93.0L45.7 85.9L46.3 79.1L46.9 72.7L47.5 66.6L48.1 60.9L48.7 55.4L49.4 50.3L50.0 45.5L50.7 41.1L50.7 41.1L49.6 45.5L48.6 50.2L47.6 55.3L46.7 60.7L45.8 66.4L45.0 72.5L44.3 79.0L43.7 85.7L43.2 92.8L42.8 100.3L42.6 108.1L42.3 116.2ZM40.5 116.2L40.7 108.6L40.9 101.3L41.1 94.3L41.3 87.6L41.3 81.3L41.3 75.2L41.2 69.5L41.2 64.1L41.1 59.0L40.9 54.2L40.8 49.7L40.7 45.6L40.6 45.6L40.4 49.7L40.1 54.2L39.9 59.0L39.7 64.1L39.5 69.5L39.4 75.2L39.3 81.3L39.3 87.6L39.4 94.3L39.5 101.3L39.7 108.6L39.9 116.2ZM38.0 116.1L37.5 110.9L37.0 105.9L36.3 101.2L35.4 96.7L34.5 92.6L33.4 88.8L32.2 85.3L30.9 82.1L29.5 79.2L28.1 76.6L26.6 74.4L25.0 72.5L24.9 72.5L26.2 74.6L27.4 77.0L28.5 79.7L29.6 82.6L30.6 85.9L31.6 89.3L32.6 93.1L33.5 97.2L34.5 101.5L35.5 106.1L36.5 111.0L37.4 116.2ZM42.6 116.2L43.6 111.3L44.6 106.6L45.7 102.3L46.8 98.2L47.9 94.3L48.9 90.8L50.0 87.5L51.2 84.4L52.4 81.6L53.6 79.1L55.0 76.8L56.4 74.7L56.3 74.7L54.6 76.5L53.0 78.6L51.4 81.1L49.9 83.8L48.5 86.8L47.2 90.2L46.0 93.8L44.9 97.7L44.0 101.9L43.2 106.4L42.5 111.1L42.0 116.1ZM36.1 116.1L35.1 112.1L34.0 108.5L32.7 105.2L31.2 102.2L29.6 99.6L27.7 97.4L25.8 95.6L23.7 94.2L21.4 93.2L19.2 92.6L16.8 92.5L14.4 92.6L14.4 92.7L16.8 92.9L19.0 93.4L21.0 94.3L22.9 95.5L24.7 96.9L26.3 98.7L28.0 100.8L29.6 103.2L31.1 105.9L32.7 109.0L34.1 112.5L35.5 116.3ZM45.3 116.3L46.7 113.0L48.2 110.1L49.8 107.5L51.4 105.2L53.0 103.1L54.6 101.3L56.4 99.8L58.2 98.5L60.1 97.5L62.2 96.7L64.5 96.2L66.9 96.0L66.9 96.0L64.4 95.8L62.1 95.9L59.8 96.4L57.5 97.2L55.4 98.4L53.4 100.0L51.5 101.8L49.8 104.1L48.3 106.6L46.9 109.5L45.8 112.6L44.8 116.1ZM39.6 116.2L39.4 112.8L39.2 109.6L39.0 106.5L38.6 103.7L38.1 101.0L37.5 98.6L36.9 96.4L36.2 94.3L35.4 92.5L34.6 90.8L33.7 89.4L32.8 88.2L32.8 88.2L33.3 89.6L33.8 91.1L34.3 92.8L34.8 94.7L35.2 96.8L35.7 99.0L36.2 101.4L36.7 104.0L37.2 106.8L37.8 109.7L38.4 112.9L39.0 116.2ZM43.0 116.2L43.5 112.9L44.1 109.7L44.6 106.8L45.1 104.0L45.6 101.4L46.0 99.0L46.4 96.8L46.8 94.7L47.2 92.8L47.6 91.1L48.0 89.6L48.5 88.2L48.5 88.2L47.7 89.4L46.9 90.8L46.1 92.5L45.4 94.3L44.7 96.4L44.1 98.6L43.6 101.1L43.2 103.7L42.9 106.5L42.6 109.6L42.5 112.8L42.4 116.2ZM36.2 116.1L35.0 109.4L33.5 103.1L31.9 97.2L30.1 91.7L28.1 86.6L25.9 81.9L23.5 77.6L20.9 73.7L18.2 70.2L15.3 67.2L12.4 64.6L9.3 62.4L9.3 62.4L12.1 64.9L14.7 67.7L17.3 70.9L19.7 74.5L22.0 78.4L24.2 82.7L26.2 87.4L28.3 92.4L30.2 97.8L32.1 103.5L33.9 109.7L35.7 116.3ZM46.9 116.3L48.6 110.4L50.5 104.9L52.5 99.8L54.5 95.0L56.6 90.6L58.8 86.5L61.0 82.8L63.4 79.4L65.9 76.3L68.5 73.6L71.3 71.2L74.3 69.1L74.3 69.1L71.1 70.8L68.0 73.0L65.1 75.5L62.3 78.5L59.6 81.8L57.1 85.6L54.8 89.7L52.7 94.2L50.8 99.2L49.1 104.5L47.6 110.1L46.3 116.1ZM38.4 116.1L37.4 108.7L36.3 101.5L34.9 94.7L33.5 88.3L31.8 82.2L29.9 76.5L27.9 71.2L25.8 66.2L23.5 61.6L21.1 57.4L18.6 53.5L16.0 50.0L16.0 50.1L18.3 53.8L20.4 57.8L22.5 62.1L24.5 66.8L26.4 71.8L28.2 77.1L29.9 82.8L31.6 88.8L33.2 95.1L34.8 101.8L36.4 108.8L37.8 116.2ZM43.1 116.2L44.5 109.4L46.1 102.9L47.7 96.7L49.4 90.9L51.1 85.4L52.9 80.2L54.7 75.3L56.6 70.8L58.7 66.5L60.8 62.6L63.0 59.0L65.3 55.7L65.3 55.6L62.6 58.7L60.1 62.2L57.6 66.0L55.3 70.1L53.2 74.7L51.1 79.5L49.2 84.8L47.5 90.4L46.0 96.3L44.7 102.6L43.5 109.2L42.5 116.1ZM36.2 116.0L35.1 113.5L33.8 111.1L32.4 109.0L30.7 107.2L28.8 105.7L26.8 104.5L24.7 103.6L22.4 103.1L20.1 102.9L17.7 102.9L15.2 103.2L12.6 103.8L12.6 103.9L15.2 103.7L17.7 103.7L20.0 104.0L22.1 104.5L24.1 105.2L25.9 106.2L27.7 107.3L29.4 108.6L31.0 110.2L32.6 112.0L34.2 114.0L35.7 116.3ZM45.9 116.3L47.4 114.5L48.9 112.9L50.5 111.4L52.1 110.2L53.8 109.1L55.5 108.2L57.3 107.4L59.3 106.8L61.4 106.3L63.7 106.1L66.1 106.0L68.7 106.1L68.7 106.1L66.1 105.6L63.7 105.2L61.3 105.2L59.0 105.3L56.8 105.8L54.7 106.4L52.7 107.4L50.9 108.6L49.3 110.1L47.8 111.9L46.5 113.9L45.4 116.0Z" fill="#c1c1c1" stroke="#bcbcbc" stroke-width="0.2"/><path d="M39.4 50.2L35.3 45.7L31.4 41.2L27.8 36.8L24.5 32.6L21.4 28.3L21.8 25.1L24.0 22.3L26.1 19.6L28.3 16.8L30.6 14.1L32.9 11.3L35.2 8.6L37.8 6.0L39.8 3.2L41.5 3.2L43.5 6.0L46.1 8.6L48.4 11.3L50.7 14.1L53.0 16.8L55.2 19.6L57.3 22.3L59.5 25.1L59.9 28.3L56.8 32.6L53.5 36.8L49.9 41.2L46.0 45.7L41.9 50.2ZM18.4 61.1L16.9 58.6L15.5 56.1L14.2 53.7L12.9 51.3L11.8 48.9L10.9 46.5L11.8 44.7L12.7 42.9L13.7 41.1L14.6 39.2L15.6 37.4L16.6 35.6L17.7 33.8L18.6 32.0L19.2 32.0L20.1 33.8L21.2 35.6L22.2 37.4L23.2 39.2L24.1 41.1L25.1 42.9L26.0 44.7L26.9 46.5L26.0 48.9L24.9 51.3L23.6 53.7L22.3 56.1L20.9 58.6L19.4 61.1ZM60.6 66.1L59.1 63.6L57.6 61.2L56.3 58.8L55.1 56.4L53.9 54.0L53.1 51.8L54.0 50.0L54.9 48.2L55.8 46.4L56.8 44.7L57.7 42.9L58.8 41.1L59.8 39.4L60.7 37.6L61.4 37.6L62.3 39.4L63.3 41.1L64.4 42.9L65.3 44.7L66.3 46.4L67.2 48.2L68.1 50.0L69.0 51.8L68.2 54.0L67.0 56.4L65.8 58.8L64.5 61.2L63.0 63.6L61.5 66.1Z" fill="#dcdcdc" opacity="0.5"/><path d="M40.7 50.5 L40.7 3.4M59.4 28.4 l1.3 -2.3M42.2 47.1 l1.7 -3.0M26.5 37.8 l-1.2 -2.2M41.5 5.1 l1.0 -1.8M28.0 38.9 l-0.9 -1.7M35.3 13.0 l-1.4 -2.6M28.1 29.4 l-1.6 -2.9M43.4 44.3 l1.0 -1.8M28.5 30.7 l-1.1 -2.1M41.5 4.8 l1.2 -2.1M37.8 8.8 l-1.3 -2.3M42.4 10.3 l1.0 -1.8M40.1 3.9 l-1.1 -2.1M37.5 14.1 l-1.2 -2.1M35.7 47.0 l-1.5 -2.6M43.8 39.1 l1.2 -2.3M59.1 29.2 l1.4 -2.5M52.4 23.4 l1.1 -1.9M49.6 43.2 l1.7 -3.1M30.7 38.7 l-1.6 -2.9M39.0 6.2 l-1.8 -3.3M41.7 9.0 l1.3 -2.4M33.3 45.6 l-1.8 -3.3M47.0 39.3 l1.1 -2.1M42.0 11.7 l1.2 -2.1M46.0 42.2 l0.9 -1.7M42.4 39.7 l1.7 -3.1M34.2 21.6 l-1.8 -3.3M27.4 40.9 l-1.1 -2.1M22.8 29.5 l-1.1 -1.9M43.8 33.1 l1.0 -1.8M57.6 33.4 l1.9 -3.4M45.7 19.6 l1.5 -2.7M31.2 43.9 l-0.9 -1.6M42.2 7.6 l1.8 -3.3M41.3 49.5 l1.4 -2.5M36.8 16.1 l-1.9 -3.4M41.2 46.9 l1.6 -2.9M42.7 8.1 l1.6 -2.9M47.6 13.1 l1.2 -2.2M50.5 18.2 l1.7 -3.2M53.0 30.9 l1.7 -3.2M44.7 23.5 l1.3 -2.3M44.1 23.1 l1.0 -1.7M54.3 20.4 l1.8 -3.2M38.3 16.2 l-1.6 -2.9M38.8 23.1 l-1.7 -3.1M44.0 46.5 l0.9 -1.7M40.1 22.2 l-1.1 -2.0M40.6 17.6 l-1.5 -2.7M38.9 7.2 l-0.9 -1.6M47.3 36.3 l1.1 -2.0M50.2 42.5 l1.5 -2.8M56.7 29.7 l1.2 -2.2M32.9 19.1 l-1.3 -2.4M47.2 12.5 l1.8 -3.2M44.4 32.4 l1.2 -2.2M40.6 44.1 l-1.7 -3.1M43.3 10.5 l1.8 -3.3M29.1 37.5 l-1.3 -2.4M30.7 37.5 l-1.3 -2.3M40.5 21.0 l-1.2 -2.2M47.1 11.0 l1.3 -2.4M34.9 47.0 l-1.7 -3.2M42.2 48.5 l1.4 -2.6M51.8 35.9 l0.9 -1.6M39.8 44.1 l-0.9 -1.6M37.0 11.4 l-1.0 -1.9M41.7 48.3 l1.3 -2.4M45.0 20.8 l1.7 -3.1M41.4 5.4 l1.1 -2.0M28.2 28.1 l-0.9 -1.6M49.0 28.3 l1.1 -1.9M35.3 37.7 l-1.6 -2.9M44.7 26.0 l1.6 -3.0M53.5 32.0 l1.8 -3.2M46.6 46.4 l1.6 -2.9M39.8 44.4 l-1.5 -2.7M39.7 7.6 l-1.4 -2.6M43.7 9.1 l1.8 -3.3M46.6 28.7 l1.1 -2.0M47.6 16.5 l1.5 -2.8M34.3 16.7 l-1.8 -3.2M41.6 4.3 l1.4 -2.6M37.6 13.3 l-1.8 -3.2M38.8 10.2 l-1.0 -1.7M42.7 29.7 l1.6 -3.0M22.8 27.5 l-1.7 -3.1M43.9 47.5 l1.1 -1.9M52.4 34.7 l1.0 -1.9M41.0 43.5 l1.6 -2.9M43.2 10.9 l1.8 -3.3M57.5 27.3 l1.0 -1.8M41.4 40.1 l1.2 -2.1M43.6 16.2 l1.4 -2.5M41.4 10.8 l1.2 -2.2M56.2 32.5 l1.8 -3.2M50.4 40.7 l1.8 -3.3M43.2 25.8 l1.1 -2.0M40.8 25.3 l1.5 -2.7M43.3 49.2 l1.4 -2.5M53.8 31.6 l1.4 -2.6M47.8 27.4 l0.9 -1.7M37.7 25.1 l-1.8 -3.3M39.1 7.0 l-1.3 -2.5M39.4 44.5 l-1.7 -3.1M40.4 8.1 l-1.2 -2.2M43.7 41.5 l1.8 -3.3M46.0 44.4 l0.9 -1.6M33.5 41.4 l-1.6 -2.8M34.9 35.3 l-1.5 -2.7M44.4 45.6 l1.0 -1.8M31.6 26.5 l-1.1 -2.0M38.4 25.5 l-1.3 -2.3M41.9 31.0 l1.0 -1.9M44.2 40.9 l1.5 -2.7M53.0 25.6 l1.5 -2.7M37.4 10.2 l-1.6 -2.9M46.9 12.3 l1.2 -2.2M57.0 35.7 l1.1 -2.0M41.3 3.5 l1.0 -1.8M47.7 39.2 l1.1 -2.1M45.7 45.9 l1.3 -2.4M34.3 13.3 l-1.3 -2.3M28.9 18.2 l-1.1 -2.0M50.8 18.4 l1.8 -3.3M40.7 45.1 l1.6 -3.0M47.5 26.8 l1.1 -1.9M36.0 47.2 l-0.9 -1.7M41.1 24.5 l1.4 -2.6M34.0 43.6 l-1.1 -2.0M47.2 10.9 l1.8 -3.3M34.1 46.0 l-1.8 -3.3M51.1 28.7 l1.2 -2.2M41.3 28.5 l1.3 -2.4M25.9 22.2 l-1.6 -2.9M36.5 10.7 l-1.3 -2.4M38.7 15.7 l-1.1 -2.0M40.9 42.7 l0.9 -1.6M43.4 8.4 l1.6 -2.9M42.2 10.0 l1.3 -2.3M40.8 22.3 l1.9 -3.4M36.8 12.6 l-1.8 -3.2M46.3 15.4 l1.7 -3.1M57.8 31.4 l1.8 -3.2M47.0 17.8 l1.6 -3.0M50.3 31.4 l0.9 -1.7M39.4 34.4 l-0.9 -1.6M46.6 33.7 l1.5 -2.7M54.1 39.6 l1.5 -2.8M47.2 34.6 l1.4 -2.6M36.8 25.4 l-1.9 -3.4M46.2 20.3 l1.6 -3.0M39.7 4.3 l-1.5 -2.7M35.6 15.7 l-1.3 -2.3M37.9 48.1 l-1.3 -2.3M36.8 45.9 l-1.8 -3.2M40.9 24.6 l1.8 -3.3M56.7 23.7 l1.5 -2.7M34.1 12.4 l-1.5 -2.7M31.9 14.7 l-1.8 -3.3M40.0 43.0 l-1.0 -1.9M44.8 27.2 l0.9 -1.7M40.2 6.0 l-1.4 -2.5M36.6 22.3 l-1.2 -2.1M42.3 19.6 l1.2 -2.1M36.1 16.8 l-0.9 -1.6M26.2 39.0 l-1.0 -1.9M38.5 15.0 l-1.8 -3.2M31.7 15.3 l-1.9 -3.4M38.5 6.0 l-1.8 -3.2M39.7 30.3 l-1.8 -3.4M41.4 39.0 l1.8 -3.3M40.0 16.5 l-1.8 -3.4M42.2 12.0 l1.0 -1.8M39.4 21.1 l-1.1 -2.0M40.9 48.0 l1.0 -1.8M47.5 29.6 l1.3 -2.4M43.4 38.2 l1.3 -2.4M41.2 13.9 l1.9 -3.4M41.7 5.6 l1.1 -2.0M47.4 45.1 l1.7 -3.0M36.6 21.1 l-1.1 -2.1M42.2 18.2 l1.5 -2.7M47.8 20.7 l1.1 -1.9M56.0 38.8 l1.8 -3.2M35.9 9.1 l-0.9 -1.7M38.1 37.7 l-1.5 -2.7M41.3 45.7 l1.0 -1.7M43.1 46.4 l1.4 -2.6M37.1 20.8 l-1.4 -2.5M36.3 40.6 l-1.6 -2.9M34.9 11.0 l-1.0 -1.8M42.6 12.4 l1.6 -3.0M38.5 40.5 l-1.1 -2.1M38.6 12.4 l-1.5 -2.8M40.3 3.9 l-1.4 -2.6M49.1 15.4 l1.3 -2.4M22.9 33.1 l-1.7 -3.2M35.3 46.8 l-1.4 -2.6M47.7 27.7 l1.2 -2.1M33.0 14.0 l-1.1 -2.0M29.7 19.3 l-1.2 -2.1M44.8 16.4 l1.2 -2.1M37.7 43.8 l-1.6 -2.9M23.9 33.2 l-1.6 -2.9M54.2 23.7 l1.8 -3.3M40.2 7.5 l-1.7 -3.0M33.8 36.1 l-1.3 -2.3M43.0 6.5 l1.1 -2.0M40.7 47.7 q-2.6 -0.5 -4.9 -2.1M40.7 47.7 q2.6 -0.5 4.9 -2.1M40.7 42.8 q-5.7 -0.5 -10.8 -4.6M40.7 42.8 q5.7 -0.5 10.8 -4.6M40.7 38.0 q-8.4 -0.5 -16.0 -6.7M40.7 38.0 q8.4 -0.5 16.0 -6.7M40.7 33.2 q-11.0 -0.5 -20.8 -8.8M40.7 33.2 q11.0 -0.5 20.8 -8.8M40.7 28.4 q-9.8 -0.5 -18.6 -7.8M40.7 28.4 q9.8 -0.5 18.6 -7.8M40.7 23.5 q-8.1 -0.5 -15.3 -6.4M40.7 23.5 q8.1 -0.5 15.3 -6.4M40.7 18.7 q-6.3 -0.5 -12.0 -5.0M40.7 18.7 q6.3 -0.5 12.0 -5.0M40.7 13.9 q-4.5 -0.5 -8.5 -3.6M40.7 13.9 q4.5 -0.5 8.5 -3.6M18.9 61.3 L18.9 32.1M16.8 50.7 l-1.2 -2.3M17.0 49.7 l-1.1 -2.0M23.0 44.8 l1.4 -2.6M19.3 36.9 l1.1 -1.9M22.0 39.1 l1.2 -2.1M18.9 60.6 l1.4 -2.6M25.3 44.7 l1.5 -2.8M16.0 37.8 l-1.4 -2.6M15.9 38.3 l-1.0 -1.7M22.4 39.8 l1.0 -1.8M14.7 42.8 l-1.6 -2.9M16.0 42.3 l-1.1 -2.0M19.1 38.9 l1.6 -3.0M16.1 49.8 l-1.8 -3.3M18.8 41.7 l-1.4 -2.6M20.8 40.2 l1.8 -3.2M24.7 49.3 l1.5 -2.8M20.5 36.4 l1.7 -3.1M20.8 35.4 l1.5 -2.8M22.1 46.0 l1.7 -3.0M17.5 49.0 l-1.0 -1.9M23.2 39.7 l1.3 -2.3M16.3 56.4 l-1.3 -2.4M25.2 52.7 l0.9 -1.7M13.5 52.3 l-1.5 -2.8M16.4 38.6 l-0.9 -1.7M20.3 47.9 l1.8 -3.2M17.9 60.2 l-1.1 -1.9M16.1 54.9 l-1.6 -2.9M15.3 43.9 l-1.1 -1.9M14.6 53.1 l-1.6 -3.0M19.6 52.2 l1.7 -3.1M15.0 47.3 l-1.8 -3.2M18.4 34.6 l-1.4 -2.6M18.9 33.4 l-1.1 -2.0M20.4 59.8 l1.7 -3.0M19.4 50.0 l1.4 -2.5M25.2 53.3 l1.5 -2.8M13.3 54.3 l-1.3 -2.5M23.7 50.4 l1.6 -2.9M14.5 43.6 l-1.0 -1.9M15.4 51.9 l-1.7 -3.2M21.0 46.2 l1.9 -3.4M19.3 53.5 l1.0 -1.9M15.0 38.8 l-1.7 -3.1M18.9 59.5 q-0.9 -0.5 -1.8 -0.8M18.9 59.5 q0.9 -0.5 1.8 -0.8M18.9 56.5 q-2.1 -0.5 -4.0 -1.7M18.9 56.5 q2.1 -0.5 4.0 -1.7M18.9 53.5 q-3.1 -0.5 -5.9 -2.5M18.9 53.5 q3.1 -0.5 5.9 -2.5M18.9 50.5 q-4.0 -0.5 -7.7 -3.2M18.9 50.5 q4.0 -0.5 7.7 -3.2M18.9 47.6 q-4.1 -0.5 -7.9 -3.3M18.9 47.6 q4.1 -0.5 7.9 -3.3M18.9 44.6 q-3.4 -0.5 -6.5 -2.7M18.9 44.6 q3.4 -0.5 6.5 -2.7M18.9 41.6 q-2.7 -0.5 -5.1 -2.1M18.9 41.6 q2.7 -0.5 5.1 -2.1M18.9 38.6 q-1.9 -0.5 -3.6 -1.5M18.9 38.6 q1.9 -0.5 3.6 -1.5M61.1 66.2 L61.1 37.7M62.8 42.1 l1.0 -1.7M63.8 58.5 l1.0 -1.8M60.5 52.5 l-1.8 -3.3M65.8 49.5 l1.2 -2.1M60.5 43.7 l-1.8 -3.3M62.8 63.6 l1.1 -2.0M61.4 50.7 l1.0 -1.9M59.9 42.5 l-1.2 -2.2M60.2 64.0 l-1.3 -2.4M59.7 45.8 l-1.6 -2.8M60.4 63.2 l-1.3 -2.4M61.5 38.7 l1.5 -2.8M60.9 65.8 l-1.6 -2.9M61.8 59.4 l1.3 -2.4M61.6 65.9 l1.7 -3.0M62.2 60.3 l1.2 -2.1M61.7 55.5 l1.2 -2.1M59.4 56.6 l-1.5 -2.8M57.4 58.9 l-1.6 -2.9M67.6 56.8 l1.4 -2.6M59.5 45.6 l-1.7 -3.1M59.1 63.6 l-1.0 -1.8M63.3 46.9 l1.1 -1.9M66.9 54.7 l1.5 -2.7M59.6 63.6 l-1.0 -1.9M60.4 62.7 l-1.0 -1.7M60.8 40.0 l-1.4 -2.5M64.1 47.8 l1.7 -3.1M58.2 55.2 l-1.3 -2.3M60.9 65.7 l-1.6 -2.9M61.3 38.2 l1.5 -2.8M55.0 48.9 l-1.2 -2.2M63.4 56.4 l1.0 -1.8M61.2 55.4 l1.7 -3.0M61.7 42.7 l1.0 -1.9M64.3 44.4 l1.4 -2.6M61.1 56.1 l1.0 -1.9M65.7 45.9 l1.4 -2.5M64.2 45.8 l1.1 -2.0M61.3 39.3 l1.1 -2.0M59.8 63.8 l-1.5 -2.6M59.3 46.3 l-1.8 -3.3M60.5 55.9 l-1.0 -1.8M60.6 38.5 l-1.8 -3.2M61.9 50.7 l1.4 -2.6M61.1 64.5 q-0.9 -0.5 -1.8 -0.8M61.1 64.5 q0.9 -0.5 1.8 -0.8M61.1 61.6 q-2.1 -0.5 -4.0 -1.7M61.1 61.6 q2.1 -0.5 4.0 -1.7M61.1 58.6 q-3.1 -0.5 -5.9 -2.5M61.1 58.6 q3.1 -0.5 5.9 -2.5M61.1 55.7 q-4.0 -0.5 -7.7 -3.2M61.1 55.7 q4.0 -0.5 7.7 -3.2M61.1 52.8 q-4.1 -0.5 -7.9 -3.3M61.1 52.8 q4.1 -0.5 7.9 -3.3M61.1 49.9 q-3.4 -0.5 -6.5 -2.7M61.1 49.9 q3.4 -0.5 6.5 -2.7M61.1 47.0 q-2.7 -0.5 -5.1 -2.1M61.1 47.0 q2.7 -0.5 5.1 -2.1M61.1 44.0 q-1.9 -0.5 -3.6 -1.5M61.1 44.0 q1.9 -0.5 3.6 -1.5" fill="none" stroke="#c6c6c6" stroke-width="0.8" stroke-linecap="round"/></g></svg>
<div class="t cn" style="left:1735.00px;top:67.19px"><span id="cn10" style="letter-spacing:0.417px">Sorghum</span></div>
<div class="t sn" style="left:1735.00px;top:123.07px"><span id="sn10_0" style="letter-spacing:-0.027px">(<i>S. bicolor</i>)</span></div>
<svg class="im" style="left:1845.00px" width="80" height="120" viewBox="0 0 80 120" ><path d="M39.8 35.9L38.1 33.0L36.5 30.4L34.9 28.2L33.3 26.3L31.8 24.8L30.1 23.6L28.4 22.8L26.4 22.6L24.6 23.2L23.2 24.4L22.4 25.9L22.0 27.6L21.9 29.5L22.0 31.7L22.0 31.7L23.0 29.9L24.1 28.5L25.0 27.7L25.8 27.5L26.2 27.6L26.5 27.8L26.8 28.0L27.6 28.3L28.7 28.8L30.1 29.8L31.8 31.1L33.6 32.8L35.6 34.9L37.8 37.3ZM39.8 50.4L37.1 46.6L34.7 43.2L32.4 40.3L30.1 37.9L28.0 36.1L25.8 34.7L23.6 33.9L21.2 34.0L19.2 35.2L17.8 36.9L17.2 39.1L17.0 41.5L17.1 44.2L17.5 47.4L17.5 47.4L18.3 44.3L19.2 41.9L20.2 40.2L21.1 39.3L21.8 39.0L22.2 39.1L22.6 39.2L23.6 39.5L25.1 40.3L27.1 41.5L29.3 43.3L31.9 45.7L34.8 48.5L37.9 51.9ZM39.8 66.1L36.7 61.9L33.9 58.2L31.2 55.1L28.7 52.5L26.2 50.6L23.7 49.2L21.2 48.5L18.6 48.7L16.4 50.0L15.0 52.0L14.2 54.4L13.8 57.1L13.8 60.3L14.1 63.9L14.2 63.9L15.0 60.4L16.0 57.6L17.1 55.6L18.3 54.3L19.2 53.8L19.8 53.8L20.6 53.8L21.8 54.1L23.5 54.9L25.7 56.3L28.3 58.2L31.2 60.7L34.4 63.9L37.9 67.6ZM39.8 82.5L37.1 78.1L34.5 74.2L32.1 70.9L29.7 68.2L27.3 66.2L24.8 64.8L22.1 64.2L19.5 64.6L17.3 66.2L15.9 68.3L14.9 71.0L14.4 74.1L14.1 77.7L14.1 81.9L14.2 81.9L15.3 77.9L16.6 74.7L17.9 72.2L19.2 70.6L20.4 69.7L21.2 69.5L21.8 69.6L22.9 69.8L24.5 70.5L26.5 71.8L28.9 73.8L31.6 76.5L34.6 79.9L37.8 83.9ZM39.8 99.1L37.2 94.8L34.6 91.0L32.2 87.7L29.8 85.1L27.4 83.1L24.9 81.7L22.2 81.0L19.6 81.3L17.3 82.7L15.6 84.7L14.5 87.2L13.7 90.2L13.3 93.6L13.0 97.6L13.0 97.6L14.4 93.9L15.8 90.9L17.3 88.7L18.7 87.2L20.0 86.5L20.9 86.3L21.8 86.4L23.0 86.6L24.6 87.4L26.7 88.7L29.1 90.7L31.8 93.3L34.7 96.6L37.8 100.5ZM39.8 39.5L41.9 36.9L43.9 34.8L45.7 33.1L47.3 31.8L48.7 30.9L49.7 30.5L50.4 30.3L50.9 30.2L51.4 30.1L52.2 30.3L53.3 30.9L54.6 32.1L55.9 33.7L57.2 35.9L57.2 35.9L57.0 33.3L56.6 31.1L55.9 29.1L55.0 27.3L53.5 25.9L51.7 25.1L49.6 25.0L47.6 25.6L45.8 26.7L44.1 28.3L42.5 30.2L41.0 32.5L39.4 35.2L37.8 38.2ZM39.8 54.8L42.4 51.6L44.9 49.0L47.1 47.0L49.0 45.4L50.6 44.4L51.8 43.9L52.5 43.8L52.7 43.7L53.2 43.7L54.0 44.1L55.0 45.3L56.1 47.2L57.1 49.6L58.1 52.7L58.1 52.7L58.3 49.5L58.3 46.6L58.0 44.1L57.4 42.0L56.2 40.1L54.4 38.8L52.1 38.4L49.8 38.9L47.8 40.1L45.9 41.8L44.0 44.0L42.0 46.7L40.0 49.8L37.8 53.4ZM39.8 70.5L42.4 67.6L44.9 65.2L47.2 63.4L49.2 62.0L51.0 61.2L52.4 60.7L53.4 60.6L54.3 60.6L55.2 60.8L56.5 61.4L57.9 62.5L59.3 64.3L60.9 66.6L62.3 69.6L62.4 69.5L62.0 66.3L61.4 63.3L60.5 60.8L59.4 58.6L57.8 56.9L55.7 55.6L53.4 55.2L50.9 55.6L48.6 56.6L46.4 58.2L44.3 60.2L42.2 62.7L40.0 65.7L37.9 69.0ZM39.7 85.2L42.6 82.4L45.3 80.1L47.8 78.4L49.9 77.2L51.7 76.5L53.1 76.2L54.2 76.3L55.0 76.4L56.0 76.8L57.3 77.7L58.6 79.2L60.0 81.4L61.3 84.1L62.6 87.5L62.6 87.5L62.5 83.9L62.1 80.6L61.5 77.8L60.5 75.4L59.1 73.3L57.2 71.7L54.9 70.9L52.3 71.0L49.9 71.8L47.5 73.1L45.2 75.0L42.8 77.4L40.4 80.2L37.9 83.5ZM39.8 100.5L42.3 97.8L44.6 95.6L46.7 93.9L48.5 92.8L50.0 92.1L51.1 91.9L51.8 92.0L52.6 92.1L53.5 92.5L54.7 93.4L56.1 94.9L57.5 97.1L58.9 99.9L60.3 103.2L60.3 103.2L60.1 99.5L59.6 96.3L59.0 93.5L58.0 91.1L56.7 89.1L54.9 87.5L52.7 86.6L50.3 86.7L48.0 87.5L45.8 88.8L43.8 90.7L41.8 93.1L39.9 95.9L37.8 99.1Z" fill="#cdcdcb" stroke="#9d9d9b" stroke-width="0.55" stroke-linejoin="round"/><path d="M38.8 115.5 L38.8 20.9" stroke="#a0a09e" stroke-width="2"/><path d="M38.8 115.5 L38.8 20.9" stroke="#d8d8d6" stroke-width="0.7"/><path d="M38.8 1.8 C43.3 6.3 47.3 19.8 38.8 24.3 C30.3 19.8 34.3 6.3 38.8 1.8 Z" fill="#a1a19f" stroke="#888886" stroke-width="0.5"/><ellipse cx="38.8" cy="115.5" rx="5" ry="1" fill="#b0b0ae"/></svg>
<div class="t cn" style="left:1870.71px;top:67.19px"><span id="cn11" style="letter-spacing:0.086px">Teosinte</span></div>
<div class="t sn" style="left:1870.71px;top:107.17px"><span id="sn11_0" style="letter-spacing:-0.100px">(<i>Zea</i></span></div>
<div class="t sn" style="left:1879.50px;top:138.57px"><span id="sn11_1" style="letter-spacing:0.308px"><i>diploperennis</i>)</span></div>
<svg class="im" style="left:1968.71px" width="104" height="120" viewBox="0 0 104 120" ><g fill="#fcfaf8" stroke="#736961" stroke-width="0.78" stroke-linejoin="round"><path d="M41.9 110.4L40.9 107.4L39.6 103.3L38.0 98.3L36.3 93.1L34.5 88.0L32.9 83.5L31.4 79.4L29.9 75.5L28.4 71.8L26.9 68.1L25.4 64.5L23.9 61.0L22.5 57.4L21.1 53.9L19.7 50.3L18.4 47.0L17.2 43.8L16.1 40.8L15.1 38.1L14.2 35.4L13.4 32.9L12.7 30.6L12.1 28.8L11.6 27.4L10.1 27.9L10.6 29.3L11.1 31.1L11.9 33.4L12.7 35.9L13.6 38.6L14.6 41.4L15.7 44.3L16.9 47.5L18.3 50.9L19.6 54.4L21.0 58.0L22.5 61.6L23.9 65.2L25.4 68.7L26.9 72.4L28.4 76.1L29.9 80.0L31.4 84.0L33.0 88.5L34.7 93.6L36.5 98.8L38.1 103.7L39.4 107.9L40.4 110.9ZM38.6 107.2L38.2 104.6L37.6 101.0L37.0 96.8L36.3 92.3L35.7 87.8L35.2 83.6L34.9 80.0L34.6 76.5L34.3 73.1L34.1 69.5L34.1 65.7L34.1 61.3L34.3 56.0L34.7 49.7L35.1 43.1L35.6 36.8L36.1 31.5L36.3 27.7L34.7 27.6L34.5 31.4L34.0 36.7L33.6 43.0L33.1 49.6L32.7 55.9L32.5 61.3L32.5 65.7L32.5 69.6L32.7 73.2L33.0 76.6L33.3 80.1L33.6 83.8L34.1 88.0L34.7 92.5L35.4 97.0L36.0 101.3L36.6 104.8L37.0 107.4ZM45.3 107.3L45.5 104.8L45.8 101.2L46.1 97.0L46.4 92.4L46.7 87.9L46.9 83.8L47.0 80.0L47.2 76.4L47.3 72.9L47.4 69.2L47.5 65.4L47.6 61.3L47.7 56.5L47.8 51.0L47.9 45.3L48.1 40.0L48.2 35.4L48.2 32.2L46.6 32.1L46.6 35.4L46.5 39.9L46.3 45.3L46.2 51.0L46.1 56.5L46.0 61.3L45.9 65.4L45.8 69.2L45.7 72.8L45.6 76.4L45.4 80.0L45.3 83.7L45.1 87.8L44.8 92.3L44.5 96.8L44.2 101.1L43.9 104.6L43.7 107.2ZM49.1 103.0L49.7 100.3L50.5 96.7L51.5 92.3L52.6 87.7L53.5 83.3L54.3 79.4L54.8 76.2L55.3 73.3L55.7 70.6L56.1 67.8L56.4 64.8L56.8 61.4L57.1 57.1L57.5 52.0L57.9 46.8L58.3 41.7L58.6 37.5L58.8 34.4L57.2 34.3L57.0 37.4L56.7 41.6L56.3 46.7L55.9 51.9L55.5 56.9L55.2 61.2L54.8 64.7L54.5 67.6L54.1 70.4L53.7 73.1L53.3 75.9L52.7 79.1L51.9 83.0L51.0 87.4L50.0 92.0L49.0 96.3L48.1 100.0L47.5 102.6ZM43.0 109.8L43.8 107.9L44.8 105.2L46.0 102.0L47.3 98.6L48.6 95.6L49.7 93.1L50.8 91.0L52.0 89.2L53.1 87.6L54.1 86.2L55.0 85.1L55.7 84.2L54.4 83.3L53.8 84.1L52.9 85.3L51.8 86.7L50.6 88.3L49.4 90.2L48.3 92.3L47.1 94.9L45.8 98.0L44.5 101.4L43.3 104.6L42.3 107.3L41.5 109.2Z"/><path d="M19.8 51.9L17.0 53.9L14.5 56.0L12.1 58.1L9.8 60.2L7.6 62.3L5.2 64.5L2.8 66.7L0.3 69.1L0.3 69.2L3.7 68.3L6.9 67.1L9.9 65.5L12.7 63.5L15.2 61.1L17.2 58.3L18.8 55.2L19.8 51.9ZM32.2 34.4L31.5 37.7L31.2 40.9L31.0 43.9L30.8 46.9L30.6 49.9L30.4 53.0L30.1 56.2L29.9 59.5L29.9 59.5L31.7 56.7L33.1 53.7L34.2 50.5L34.8 47.3L34.9 44.0L34.5 40.7L33.6 37.5L32.2 34.4ZM38.4 37.7L37.0 40.6L36.1 43.6L35.7 46.7L35.7 49.8L36.3 52.9L37.3 55.8L38.6 58.6L40.2 61.3L40.3 61.3L40.2 58.2L40.0 55.2L39.9 52.3L39.7 49.5L39.6 46.7L39.4 43.8L39.1 40.9L38.5 37.7ZM46.7 40.0L45.2 42.5L44.2 45.1L43.6 47.9L43.5 50.7L43.8 53.5L44.5 56.2L45.6 58.8L47.0 61.3L47.0 61.3L47.2 58.5L47.2 55.8L47.3 53.2L47.3 50.6L47.3 48.1L47.3 45.5L47.2 42.8L46.8 40.0ZM56.4 45.1L55.4 47.3L54.8 49.4L54.3 51.4L53.9 53.3L53.6 55.2L53.3 57.3L53.0 59.4L52.8 61.7L52.8 61.7L54.4 60.1L55.8 58.3L56.9 56.3L57.7 54.1L58.0 51.8L57.9 49.6L57.4 47.3L56.4 45.1ZM60.2 46.7L60.2 49.0L60.7 51.1L61.5 53.1L62.7 54.9L64.2 56.4L65.9 57.7L67.8 58.7L69.9 59.5L69.9 59.5L68.8 57.6L67.7 55.9L66.7 54.2L65.6 52.7L64.5 51.2L63.3 49.7L61.9 48.2L60.2 46.7ZM34.9 59.1L34.2 62.4L33.8 65.5L33.5 68.6L33.3 71.6L33.0 74.6L32.7 77.7L32.4 80.9L32.2 84.2L32.2 84.2L34.0 81.4L35.5 78.4L36.6 75.3L37.3 72.0L37.4 68.7L37.1 65.4L36.2 62.2L34.9 59.1ZM41.1 62.4L39.8 65.0L38.9 67.8L38.4 70.6L38.4 73.5L38.9 76.4L39.8 79.1L41.0 81.7L42.5 84.2L42.5 84.2L42.5 81.3L42.4 78.5L42.3 75.9L42.2 73.3L42.1 70.7L42.0 68.1L41.7 65.3L41.2 62.4ZM25.0 66.9L24.7 70.5L24.7 73.9L24.7 77.1L24.7 80.4L24.7 83.6L24.7 86.9L24.5 90.3L24.5 93.8L24.6 93.8L26.1 90.6L27.3 87.3L28.2 83.9L28.6 80.4L28.4 76.9L27.8 73.4L26.6 70.1L25.0 66.9ZM54.1 62.4L52.8 65.1L52.0 67.8L51.6 70.7L51.6 73.6L52.2 76.4L53.1 79.1L54.4 81.7L55.9 84.2L56.0 84.2L55.9 81.3L55.7 78.5L55.6 75.8L55.5 73.3L55.3 70.7L55.1 68.1L54.8 65.3L54.2 62.4ZM61.3 64.7L60.0 67.7L59.2 70.9L58.9 74.1L59.0 77.4L59.7 80.6L60.8 83.6L62.3 86.6L64.0 89.3L64.0 89.3L63.8 86.1L63.4 83.0L63.1 79.9L62.9 77.0L62.6 74.0L62.4 71.0L62.0 67.9L61.3 64.7ZM50.6 79.2L48.7 82.8L47.1 86.3L45.6 89.7L44.0 93.0L42.4 96.3L40.7 99.7L38.9 103.1L37.1 106.6L37.1 106.6L40.2 104.0L42.9 101.2L45.4 98.1L47.5 94.7L49.0 91.1L50.1 87.2L50.6 83.3L50.6 79.2ZM57.3 83.7L56.3 86.4L55.7 89.1L55.5 91.9L55.8 94.6L56.6 97.3L57.7 99.8L59.2 102.2L60.9 104.4L60.9 104.4L60.6 101.6L60.2 99.0L59.8 96.4L59.5 94.0L59.1 91.5L58.7 89.0L58.1 86.4L57.3 83.7ZM29.9 83.7L29.1 85.8L28.6 87.9L28.6 90.0L28.9 92.2L29.6 94.2L30.6 96.1L31.8 97.8L33.3 99.4L33.3 99.4L33.1 97.3L32.8 95.3L32.5 93.3L32.1 91.5L31.8 89.6L31.3 87.7L30.8 85.8L29.9 83.7ZM14.2 34.4L14.2 35.5L14.5 36.4L14.9 37.3L15.5 38.0L16.3 38.6L17.2 39.0L18.2 39.2L19.2 39.3L19.2 39.3L18.7 38.4L18.2 37.7L17.7 37.0L17.2 36.4L16.6 35.8L16.0 35.3L15.2 34.8L14.2 34.4ZM12.4 46.0L13.0 47.4L13.9 48.4L14.9 49.3L16.1 50.0L17.4 50.3L18.7 50.5L20.0 50.4L21.4 50.1L21.4 50.1L20.3 49.2L19.2 48.6L18.2 48.0L17.2 47.4L16.2 46.9L15.1 46.5L13.9 46.2L12.4 46.0ZM35.5 33.9L34.5 36.4L33.9 38.9L33.6 41.4L33.7 44.0L34.3 46.5L35.2 49.0L36.4 51.3L37.8 53.4L37.8 53.4L37.6 50.9L37.3 48.4L37.1 46.0L36.9 43.7L36.7 41.3L36.4 39.0L36.1 36.5L35.6 33.9ZM50.1 61.3L49.7 63.8L49.5 66.3L49.5 68.6L49.5 70.8L49.5 73.1L49.5 75.4L49.5 77.8L49.7 80.4L49.7 80.4L50.9 78.1L51.9 75.8L52.6 73.4L53.0 70.9L52.9 68.4L52.4 65.9L51.5 63.5L50.1 61.3ZM44.5 42.2L44.0 44.5L43.7 46.6L43.5 48.6L43.3 50.6L43.2 52.6L43.1 54.7L43.0 56.8L42.9 59.0L43.0 59.1L44.2 57.2L45.2 55.2L46.0 53.1L46.5 50.9L46.5 48.7L46.2 46.4L45.6 44.3L44.5 42.2ZM59.1 50.1L58.0 52.3L57.4 54.6L57.2 57.0L57.3 59.4L57.9 61.7L58.8 64.0L59.9 66.1L61.3 68.0L61.3 68.0L61.2 65.6L61.0 63.3L60.8 61.1L60.6 59.0L60.4 56.9L60.1 54.7L59.7 52.4L59.1 50.1ZM27.7 61.3L27.3 63.7L27.1 66.0L27.1 68.1L27.1 70.3L27.1 72.4L27.1 74.6L27.1 76.9L27.2 79.2L27.3 79.2L28.4 77.2L29.4 75.0L30.1 72.7L30.4 70.3L30.3 68.0L29.8 65.6L29.0 63.4L27.7 61.3ZM38.9 83.7L37.9 86.0L37.3 88.3L37.1 90.7L37.2 93.1L37.8 95.4L38.6 97.6L39.8 99.7L41.1 101.7L41.2 101.7L41.0 99.3L40.8 97.0L40.5 94.8L40.3 92.7L40.1 90.5L39.9 88.4L39.5 86.1L38.9 83.7ZM47.9 88.2L47.2 90.6L46.8 93.0L46.9 95.5L47.3 97.9L48.2 100.2L49.3 102.3L50.7 104.3L52.4 106.2L52.4 106.2L51.9 103.8L51.4 101.5L50.9 99.3L50.4 97.1L49.9 95.0L49.4 92.8L48.8 90.5L47.9 88.2Z"/><path d="M19.8 51.9 L3.3 66.6M32.2 34.4 L30.3 55.7M38.5 37.7 L40.0 57.8M46.8 40.0 L46.9 58.1M56.4 45.1 L53.4 59.3M60.2 46.7 L68.4 57.6M34.9 59.1 L32.6 80.4M41.1 62.4 L42.3 80.9M25.0 66.9 L24.6 89.8M54.2 62.4 L55.7 80.9M61.3 64.7 L63.6 85.6M50.6 79.2 L39.1 102.5M57.3 83.7 L60.4 101.3M29.9 83.7 L32.8 97.1M14.2 34.4 L18.4 38.6M12.4 46.0 L20.1 49.5M35.5 33.9 L37.4 50.5M50.1 61.3 L49.7 77.5M44.5 42.2 L43.2 56.5M59.1 50.1 L61.0 65.3M27.7 61.3 L27.3 76.5M38.9 83.7 L40.8 99.0M47.9 88.2 L51.7 103.5" fill="none" stroke-width="0.35"/><path d="M10.6 30.9 L3.5 26.4 L9.8 32.5M10.9 31.1 L4.8 23.5 L9.5 32.2M11.0 31.3 L6.1 21.0 L9.4 32.0M11.1 31.7 L10.8 19.6 L9.3 31.6M11.0 32.0 L13.5 21.7 L9.3 31.4M10.9 32.2 L15.1 23.4 L9.4 31.2M10.7 32.5 L16.1 26.5 L9.7 30.9M37.2 24.7 L28.5 17.6 L36.2 26.1M37.3 24.8 L29.1 15.3 L36.0 26.0M37.5 25.2 L32.8 10.1 L35.8 25.6M37.6 25.5 L37.7 8.5 L35.8 25.3M37.5 25.6 L40.3 11.0 L35.8 25.2M37.4 26.0 L43.9 14.9 L36.0 24.8M37.1 26.2 L45.6 18.5 L36.2 24.6M49.4 26.0 L41.6 21.0 L48.6 27.5M49.7 26.1 L42.1 18.0 L48.3 27.4M49.8 26.4 L45.1 15.5 L48.2 27.1M49.9 26.7 L48.7 13.8 L48.1 26.8M49.9 27.0 L52.0 16.2 L48.1 26.5M49.7 27.4 L55.2 18.8 L48.3 26.1M49.4 27.5 L55.7 21.3 L48.6 26.0M59.6 30.5 L51.7 24.0 L58.6 32.0M59.8 30.7 L52.7 21.3 L58.4 31.8M59.9 30.9 L55.1 18.7 L58.2 31.5M60.0 31.2 L58.3 17.4 L58.2 31.3M59.9 31.6 L63.5 20.0 L58.3 30.9M59.8 31.8 L66.5 21.9 L58.4 30.6M59.6 32.0 L66.2 24.9 L58.6 30.5" fill="none" stroke-width="0.45"/></g><path d="M88.7 10.2L86.5 15.3L85.6 20.5L85.3 25.7L85.0 30.9L84.7 36.1L84.4 41.3L84.1 46.5L83.9 51.7L83.6 56.9L83.4 62.1L83.1 67.3L82.9 72.5L82.6 77.7L82.4 82.9L82.2 88.0L81.9 93.2L81.7 98.4L81.5 103.6L82.5 108.8L90.8 114.0L92.9 114.0L100.9 108.8L101.6 103.6L101.0 98.4L100.5 93.2L99.9 88.0L99.4 82.9L98.8 77.7L98.3 72.5L97.7 67.3L97.2 62.1L96.6 56.9L96.0 51.7L95.5 46.5L94.9 41.3L94.3 36.1L93.7 30.9L93.1 25.7L92.5 20.5L91.2 15.3L88.7 10.2Z" fill="#e9dfd9" stroke="#6e645c" stroke-width="0.95" stroke-linejoin="round"/><path d="M88.1 13.8L91.3 20.6L92.8 27.1L88.9 28.9L87.3 21.3Z" fill="#f3ebe6" stroke="#6e645c" stroke-width="0.95" stroke-linejoin="round"/><path d="M90.2 25.8L85.6 32.6L85.2 39.1L90.2 40.9L91.3 33.4Z" fill="#e6dbd5" stroke="#6e645c" stroke-width="0.95" stroke-linejoin="round"/><path d="M88.3 37.9L94.0 44.7L95.3 51.2L89.4 53.0L86.8 45.5Z" fill="#efe6e1" stroke="#6e645c" stroke-width="0.95" stroke-linejoin="round"/><path d="M91.4 50.0L84.6 56.8L84.3 63.3L91.1 65.1L93.2 57.6Z" fill="#f3ebe6" stroke="#6e645c" stroke-width="0.95" stroke-linejoin="round"/><path d="M88.5 62.1L96.5 68.9L97.6 75.4L89.9 77.2L86.5 69.6Z" fill="#e6dbd5" stroke="#6e645c" stroke-width="0.95" stroke-linejoin="round"/><path d="M92.6 74.2L83.6 80.9L83.5 87.4L92.0 89.3L94.9 81.7Z" fill="#efe6e1" stroke="#6e645c" stroke-width="0.95" stroke-linejoin="round"/><path d="M88.8 86.2L98.9 93.0L99.9 99.5L90.5 101.3L86.2 93.8Z" fill="#f3ebe6" stroke="#6e645c" stroke-width="0.95" stroke-linejoin="round"/><path d="M93.8 98.3L82.7 104.7L82.7 110.8L92.9 112.5L96.7 105.4Z" fill="#e6dbd5" stroke="#6e645c" stroke-width="0.95" stroke-linejoin="round"/></svg>
<div class="t cn" style="left:2006.43px;top:67.19px"><span id="cn12" style="letter-spacing:-0.129px">Teosinte</span></div>
<div class="t sn" style="left:2006.43px;top:107.17px"><span id="sn12_0" style="letter-spacing:-0.037px">(<i>Zea mays</i></span></div>
<div class="t sn" style="left:2006.43px;top:138.57px"><span id="sn12_1" style="letter-spacing:0.338px"><i>mexicana</i>)</span></div>
<svg class="im" style="left:2104.43px" width="104" height="120" viewBox="0 0 104 120" ><g fill="#fbfaf9" stroke="#6b655f" stroke-width="0.78" stroke-linejoin="round"><path d="M25.5 106.0L25.0 103.6L24.3 100.2L23.5 96.2L22.7 91.9L22.0 87.6L21.5 83.6L21.2 79.9L21.0 76.2L20.9 72.5L20.9 68.8L20.9 65.1L21.0 61.3L21.3 57.5L21.6 53.6L22.0 49.7L22.4 45.9L22.9 42.3L23.3 39.0L23.7 35.8L24.1 32.7L24.5 29.7L24.9 27.1L25.3 24.9L25.5 23.3L23.9 23.0L23.7 24.7L23.4 26.9L23.0 29.5L22.5 32.4L22.1 35.6L21.7 38.8L21.3 42.1L20.8 45.7L20.4 49.6L20.0 53.5L19.7 57.4L19.4 61.3L19.3 65.0L19.3 68.8L19.3 72.5L19.4 76.3L19.6 80.0L19.9 83.8L20.4 87.8L21.1 92.2L22.0 96.5L22.8 100.5L23.5 103.9L23.9 106.3ZM33.4 106.3L33.7 103.8L34.2 100.5L34.8 96.5L35.4 92.1L35.9 87.8L36.3 83.8L36.5 80.2L36.6 76.7L36.7 73.2L36.7 69.6L36.7 65.7L36.7 61.3L36.9 56.0L37.0 49.7L37.1 43.1L37.2 36.8L37.3 31.5L37.4 27.7L35.8 27.6L35.7 31.4L35.6 36.8L35.5 43.1L35.4 49.6L35.3 55.9L35.1 61.3L35.1 65.7L35.1 69.6L35.1 73.2L35.0 76.6L34.9 80.1L34.7 83.7L34.3 87.6L33.8 91.9L33.2 96.2L32.6 100.2L32.1 103.6L31.8 106.0ZM37.8 102.0L38.6 100.1L39.7 97.5L41.0 94.4L42.3 91.0L43.6 87.4L44.6 83.9L45.3 80.5L45.9 76.9L46.4 73.2L46.8 69.4L47.1 65.5L47.5 61.4L47.9 56.7L48.2 51.4L48.5 45.9L48.7 40.8L48.9 36.4L49.1 33.3L47.5 33.2L47.3 36.3L47.1 40.7L46.9 45.8L46.6 51.3L46.3 56.6L45.9 61.2L45.6 65.3L45.2 69.3L44.8 73.0L44.3 76.7L43.7 80.2L43.0 83.5L42.1 86.9L40.8 90.4L39.5 93.8L38.2 96.9L37.1 99.5L36.3 101.4ZM29.8 105.5L31.1 103.9L33.0 101.6L35.1 98.9L37.3 96.1L39.4 93.3L41.1 90.9L42.5 88.7L43.6 86.4L44.7 84.3L45.5 82.3L46.2 80.7L46.8 79.6L45.3 78.9L44.8 80.1L44.1 81.7L43.2 83.6L42.2 85.7L41.1 87.9L39.8 90.0L38.1 92.4L36.1 95.1L33.8 98.0L31.7 100.6L29.9 102.9L28.6 104.5Z"/><path d="M21.4 31.0L20.7 34.1L20.4 37.1L20.3 40.0L20.1 42.8L20.0 45.6L19.9 48.4L19.8 51.4L19.8 54.6L19.8 54.6L21.5 51.9L22.8 49.1L23.8 46.1L24.3 43.0L24.3 39.9L23.8 36.8L22.9 33.9L21.4 31.0ZM27.0 32.1L25.7 34.8L24.8 37.5L24.5 40.3L24.6 43.2L25.2 45.9L26.2 48.6L27.6 51.1L29.2 53.4L29.2 53.4L29.2 50.6L29.0 47.9L28.8 45.3L28.6 42.7L28.4 40.2L28.1 37.6L27.7 35.0L27.0 32.1ZM36.4 37.7L35.8 40.6L35.6 43.3L35.4 45.9L35.3 48.4L35.2 50.9L35.1 53.5L35.0 56.2L35.0 59.0L35.1 59.1L36.6 56.6L37.8 54.1L38.7 51.4L39.1 48.6L39.1 45.8L38.7 43.0L37.8 40.3L36.4 37.7ZM43.8 38.9L42.5 41.3L41.6 43.9L41.2 46.5L41.3 49.2L41.8 51.9L42.7 54.4L43.9 56.8L45.4 59.1L45.4 59.0L45.4 56.4L45.3 53.8L45.2 51.3L45.1 48.9L45.0 46.5L44.8 44.1L44.4 41.5L43.8 38.9ZM49.4 42.2L49.2 44.4L49.4 46.5L50.0 48.5L51.0 50.4L52.3 52.1L53.8 53.5L55.6 54.7L57.5 55.7L57.5 55.7L56.6 53.7L55.7 51.9L54.9 50.2L54.0 48.6L53.1 47.0L52.1 45.5L50.9 43.8L49.4 42.2ZM20.2 54.6L19.7 57.3L19.5 59.8L19.4 62.3L19.4 64.6L19.5 67.0L19.5 69.5L19.6 72.1L19.8 74.8L19.8 74.8L21.2 72.4L22.3 70.0L23.1 67.4L23.4 64.7L23.3 62.0L22.8 59.4L21.7 56.9L20.3 54.6ZM27.0 55.7L25.7 58.3L24.9 61.1L24.6 63.9L24.7 66.7L25.3 69.5L26.3 72.1L27.6 74.6L29.2 77.0L29.2 77.0L29.1 74.2L28.9 71.4L28.7 68.8L28.5 66.3L28.3 63.8L28.0 61.2L27.7 58.5L27.0 55.7ZM36.4 61.3L35.9 64.1L35.7 66.8L35.6 69.4L35.5 71.9L35.5 74.5L35.4 77.1L35.4 79.8L35.5 82.6L35.5 82.6L37.0 80.2L38.1 77.6L38.9 74.9L39.4 72.1L39.3 69.3L38.8 66.5L37.8 63.8L36.4 61.3ZM46.7 59.1L45.8 61.4L45.3 63.7L44.9 65.8L44.6 67.9L44.4 70.0L44.1 72.2L43.9 74.6L43.8 77.0L43.8 77.0L45.4 75.1L46.7 73.1L47.7 70.9L48.4 68.5L48.6 66.1L48.4 63.7L47.8 61.3L46.7 59.1ZM51.6 61.3L50.4 64.1L49.7 67.0L49.3 70.0L49.5 72.9L50.2 75.8L51.3 78.6L52.6 81.2L54.3 83.7L54.4 83.7L54.2 80.7L53.9 77.9L53.6 75.1L53.3 72.5L53.1 69.8L52.8 67.1L52.4 64.2L51.7 61.3ZM20.7 77.0L19.6 79.9L19.0 82.8L18.8 85.8L19.1 88.8L19.9 91.6L21.0 94.4L22.5 97.0L24.3 99.4L24.3 99.4L23.9 96.5L23.5 93.6L23.1 90.9L22.7 88.2L22.4 85.5L22.0 82.8L21.5 79.9L20.7 77.0ZM43.8 79.2L42.0 81.8L40.5 84.3L39.2 86.8L37.9 89.2L36.6 91.6L35.3 94.1L33.9 96.7L32.6 99.4L32.6 99.4L35.1 97.7L37.5 95.8L39.5 93.6L41.3 91.1L42.6 88.3L43.5 85.4L43.9 82.4L43.8 79.2ZM48.3 81.5L47.1 84.0L46.4 86.6L46.1 89.2L46.3 91.9L46.8 94.5L47.8 97.1L49.0 99.4L50.5 101.7L50.5 101.7L50.4 99.0L50.2 96.4L49.9 93.9L49.7 91.5L49.5 89.1L49.3 86.7L48.9 84.1L48.3 81.5ZM29.2 79.2L28.0 81.0L27.1 83.0L26.6 85.0L26.5 87.1L26.7 89.2L27.3 91.2L28.1 93.1L29.2 94.9L29.2 94.9L29.5 92.8L29.6 90.8L29.7 88.9L29.8 87.1L29.8 85.3L29.8 83.4L29.6 81.4L29.2 79.2ZM23.6 38.9L22.4 41.0L21.6 43.2L21.2 45.6L21.1 47.9L21.5 50.3L22.1 52.6L23.1 54.7L24.3 56.8L24.3 56.8L24.4 54.4L24.3 52.1L24.3 50.0L24.3 47.8L24.2 45.7L24.2 43.5L24.0 41.3L23.6 38.9ZM32.6 45.6L32.1 47.7L31.9 49.7L31.8 51.6L31.8 53.4L31.8 55.3L31.8 57.2L31.8 59.2L31.9 61.3L31.9 61.3L33.0 59.5L33.9 57.6L34.6 55.6L34.9 53.6L34.9 51.5L34.5 49.4L33.7 47.5L32.6 45.6ZM40.4 61.3L39.2 63.5L38.5 65.7L38.1 68.1L38.1 70.4L38.5 72.8L39.2 75.1L40.3 77.2L41.5 79.2L41.6 79.2L41.6 76.9L41.5 74.6L41.5 72.4L41.4 70.2L41.3 68.1L41.2 66.0L40.9 63.7L40.4 61.3ZM49.4 47.8L48.4 49.8L47.7 51.8L47.4 53.9L47.6 56.0L48.0 58.1L48.8 60.0L49.9 61.8L51.2 63.5L51.2 63.5L51.2 61.4L51.1 59.4L51.0 57.5L50.9 55.6L50.7 53.8L50.4 51.9L50.1 49.9L49.4 47.8ZM24.7 83.7L23.7 86.0L23.1 88.3L22.9 90.7L23.0 93.1L23.6 95.4L24.5 97.6L25.6 99.7L27.0 101.7L27.0 101.7L26.8 99.3L26.6 97.0L26.4 94.8L26.2 92.7L25.9 90.5L25.7 88.4L25.3 86.1L24.7 83.7ZM39.3 88.2L38.6 90.4L38.4 92.5L38.5 94.7L38.9 96.8L39.8 98.8L40.9 100.7L42.2 102.4L43.8 103.9L43.8 103.9L43.4 101.8L42.9 99.8L42.4 97.8L42.0 95.9L41.5 94.1L40.9 92.2L40.3 90.2L39.3 88.2Z"/><path d="M21.4 31.0 L20.0 51.0M27.0 32.1 L28.9 50.2M36.4 37.7 L35.3 55.9M43.8 38.9 L45.1 56.0M49.4 42.2 L56.3 53.7M20.2 54.6 L19.9 71.7M27.0 55.7 L28.9 73.8M36.4 61.3 L35.6 79.4M46.7 59.1 L44.2 74.3M51.7 61.3 L53.9 80.4M20.7 77.0 L23.7 96.1M43.8 79.2 L34.3 96.4M48.3 81.5 L50.2 98.6M29.2 79.2 L29.2 92.6M23.6 38.9 L24.2 54.1M32.6 45.6 L32.0 58.9M40.4 61.3 L41.4 76.5M49.4 47.8 L50.9 61.2M24.7 83.7 L26.6 99.0M39.3 88.2 L43.1 101.6" fill="none" stroke-width="0.35"/><path d="M26.2 22.4 L17.8 15.3 L25.1 23.9M26.3 22.5 L16.5 11.9 L25.0 23.8M26.5 22.8 L20.5 9.8 L24.8 23.5M26.5 23.2 L26.0 6.9 L24.7 23.1M26.5 23.5 L31.0 9.6 L24.8 22.8M26.3 23.8 L33.8 12.9 L25.0 22.5M26.1 23.9 L35.1 15.3 L25.2 22.4M38.5 24.7 L30.6 18.7 L37.5 26.2M38.7 24.9 L32.4 16.8 L37.2 25.9M38.8 25.2 L34.7 13.4 L37.1 25.6M38.9 25.4 L37.6 12.7 L37.1 25.4M38.8 25.7 L42.5 13.9 L37.1 25.1M38.6 26.0 L45.1 16.6 L37.3 24.8M38.4 26.2 L45.4 19.7 L37.5 24.6M49.5 30.5 L41.4 24.3 L48.5 32.0M49.6 30.6 L41.4 21.3 L48.3 31.8M49.8 30.9 L44.3 18.4 L48.1 31.6M49.9 31.3 L50.0 16.6 L48.1 31.2M49.8 31.5 L52.6 17.9 L48.1 31.0M49.6 31.8 L55.5 22.2 L48.3 30.7M49.5 32.0 L56.2 24.1 L48.4 30.5" fill="none" stroke-width="0.45"/></g><path d="M78.1 9.7L75.6 15.0L74.5 20.2L74.1 25.5L73.8 30.8L73.5 36.1L73.1 41.3L72.8 46.6L72.5 51.9L72.2 57.1L71.9 62.4L71.7 67.7L71.4 73.0L71.1 78.2L70.8 83.5L70.5 88.8L70.3 94.0L70.0 99.3L69.7 104.6L70.8 109.9L79.7 115.1L82.0 115.1L90.5 109.9L91.3 104.6L90.8 99.3L90.3 94.0L89.7 88.8L89.2 83.5L88.6 78.2L88.1 73.0L87.5 67.7L87.0 62.4L86.4 57.1L85.9 51.9L85.3 46.6L84.7 41.3L84.1 36.1L83.5 30.8L82.9 25.5L82.3 20.2L80.9 15.0L78.1 9.7Z" fill="#8f8a86" stroke="#55504c" stroke-width="0.95" stroke-linejoin="round"/><path d="M77.4 13.4L81.1 20.3L82.6 26.9L78.1 28.7L76.4 21.0Z" fill="#c4bfbb" stroke="#55504c" stroke-width="0.95" stroke-linejoin="round"/><path d="M79.6 25.6L74.6 32.5L74.0 39.1L79.5 41.0L81.0 33.3Z" fill="#a29d99" stroke="#55504c" stroke-width="0.95" stroke-linejoin="round"/><path d="M77.5 37.9L83.8 44.8L85.0 51.4L78.6 53.2L75.8 45.6Z" fill="#d6d1cd" stroke="#55504c" stroke-width="0.95" stroke-linejoin="round"/><path d="M80.8 50.2L73.3 57.1L72.9 63.6L80.3 65.5L82.7 57.8Z" fill="#b2ada9" stroke="#55504c" stroke-width="0.95" stroke-linejoin="round"/><path d="M77.6 62.4L86.2 69.3L87.3 75.9L79.0 77.7L75.3 70.1Z" fill="#c4bfbb" stroke="#55504c" stroke-width="0.95" stroke-linejoin="round"/><path d="M81.9 74.7L72.1 81.6L71.9 88.2L81.1 90.0L84.4 82.3Z" fill="#a29d99" stroke="#55504c" stroke-width="0.95" stroke-linejoin="round"/><path d="M77.7 86.9L88.6 93.8L89.5 100.4L79.4 102.3L74.9 94.6Z" fill="#d6d1cd" stroke="#55504c" stroke-width="0.95" stroke-linejoin="round"/><path d="M83.0 99.2L71.1 105.7L71.0 111.8L81.9 113.5L86.1 106.4Z" fill="#b2ada9" stroke="#55504c" stroke-width="0.95" stroke-linejoin="round"/></svg>
<div class="t cn" style="left:2142.14px;top:67.19px"><span id="cn13" style="letter-spacing:0.500px">Maize</span></div>
<div class="t sn" style="left:2142.14px;top:107.17px"><span id="sn13_0" style="letter-spacing:-0.012px">(<i>Zea mays</i></span></div>
<div class="t sn" style="left:2142.14px;top:138.57px"><span id="sn13_1" style="letter-spacing:0.225px"><i>mays</i>)</span></div>
<svg class="im" style="left:2240.14px" width="104" height="120" viewBox="0 0 104 120" ><g fill="#fbf9f7" stroke="#796e65" stroke-width="0.72" stroke-linejoin="round"><path d="M33.4 17.8L31.8 15.7L29.9 14.0L27.6 13.1L25.2 13.0L22.8 14.0L20.9 15.7L19.3 18.0L17.9 20.9L16.8 24.2L15.7 28.2L14.8 32.7L13.9 37.7L13.9 37.7L15.7 33.0L17.5 28.8L19.3 25.3L21.0 22.5L22.7 20.3L24.1 18.9L25.3 18.0L26.2 17.6L27.0 17.4L28.2 17.5L29.8 18.1L31.7 19.5Z"/><path d="M34.2 19.6L36.2 18.6L37.9 18.1L39.1 18.1L40.0 18.4L40.8 18.7L41.9 19.4L43.1 20.6L44.4 22.4L45.8 24.8L47.2 27.8L48.5 31.4L49.8 35.5L49.8 35.5L49.5 31.2L49.1 27.3L48.4 23.9L47.6 20.9L46.5 18.4L45.1 16.3L43.3 14.6L41.1 13.8L38.7 13.8L36.5 14.5L34.5 15.9L32.7 17.7Z"/><path d="M32.6 35.8L31.4 34.1L29.9 32.6L28.3 31.5L26.4 31.1L24.4 31.4L22.8 32.4L21.5 33.9L20.5 35.8L19.8 38.0L19.2 40.5L18.7 43.4L18.4 46.7L18.4 46.7L19.6 43.7L20.9 41.1L22.1 39.0L23.3 37.4L24.4 36.3L25.3 35.8L25.9 35.5L26.4 35.4L27.0 35.4L28.1 35.6L29.4 36.2L31.1 37.4Z"/><path d="M32.1 48.9L30.1 48.1L27.9 47.6L25.6 47.6L23.4 48.0L21.3 48.9L19.3 50.2L17.6 51.9L16.1 53.9L14.8 56.2L13.6 58.8L12.6 61.6L11.7 64.7L11.7 64.7L13.5 62.0L15.3 59.8L17.0 57.8L18.7 56.2L20.4 54.9L22.0 53.9L23.5 53.1L24.9 52.4L26.4 51.9L27.9 51.5L29.6 51.2L31.6 51.3Z"/><path d="M34.0 48.8L35.6 48.2L36.9 48.1L37.9 48.2L38.7 48.4L39.5 48.8L40.4 49.3L41.4 50.3L42.6 51.6L43.8 53.4L45.1 55.6L46.3 58.2L47.6 61.3L47.6 61.3L47.2 58.0L46.8 55.0L46.2 52.4L45.4 50.1L44.4 48.0L43.2 46.3L41.7 45.0L39.9 44.3L37.9 44.1L36.1 44.6L34.4 45.6L32.9 46.9Z"/><path d="M32.4 73.6L30.0 72.1L27.5 71.0L24.8 70.3L22.0 70.2L19.3 70.7L16.6 71.8L14.1 73.3L11.8 75.3L9.6 77.7L7.6 80.5L5.7 83.6L3.8 87.1L3.8 87.1L6.5 84.2L9.1 81.8L11.6 79.8L14.0 78.2L16.3 76.9L18.5 76.1L20.6 75.5L22.5 75.1L24.5 74.9L26.6 74.9L28.9 75.2L31.3 75.9Z"/><path d="M34.1 84.7L36.2 83.7L38.2 83.0L40.0 82.6L41.7 82.3L43.2 82.1L44.8 82.1L46.4 82.1L48.0 82.3L49.8 82.8L51.7 83.6L53.8 84.6L55.9 86.0L55.9 86.0L54.4 83.9L52.9 82.0L51.2 80.4L49.4 79.1L47.4 78.1L45.2 77.5L43.0 77.4L40.8 77.7L38.6 78.4L36.5 79.6L34.6 81.0L32.8 82.7Z"/><path d="M32.7 83.1L32.0 81.7L31.1 80.5L30.1 79.5L28.8 78.9L27.3 78.9L26.0 79.7L25.1 80.8L24.6 82.0L24.3 83.5L24.1 85.2L24.0 87.1L24.0 89.3L24.0 89.3L24.8 87.3L25.6 85.7L26.4 84.3L27.2 83.4L27.8 82.9L28.2 82.7L28.3 82.8L28.2 82.8L28.4 82.8L29.1 82.9L30.0 83.4L31.1 84.3Z"/><path d="M33.5 106.8L35.1 106.0L36.7 105.3L38.1 104.8L39.5 104.4L40.8 104.0L42.1 103.7L43.4 103.5L44.8 103.4L46.2 103.4L47.7 103.6L49.3 103.9L50.9 104.4L50.9 104.4L49.6 103.2L48.2 102.3L46.7 101.5L45.1 100.9L43.5 100.6L41.8 100.5L40.1 100.7L38.4 101.2L36.8 101.9L35.3 102.9L33.9 104.1L32.5 105.5Z"/><path d="M32.7 61.9L34.2 60.5L35.5 59.5L36.5 59.0L37.2 58.8L37.5 58.8L37.8 58.8L38.3 59.0L39.1 59.6L40.1 60.7L41.1 62.3L42.1 64.4L43.1 66.9L43.1 66.9L42.9 64.2L42.6 61.8L42.2 59.8L41.6 58.0L40.7 56.5L39.4 55.4L37.8 54.8L36.1 55.0L34.5 55.9L33.3 57.2L32.1 58.8L31.1 60.7Z"/><path d="M33.4 22.7L33.0 21.3L32.4 20.1L31.4 19.1L29.9 18.6L28.4 18.9L27.3 19.9L26.6 21.1L26.1 22.6L25.8 24.2L25.5 26.2L25.3 28.5L25.1 31.0L25.1 31.0L26.1 28.7L27.1 26.7L28.0 25.0L28.8 23.8L29.5 22.9L30.0 22.5L30.2 22.5L29.9 22.5L29.7 22.3L30.1 22.3L30.8 22.8L31.7 23.7Z"/><path d="M34.2 23.8L35.5 22.7L36.5 22.0L37.3 21.6L37.7 21.6L37.8 21.6L37.8 21.5L38.2 21.5L38.8 21.9L39.5 22.8L40.3 24.0L41.1 25.7L42.0 27.6L42.0 27.6L42.0 25.5L41.9 23.6L41.7 21.9L41.3 20.4L40.6 19.2L39.6 18.1L38.1 17.6L36.6 17.8L35.3 18.5L34.3 19.6L33.4 21.0L32.6 22.6Z"/><path d="M30.5 111.1 L34.6 111.1 L34.1 15.3 L31.9 15.3 Z"/><path d="M30.7 34.4 L34.6 34.4M30.7 52.3 L34.6 52.3M30.7 70.3 L34.6 70.3M30.7 88.2 L34.6 88.2M30.7 101.7 L34.6 101.7" fill="none"/><path d="M33.7 15.0 L27.6 11.1 L32.8 16.5M33.9 15.2 L28.2 8.8 L32.5 16.3M34.0 15.4 L29.4 6.5 L32.4 16.1M34.1 15.8 L34.0 4.1 L32.3 15.7M34.1 16.1 L36.6 6.7 L32.4 15.4M33.9 16.3 L38.2 8.6 L32.5 15.2M33.7 16.5 L38.5 10.6 L32.7 15.0" fill="none" stroke-width="0.5"/><ellipse cx="38.8" cy="55.7" rx="2.8" ry="6.5" transform="rotate(15 38.8 55.7)"/><path d="M32.5 111.1 l-8 3 M32.5 111.1 l8 3 M32.5 111.1 l-4 3.5 M32.5 111.1 l4 3.5" fill="none"/></g><clipPath id="mzc"><path d="M78.3 3.0L74.9 5.9L73.5 8.8L71.6 11.7L71.3 14.5L71.0 17.4L70.7 20.3L70.4 23.2L70.2 26.1L69.9 29.0L69.6 31.9L69.4 34.8L69.1 37.7L68.9 40.6L68.7 43.5L68.4 46.4L68.2 49.3L68.0 52.2L67.8 55.1L67.5 58.0L67.3 60.8L67.1 63.7L66.9 66.6L66.7 69.5L66.5 72.4L66.3 75.3L66.1 78.2L65.9 81.1L65.7 84.0L65.5 86.9L65.3 89.8L65.3 92.7L65.4 95.6L65.4 98.5L65.5 101.4L65.5 104.3L65.6 107.1L65.6 110.0L66.3 112.9L69.1 115.8L79.9 118.7L80.3 118.7L91.1 115.8L93.7 112.9L94.3 110.0L94.3 107.1L94.2 104.3L94.2 101.4L94.1 98.5L94.1 95.6L94.0 92.7L94.0 89.8L93.7 86.9L93.4 84.0L93.1 81.1L92.9 78.2L92.6 75.3L92.3 72.4L92.0 69.5L91.7 66.6L91.4 63.7L91.1 60.8L90.8 58.0L90.5 55.1L90.1 52.2L89.8 49.3L89.5 46.4L89.2 43.5L88.9 40.6L88.5 37.7L88.2 34.8L87.9 31.9L87.5 29.0L87.2 26.1L86.8 23.2L86.4 20.3L86.1 17.4L85.7 14.5L85.2 11.7L83.3 8.8L81.8 5.9L78.3 3.0Z"/></clipPath><path d="M78.3 3.0L74.9 5.9L73.5 8.8L71.6 11.7L71.3 14.5L71.0 17.4L70.7 20.3L70.4 23.2L70.2 26.1L69.9 29.0L69.6 31.9L69.4 34.8L69.1 37.7L68.9 40.6L68.7 43.5L68.4 46.4L68.2 49.3L68.0 52.2L67.8 55.1L67.5 58.0L67.3 60.8L67.1 63.7L66.9 66.6L66.7 69.5L66.5 72.4L66.3 75.3L66.1 78.2L65.9 81.1L65.7 84.0L65.5 86.9L65.3 89.8L65.3 92.7L65.4 95.6L65.4 98.5L65.5 101.4L65.5 104.3L65.6 107.1L65.6 110.0L66.3 112.9L69.1 115.8L79.9 118.7L80.3 118.7L91.1 115.8L93.7 112.9L94.3 110.0L94.3 107.1L94.2 104.3L94.2 101.4L94.1 98.5L94.1 95.6L94.0 92.7L94.0 89.8L93.7 86.9L93.4 84.0L93.1 81.1L92.9 78.2L92.6 75.3L92.3 72.4L92.0 69.5L91.7 66.6L91.4 63.7L91.1 60.8L90.8 58.0L90.5 55.1L90.1 52.2L89.8 49.3L89.5 46.4L89.2 43.5L88.9 40.6L88.5 37.7L88.2 34.8L87.9 31.9L87.5 29.0L87.2 26.1L86.8 23.2L86.4 20.3L86.1 17.4L85.7 14.5L85.2 11.7L83.3 8.8L81.8 5.9L78.3 3.0Z" fill="#f5f0ec" stroke="#83786f" stroke-width="1.1"/><path d="M74.1 7.4 Q78.4 9.0 82.7 7.4M71.6 11.9 Q78.4 13.5 85.3 11.9M71.1 16.3 Q78.5 17.9 85.9 16.3M70.7 20.8 Q78.6 22.4 86.5 20.8M70.2 25.2 Q78.6 26.8 87.1 25.2M69.8 29.7 Q78.7 31.3 87.6 29.7M69.4 34.1 Q78.8 35.7 88.1 34.1M69.1 38.6 Q78.9 40.2 88.6 38.6M68.7 43.0 Q78.9 44.6 89.1 43.0M68.4 47.5 Q79.0 49.1 89.6 47.5M68.0 51.9 Q79.1 53.5 90.1 51.9M67.7 56.4 Q79.1 58.0 90.6 56.4M67.3 60.8 Q79.2 62.4 91.1 60.8M67.0 65.3 Q79.3 66.9 91.5 65.3M66.7 69.7 Q79.3 71.3 92.0 69.7M66.4 74.2 Q79.4 75.8 92.4 74.2M66.1 78.7 Q79.5 80.3 92.9 78.7M65.7 83.1 Q79.5 84.7 93.3 83.1M65.4 87.6 Q79.6 89.2 93.8 87.6M65.3 92.0 Q79.7 93.6 94.0 92.0M65.4 96.5 Q79.8 98.1 94.1 96.5M65.5 100.9 Q79.8 102.5 94.2 100.9M65.5 105.4 Q79.9 107.0 94.2 105.4M65.6 109.8 Q80.0 111.4 94.3 109.8M67.2 114.3 Q80.0 115.9 92.8 114.3M78.3 3.0L76.0 5.9L75.1 8.8L73.8 11.7L73.6 14.5L73.4 17.4L73.2 20.3L73.1 23.2L72.9 26.1L72.7 29.0L72.6 31.9L72.4 34.8L72.2 37.7L72.1 40.6L72.0 43.5L71.8 46.4L71.7 49.3L71.5 52.2L71.4 55.1L71.3 58.0L71.1 60.8L71.0 63.7L70.9 66.6L70.7 69.5L70.6 72.4L70.5 75.3L70.4 78.2L70.2 81.1L70.1 84.0L70.0 86.9L69.9 89.8L69.9 92.7L70.0 95.6L70.0 98.5L70.1 101.4L70.1 104.3L70.2 107.1L70.2 110.0L70.7 112.9L72.6 115.8L79.9 118.7M78.3 3.0L77.1 5.9L76.6 8.8L76.0 11.7L75.9 14.5L75.8 17.4L75.7 20.3L75.7 23.2L75.6 26.1L75.5 29.0L75.5 31.9L75.4 34.8L75.4 37.7L75.3 40.6L75.2 43.5L75.2 46.4L75.1 49.3L75.1 52.2L75.0 55.1L75.0 58.0L74.9 60.8L74.9 63.7L74.8 66.6L74.8 69.5L74.7 72.4L74.7 75.3L74.7 78.2L74.6 81.1L74.6 84.0L74.5 86.9L74.5 89.8L74.5 92.7L74.6 95.6L74.6 98.5L74.7 101.4L74.7 104.3L74.7 107.1L74.8 110.0L75.1 112.9L76.1 115.8L80.0 118.7M78.3 3.0L78.2 5.9L78.2 8.8L78.2 11.7L78.2 14.5L78.2 17.4L78.3 20.3L78.3 23.2L78.3 26.1L78.4 29.0L78.4 31.9L78.4 34.8L78.5 37.7L78.5 40.6L78.5 43.5L78.6 46.4L78.6 49.3L78.6 52.2L78.7 55.1L78.7 58.0L78.7 60.8L78.8 63.7L78.8 66.6L78.8 69.5L78.9 72.4L78.9 75.3L78.9 78.2L79.0 81.1L79.0 84.0L79.0 86.9L79.1 89.8L79.1 92.7L79.2 95.6L79.2 98.5L79.3 101.4L79.3 104.3L79.3 107.1L79.4 110.0L79.5 112.9L79.6 115.8L80.1 118.7M78.3 3.0L79.4 5.9L79.9 8.8L80.5 11.7L80.6 14.5L80.8 17.4L80.9 20.3L81.1 23.2L81.2 26.1L81.3 29.0L81.5 31.9L81.6 34.8L81.7 37.7L81.9 40.6L82.0 43.5L82.1 46.4L82.3 49.3L82.4 52.2L82.5 55.1L82.6 58.0L82.8 60.8L82.9 63.7L83.0 66.6L83.1 69.5L83.2 72.4L83.4 75.3L83.5 78.2L83.6 81.1L83.7 84.0L83.8 86.9L84.0 89.8L84.0 92.7L84.0 95.6L84.1 98.5L84.1 101.4L84.2 104.3L84.2 107.1L84.3 110.0L84.1 112.9L83.4 115.8L80.2 118.7M78.3 3.0L80.6 5.9L81.5 8.8L82.8 11.7L83.1 14.5L83.3 17.4L83.6 20.3L83.9 23.2L84.1 26.1L84.3 29.0L84.6 31.9L84.8 34.8L85.0 37.7L85.3 40.6L85.5 43.5L85.7 46.4L85.9 49.3L86.2 52.2L86.4 55.1L86.6 58.0L86.8 60.8L87.0 63.7L87.2 66.6L87.4 69.5L87.6 72.4L87.8 75.3L88.0 78.2L88.2 81.1L88.4 84.0L88.6 86.9L88.8 89.8L88.9 92.7L88.9 95.6L89.0 98.5L89.0 101.4L89.1 104.3L89.1 107.1L89.2 110.0L88.8 112.9L87.1 115.8L80.2 118.7" fill="none" stroke="#978c83" stroke-width="0.7" clip-path="url(#mzc)"/></svg>
<div class="bar"></div>
<svg class="bararc" style="position:absolute;left:480px;top:336px" width="1880" height="40" viewBox="0 0 1880 40"><path d="M20 5.6A14.2 14.2 0 0 0 20 34 M1860 5.6A14.2 14.2 0 0 1 1860 34" fill="none" stroke="#7dbde9" stroke-width="0.6"/></svg>
<div class="tick" style="left:527.86px"></div>
<div class="lab" style="left:383.86px;top:421.00px"><div><span id="lb0_0">1:</span></div><div><span id="lb0_1">Cellular</span></div><div><span id="lb0_2">Organisms</span></div></div>
<div class="tick" style="left:663.57px"></div>
<div class="lab" style="left:519.57px;top:421.00px"><div><span id="lb1_0">2:</span></div><div><span id="lb1_1">Domain:</span></div><div><span id="lb1_2">Eukaryota</span></div></div>
<div class="tick" style="left:799.29px"></div>
<div class="lab" style="left:655.29px;top:421.00px"><div><span id="lb2_0">3:</span></div><div><span id="lb2_1" style="letter-spacing:0.80px;margin-right:-0.80px">Kingdom:</span></div><div><span id="lb2_2" style="letter-spacing:1.05px;margin-right:-1.05px">Viridiplantae</span></div></div>
<div class="tick" style="left:935.00px"></div>
<div class="lab" style="left:791.00px;top:421.00px"><div><span id="lb3_0">4:</span></div><div><span id="lb3_1" style="letter-spacing:0.75px;margin-right:-0.75px">Phylum:</span></div><div><span id="lb3_2" style="letter-spacing:1.00px;margin-right:-1.00px">Streptophyta</span></div></div>
<div class="tick" style="left:1070.71px"></div>
<div class="lab" style="left:926.71px;top:421.00px"><div><span id="lb4_0">5:</span></div><div><span id="lb4_1">Land plants</span></div><div><span id="lb4_2" style="letter-spacing:0.50px;margin-right:-0.50px">(Embryophyta)</span></div></div>
<div class="tick" style="left:1206.43px"></div>
<div class="lab" style="left:1062.43px;top:421.00px"><div><span id="lb5_0">6:</span></div><div><span id="lb5_1" style="letter-spacing:-0.05px;margin-right:--0.05px">Class:</span></div><div><span id="lb5_2" style="letter-spacing:1.05px;margin-right:-1.05px">Magnoliopsida</span></div></div>
<div class="tick" style="left:1342.14px"></div>
<div class="lab" style="left:1198.14px;top:421.00px"><div><span id="lb6_0">7:</span></div><div><span id="lb6_1" style="letter-spacing:0.65px;margin-right:-0.65px">Monocots</span></div><div><span id="lb6_2" style="letter-spacing:0.35px;margin-right:-0.35px">(Liliopsida)</span></div></div>
<div class="tick" style="left:1477.86px"></div>
<div class="lab" style="left:1333.86px;top:421.00px"><div><span id="lb7_0">8:</span></div><div><span id="lb7_1">Order:</span></div><div><span id="lb7_2">Poales</span></div></div>
<div class="tick" style="left:1613.57px"></div>
<div class="lab" style="left:1469.57px;top:421.00px"><div><span id="lb8_0">9:</span></div><div><span id="lb8_1">Family:</span></div><div><span id="lb8_2">Poaceae</span></div></div>
<div class="tick" style="left:1749.29px"></div>
<div class="lab" style="left:1605.29px;top:421.00px"><div><span id="lb9_0">10:</span></div><div><span id="lb9_1">Subfamily:</span></div><div><span id="lb9_2" style="letter-spacing:0.45px;margin-right:-0.45px">Panicoideae</span></div></div>
<div class="tick" style="left:1885.00px"></div>
<div class="lab" style="left:1741.00px;top:421.00px"><div><span id="lb10_0">11:</span></div><div><span id="lb10_1">Tribe:</span></div><div><span id="lb10_2" style="letter-spacing:0.85px;margin-right:-0.85px">Andropogoneae</span></div></div>
<div class="tick" style="left:2020.71px"></div>
<div class="lab" style="left:1876.71px;top:421.00px"><div><span id="lb11_0">12:</span></div><div><span id="lb11_1">Genus:</span></div><div><span id="lb11_2">Zea</span></div></div>
<div class="tick" style="left:2156.43px"></div>
<div class="lab" style="left:2012.43px;top:421.00px"><div><span id="lb12_0">13:</span></div><div><span id="lb12_1" style="letter-spacing:-0.05px;margin-right:--0.05px">Species:</span></div><div><span id="lb12_2">Zea</span></div><div><span id="lb12_3">mays</span></div></div>
<div class="tick" style="left:2292.14px"></div>
<div class="lab" style="left:2148.14px;top:421.00px"><div><span id="lb13_0">14:</span></div><div><span id="lb13_1">Subspecies:</span></div><div><span id="lb13_2">Zea mays</span></div><div><span id="lb13_3">mays</span></div></div>
</body></html>
